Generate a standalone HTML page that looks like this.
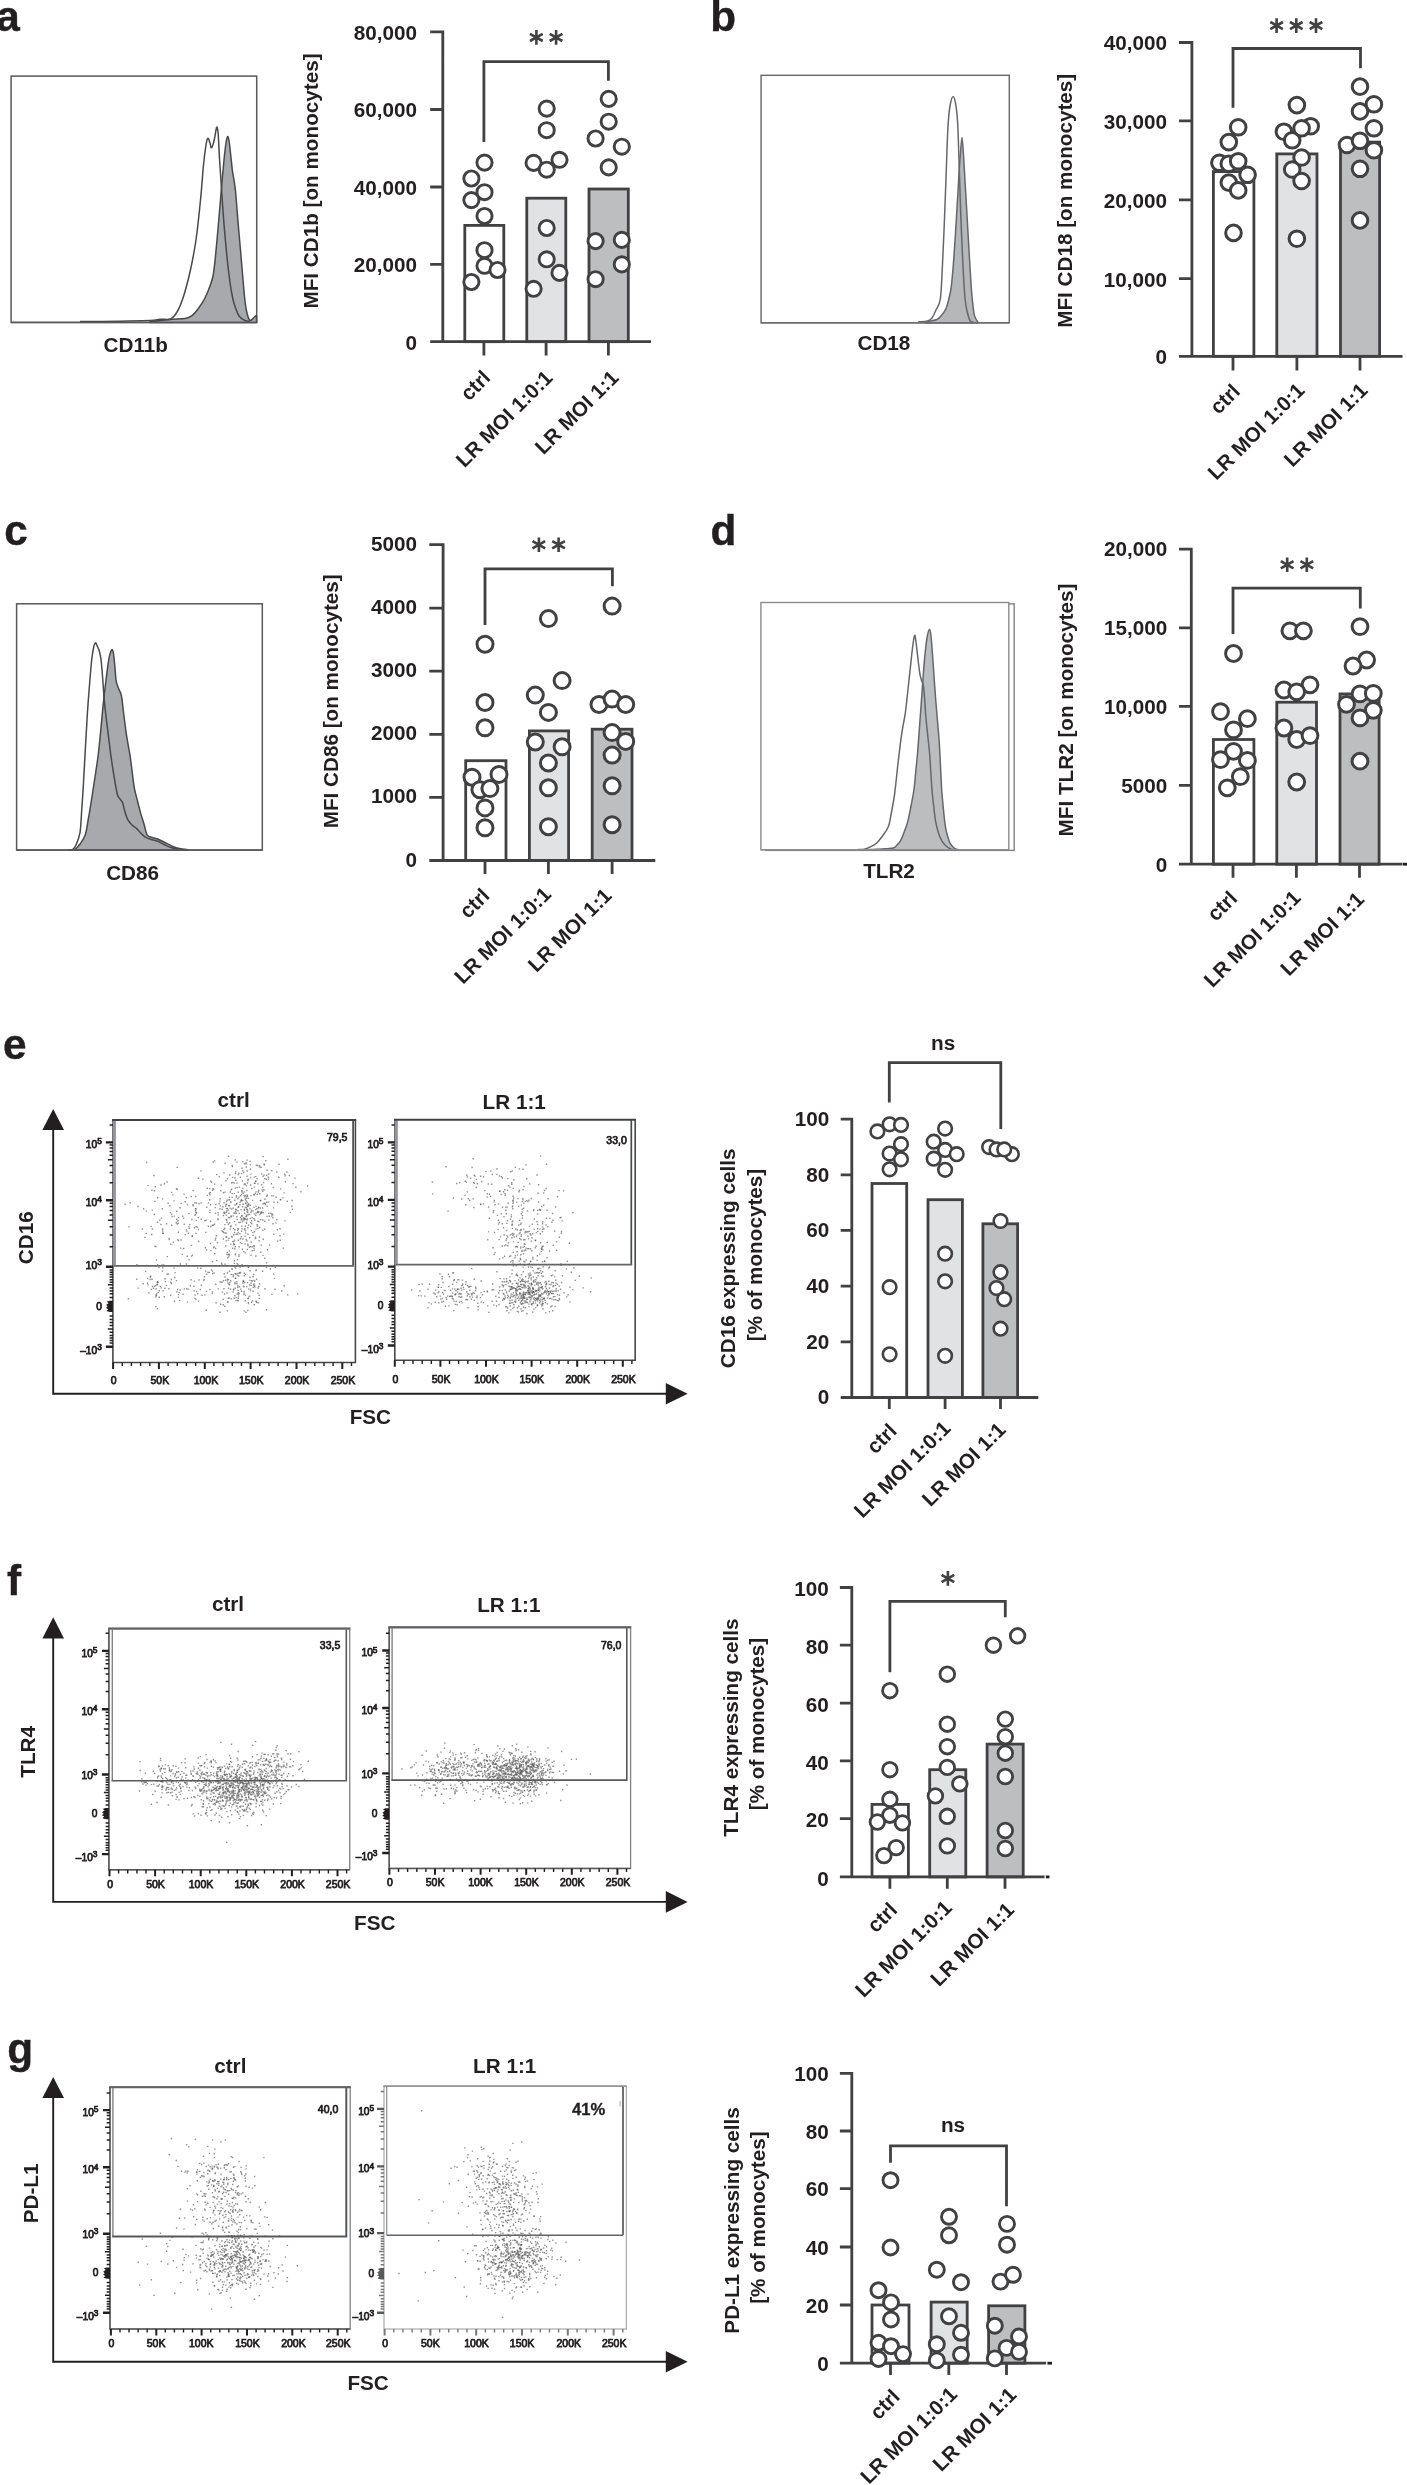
<!DOCTYPE html>
<html><head><meta charset="utf-8"><title>Figure</title>
<style>
html,body{margin:0;padding:0;background:#fff}
svg{display:block;font-family:"Liberation Sans",sans-serif;will-change:transform;-webkit-font-smoothing:antialiased}
</style></head><body>
<svg width="1407" height="2485" viewBox="0 0 1407 2485">
<rect width="1407" height="2485" fill="#fff"/>
<text x="-3.7" y="30.9" font-size="42.3" text-anchor="start" font-weight="bold" fill="#231f20" stroke="#231f20" stroke-width="0.4">a</text>
<text x="710.3" y="30.8" font-size="42.3" text-anchor="start" font-weight="bold" fill="#231f20" stroke="#231f20" stroke-width="0.4">b</text>
<text x="4.3" y="544.5" font-size="42.3" text-anchor="start" font-weight="bold" fill="#231f20" stroke="#231f20" stroke-width="0.4">c</text>
<text x="710.6" y="544.6" font-size="42.3" text-anchor="start" font-weight="bold" fill="#231f20" stroke="#231f20" stroke-width="0.4">d</text>
<text x="2.9" y="1059.2" font-size="42.3" text-anchor="start" font-weight="bold" fill="#231f20" stroke="#231f20" stroke-width="0.4">e</text>
<text x="7.1" y="1594.9" font-size="42.3" text-anchor="start" font-weight="bold" fill="#231f20" stroke="#231f20" stroke-width="0.4">f</text>
<text x="7.2" y="2063" font-size="42.3" text-anchor="start" font-weight="bold" fill="#231f20" stroke="#231f20" stroke-width="0.4">g</text>
<rect x="11.1" y="76.1" width="245.6" height="246.3" fill="#fff" stroke="#58595b" stroke-width="1.5"/>
<path d="M150 321.6C153.3 321.2 164.2 320 170 319.5C175.8 319 181.3 319.1 185 318.5C188.7 317.9 189.8 317.2 192 315.6C194.2 314 195.9 311.9 198 309C200.1 306.1 202.7 302.3 204.7 298.5C206.7 294.7 208.6 289.9 210 286C211.4 282.1 212.3 280 213.2 275C214.1 270 214.8 262.8 215.5 256C216.2 249.2 216.8 242.5 217.5 234.5C218.2 226.5 219.1 216.2 219.8 208C220.5 199.8 221 193.5 221.7 185.5C222.4 177.5 223.3 167.1 224 160C224.7 152.9 225.4 146.9 226 143C226.6 139.1 227.2 136.7 227.7 136.5C228.2 136.3 228.7 138.8 229.2 142C229.7 145.2 230.3 151.2 230.8 156C231.3 160.8 231.9 166.6 232.4 170.6C232.9 174.6 233.5 176.4 234 180C234.5 183.6 234.9 184.7 235.6 192C236.3 199.3 237.3 213.3 238.2 224C239.1 234.7 240.2 246.3 241 256C241.8 265.7 242.5 274.2 243.2 282C243.9 289.8 244.5 297.5 245.2 302.8C245.9 308.1 246.5 311.1 247.2 314C247.9 316.9 248.7 319.1 249.5 320C250.3 320.9 251.2 320 252 319.5C252.8 319 253.8 317.7 254.5 317C255.2 316.3 256.2 315.8 256.5 315.5L256.5 322.4L150 322.4Z" fill="#a7a9ac" stroke="#48494b" stroke-width="1.5" stroke-linejoin="round"/>
<path d="M80 321.6C86.7 321.5 108.3 321.4 120 321.2C131.7 321 143.3 320.9 150 320.6C156.7 320.3 156.6 319.5 160 319.2C163.4 318.9 167.8 320.2 170.6 319C173.4 317.8 174.9 315.5 177 312C179.1 308.5 180.8 304.7 183 298C185.2 291.3 187.8 281.7 190 272C192.2 262.3 194.2 252 196 240C197.8 228 199.2 212.5 200.5 200C201.8 187.5 202.6 174.2 203.5 165C204.4 155.8 205.3 149.5 206 145C206.7 140.5 207.2 138.5 207.9 138.2C208.6 137.9 209.4 141.4 210 143C210.6 144.6 210.8 148.1 211.5 147.8C212.2 147.5 213.2 144 214 141C214.8 138 215.5 132.3 216 130C216.5 127.7 216.6 126.6 217 127.3C217.4 128 217.8 128.6 218.2 134C218.6 139.4 219 150.3 219.6 160C220.2 169.7 220.9 180.2 221.7 191.9C222.5 203.6 223.4 217.6 224.5 230C225.6 242.4 226.8 256.2 228 266.5C229.2 276.8 230.4 285.6 231.5 292C232.6 298.4 233.2 301 234.5 305C235.8 309 237.2 313.4 239 316C240.8 318.6 243.2 319.6 245 320.5C246.8 321.4 249.2 321.3 250 321.5" fill="none" stroke="#48494b" stroke-width="1.5" stroke-linejoin="round"/>
<path d="M11.1 322.4H256.7" stroke="#58595b" stroke-width="1.5"/>
<text x="135.8" y="352.2" font-size="20.7" text-anchor="middle" font-weight="bold" fill="#231f20">CD11b</text>
<rect x="464.8" y="225.4" width="39" height="116.3" fill="#ffffff" stroke="#414042" stroke-width="2.8"/>
<rect x="526.8" y="198.2" width="39" height="143.5" fill="#e1e2e3" stroke="#414042" stroke-width="2.8"/>
<rect x="589" y="189" width="39.3" height="152.7" fill="#bdbec0" stroke="#414042" stroke-width="2.8"/>
<path d="M442.8 30.4V341.7M430.2 341.7H651M430.2 31.8H442.8M430.2 109.5H442.8M430.2 187H442.8M430.2 264.4H442.8M483.9 341.7V355.4M546.1 341.7V355.4M608.4 341.7V355.4M483.9 142V61.7H608.4V80.8" stroke="#414042" stroke-width="2.8" fill="none"/>
<g fill="#fff" stroke="#414042" stroke-width="2.9"><circle cx="484.5" cy="162.6" r="7.6"/><circle cx="471.4" cy="178.5" r="7.6"/><circle cx="484.5" cy="192.2" r="7.6"/><circle cx="471.4" cy="200.1" r="7.6"/><circle cx="484.5" cy="216" r="7.6"/><circle cx="484.5" cy="250.2" r="7.6"/><circle cx="484.5" cy="265.8" r="7.6"/><circle cx="497.5" cy="270" r="7.6"/><circle cx="471.4" cy="282" r="7.6"/><circle cx="546.7" cy="108.6" r="7.6"/><circle cx="546.7" cy="130.2" r="7.6"/><circle cx="533.6" cy="162.9" r="7.6"/><circle cx="559.5" cy="159.8" r="7.6"/><circle cx="546.7" cy="169.7" r="7.6"/><circle cx="546.7" cy="228" r="7.6"/><circle cx="546.7" cy="259.3" r="7.6"/><circle cx="559.5" cy="272.9" r="7.6"/><circle cx="533.6" cy="288.8" r="7.6"/><circle cx="608.7" cy="98.9" r="7.6"/><circle cx="608.7" cy="121.7" r="7.6"/><circle cx="595.6" cy="138.5" r="7.6"/><circle cx="621.8" cy="146.7" r="7.6"/><circle cx="608.7" cy="167.4" r="7.6"/><circle cx="595.6" cy="241.1" r="7.6"/><circle cx="621.8" cy="239.9" r="7.6"/><circle cx="621.8" cy="264.4" r="7.6"/><circle cx="595.6" cy="279.2" r="7.6"/></g>
<text x="417" y="39.7" font-size="20.7" text-anchor="end" font-weight="bold" fill="#231f20">80,000</text>
<text x="417" y="117.4" font-size="20.7" text-anchor="end" font-weight="bold" fill="#231f20">60,000</text>
<text x="417" y="194.9" font-size="20.7" text-anchor="end" font-weight="bold" fill="#231f20">40,000</text>
<text x="417" y="272.3" font-size="20.7" text-anchor="end" font-weight="bold" fill="#231f20">20,000</text>
<text x="417" y="349.6" font-size="20.7" text-anchor="end" font-weight="bold" fill="#231f20">0</text>
<path d="M536.4 30.1L536.4 44.7M530 33.8L542.7 41M542.7 33.8L530 41" stroke="#414042" stroke-width="2.6" fill="none"/>
<path d="M556.1 30.1L556.1 44.7M549.7 33.8L562.4 41M562.4 33.8L549.7 41" stroke="#414042" stroke-width="2.6" fill="none"/>
<text x="317.8" y="181" font-size="20.7" text-anchor="middle" font-weight="bold" fill="#231f20" transform="rotate(-90 317.8 181)">MFI CD1b [on monocytes]</text>
<text x="491.7" y="379" font-size="20.7" text-anchor="end" font-weight="bold" fill="#231f20" transform="rotate(-45 491.7 379)">ctrl</text>
<text x="553.9" y="379" font-size="20.7" text-anchor="end" font-weight="bold" fill="#231f20" transform="rotate(-45 553.9 379)">LR MOI 1:0:1</text>
<text x="619.8" y="379" font-size="20.7" text-anchor="end" font-weight="bold" fill="#231f20" transform="rotate(-45 619.8 379)">LR MOI 1:1</text>
<rect x="761.1" y="75.3" width="248.2" height="247.5" fill="#fff" stroke="#6d6e71" stroke-width="1.5"/>
<path d="M925 322C926.9 321.6 933.5 320.8 936.2 319.8C938.9 318.8 939.4 317.8 941 316C942.6 314.2 944.5 311.7 945.8 309C947.1 306.3 947.7 303.5 948.6 300C949.5 296.5 950.3 293.6 951.1 287.8C951.9 282 952.6 273.9 953.3 265C954 256.1 954.8 244 955.4 234.5C956 225 956.5 216.9 957 208C957.5 199.1 958.1 190 958.6 181.2C959.1 172.4 959.7 162.3 960.3 155C960.9 147.7 961.5 137.5 962 137.5C962.5 137.5 963 147.8 963.5 155C964 162.2 964.5 172.2 965 181C965.5 189.8 966.1 199.1 966.6 208C967.1 216.9 967.6 225.5 968.1 234.5C968.6 243.5 969.2 253.1 969.7 262C970.2 270.9 970.8 280.8 971.3 288C971.8 295.2 972.4 300.4 972.9 305C973.4 309.6 973.7 312.8 974.5 315.6C975.3 318.4 977.2 320.9 977.7 322L977.7 322.8L925 322.8Z" fill="#b5b7b9" stroke="#66676a" stroke-width="1.5" stroke-linejoin="round"/>
<path d="M918 322C919.6 321.8 925.3 321.7 927.6 321C929.9 320.3 930.6 319.8 932 318C933.4 316.2 934.6 313.2 936 310C937.4 306.8 939.3 306.5 940.4 298.5C941.5 290.5 941.9 276.2 942.6 262C943.3 247.8 944.1 228.5 944.7 213.2C945.3 197.9 945.8 184.2 946.3 170C946.8 155.8 947.3 138.7 947.9 128C948.5 117.3 949.1 111.3 950 106C950.9 100.7 952.2 96.4 953.2 96.4C954.2 96.4 955.2 100.7 956 106C956.8 111.3 957.4 117.3 957.9 128C958.4 138.7 958.8 155.8 959.3 170C959.8 184.2 960.1 197.7 960.7 213C961.3 228.3 962.1 247.8 962.8 262C963.5 276.2 964.2 290 965 298.5C965.8 307 966.6 309.2 967.5 313C968.4 316.8 969.2 319.4 970.3 321C971.4 322.6 973.4 322.1 974 322.3" fill="none" stroke="#66676a" stroke-width="1.5" stroke-linejoin="round"/>
<path d="M761.1 322.8H1009.3" stroke="#6d6e71" stroke-width="1.5"/>
<text x="883.9" y="349.7" font-size="20.7" text-anchor="middle" font-weight="bold" fill="#231f20">CD18</text>
<rect x="1213.4" y="171.6" width="40.5" height="184.7" fill="#ffffff" stroke="#414042" stroke-width="2.8"/>
<rect x="1276.8" y="153.9" width="40.2" height="202.4" fill="#e1e2e3" stroke="#414042" stroke-width="2.8"/>
<rect x="1340.5" y="142.1" width="39.1" height="214.2" fill="#bdbec0" stroke="#414042" stroke-width="2.8"/>
<path d="M1191.9 41.1V356.3M1179 356.3H1402.5M1179 42.5H1191.9M1179 120.8H1191.9M1179 199.8H1191.9M1179 278.6H1191.9M1233 356.3V370.4M1296.9 356.3V370.4M1360 356.3V370.4M1233 107.7V48.5H1360.5V68.3" stroke="#414042" stroke-width="2.8" fill="none"/>
<g fill="#fff" stroke="#414042" stroke-width="3"><circle cx="1238.2" cy="127.3" r="7.8"/><circle cx="1228.8" cy="142.1" r="7.8"/><circle cx="1219.4" cy="162.8" r="7.8"/><circle cx="1228.8" cy="163.8" r="7.8"/><circle cx="1238.2" cy="161.2" r="7.8"/><circle cx="1247.6" cy="174.8" r="7.8"/><circle cx="1228.8" cy="182.6" r="7.8"/><circle cx="1238.2" cy="190.4" r="7.8"/><circle cx="1233.5" cy="232.9" r="7.8"/><circle cx="1296.9" cy="105.1" r="7.8"/><circle cx="1310.7" cy="126.2" r="7.8"/><circle cx="1283.9" cy="131.7" r="7.8"/><circle cx="1292.2" cy="140.3" r="7.8"/><circle cx="1301.6" cy="128.3" r="7.8"/><circle cx="1301.6" cy="157.5" r="7.8"/><circle cx="1292.2" cy="169.5" r="7.8"/><circle cx="1301.6" cy="181" r="7.8"/><circle cx="1296.9" cy="238.7" r="7.8"/><circle cx="1360" cy="86.6" r="7.8"/><circle cx="1373.9" cy="104.3" r="7.8"/><circle cx="1360" cy="111.4" r="7.8"/><circle cx="1373.9" cy="128.3" r="7.8"/><circle cx="1347" cy="145" r="7.8"/><circle cx="1360" cy="140.8" r="7.8"/><circle cx="1373.9" cy="150.2" r="7.8"/><circle cx="1360" cy="168.8" r="7.8"/><circle cx="1360" cy="220.4" r="7.8"/></g>
<text x="1167.1" y="50.4" font-size="20.7" text-anchor="end" font-weight="bold" fill="#231f20">40,000</text>
<text x="1167.1" y="128.7" font-size="20.7" text-anchor="end" font-weight="bold" fill="#231f20">30,000</text>
<text x="1167.1" y="207.7" font-size="20.7" text-anchor="end" font-weight="bold" fill="#231f20">20,000</text>
<text x="1167.1" y="286.5" font-size="20.7" text-anchor="end" font-weight="bold" fill="#231f20">10,000</text>
<text x="1167.1" y="364.2" font-size="20.7" text-anchor="end" font-weight="bold" fill="#231f20">0</text>
<path d="M1276.6 18.3L1276.6 32.9M1270.3 22L1282.9 29.2M1282.9 22L1270.3 29.2" stroke="#414042" stroke-width="2.6" fill="none"/>
<path d="M1296.3 18.3L1296.3 32.9M1290 22L1302.6 29.2M1302.6 22L1290 29.2" stroke="#414042" stroke-width="2.6" fill="none"/>
<path d="M1316 18.3L1316 32.9M1309.7 22L1322.3 29.2M1322.3 22L1309.7 29.2" stroke="#414042" stroke-width="2.6" fill="none"/>
<text x="1072.5" y="200.8" font-size="20.7" text-anchor="middle" font-weight="bold" fill="#231f20" transform="rotate(-90 1072.5 200.8)">MFI CD18 [on monocytes]</text>
<text x="1241.3" y="392.6" font-size="20.7" text-anchor="end" font-weight="bold" fill="#231f20" transform="rotate(-45 1241.3 392.6)">ctrl</text>
<text x="1305.8" y="391.7" font-size="20.7" text-anchor="end" font-weight="bold" fill="#231f20" transform="rotate(-45 1305.8 391.7)">LR MOI 1:0:1</text>
<text x="1368.8" y="391.7" font-size="20.7" text-anchor="end" font-weight="bold" fill="#231f20" transform="rotate(-45 1368.8 391.7)">LR MOI 1:1</text>
<rect x="16.6" y="603.8" width="245.7" height="246.3" fill="#fff" stroke="#58595b" stroke-width="1.5"/>
<path d="M70 850C70.8 850 72.9 850.7 74.6 849.7C76.3 848.7 78.2 846.5 80 844C81.8 841.5 83.9 839.1 85.3 834.8C86.7 830.5 87.4 824 88.5 818C89.6 812 90.6 805.3 91.7 798.5C92.8 791.7 93.9 784.1 95 777C96.1 769.9 97.1 763.7 98.1 755.9C99.1 748.1 99.9 738.9 100.8 730C101.7 721.1 102.5 710.9 103.4 702.6C104.3 694.3 105.1 687.1 106 680C106.9 672.9 107.9 664.6 108.7 659.9C109.5 655.2 110 653.7 110.6 652C111.2 650.3 111.9 649.2 112.4 649.7C112.9 650.2 113.3 652 113.7 655C114.1 658 114.6 663.6 115 668C115.4 672.4 115.6 677.7 116.2 681.2C116.8 684.7 117.9 686.5 118.8 689C119.7 691.5 120.7 692.2 121.5 696.2C122.3 700.2 122.9 707.3 123.6 713C124.3 718.7 125.1 725.1 125.8 730.3C126.5 735.5 127.3 739.7 128 744C128.7 748.3 129.4 751.2 130.1 755.9C130.8 760.6 131.5 766.7 132.2 772C132.9 777.3 133.4 783 134.3 787.8C135.2 792.6 136.4 796.7 137.5 801C138.6 805.3 139.6 809.6 140.7 813.4C141.8 817.2 142.9 820.4 144 824C145.1 827.6 145.8 832.5 147.1 834.8C148.4 837 150.2 836.8 152 837.5C153.8 838.2 155.8 838.2 157.8 839C159.8 839.8 161.9 840.9 164 842C166.1 843.1 168.4 844.4 170.6 845.4C172.8 846.4 174.9 847.4 177 848C179.1 848.6 181.6 849 183.4 849.3C185.2 849.6 187.2 849.7 188 849.8L188 850.1L70 850.1Z" fill="#a7a9ac" stroke="#48494b" stroke-width="1.5" stroke-linejoin="round"/>
<path d="M68 850C68.8 850 71.2 850.5 72.5 849.7C73.8 848.9 74.8 847.9 76 845C77.2 842.1 79.1 838.1 80 832.6C80.9 827.1 81.1 819.5 81.6 812C82.1 804.5 82.6 798.1 83.2 787.8C83.8 777.5 84.6 762.4 85.3 750C86 737.6 86.7 724 87.4 713.2C88.1 702.4 88.8 693.9 89.5 685C90.2 676.1 91 666.2 91.7 660C92.4 653.8 92.9 650.9 93.5 648C94.1 645.1 94.9 643.2 95.5 642.9C96.1 642.6 96.6 644.8 97.2 646C97.8 647.2 98.6 648.8 99.1 650.3C99.6 651.8 99.8 653 100.2 655C100.6 657 100.9 657.8 101.3 662C101.7 666.2 102.3 673.2 102.8 680C103.3 686.8 103.7 694.3 104.5 702.6C105.3 710.9 106.6 721.1 107.7 730C108.8 738.9 109.9 748.2 110.9 755.9C112 763.6 112.9 769.6 114 776C115.1 782.4 116.3 790.4 117.3 794.2C118.3 798 119.1 797.6 120 799C120.9 800.4 121.8 800.6 122.6 802.8C123.4 805 124.1 809.2 125 812C125.9 814.8 126.7 817.6 127.9 819.8C129.1 822 130.6 823.6 132 825C133.4 826.4 135.1 827.1 136.5 828.4C137.9 829.7 139.3 831.6 140.7 833C142.1 834.4 143.3 835.8 145 836.9C146.7 838 148.9 838.8 151 839.5C153.1 840.2 155.6 840.4 157.8 841.2C160 842 161.9 843.5 164 844.5C166.1 845.5 168.3 846.8 170.6 847.5C172.9 848.2 175.2 848.6 178 849C180.8 849.4 186 849.6 187.6 849.7" fill="none" stroke="#48494b" stroke-width="1.5" stroke-linejoin="round"/>
<path d="M16.6 850.1H262.3" stroke="#58595b" stroke-width="1.5"/>
<text x="132.6" y="880" font-size="20.7" text-anchor="middle" font-weight="bold" fill="#231f20">CD86</text>
<rect x="465.7" y="760.7" width="40.3" height="99.8" fill="#ffffff" stroke="#414042" stroke-width="2.8"/>
<rect x="529.4" y="730.9" width="39.2" height="129.6" fill="#e1e2e3" stroke="#414042" stroke-width="2.8"/>
<rect x="592.2" y="729.2" width="39.8" height="131.3" fill="#bdbec0" stroke="#414042" stroke-width="2.8"/>
<path d="M443.1 543.3V860.5M429.3 860.5H655.3M429.3 544.7H443.1M429.3 608.1H443.1M429.3 671.2H443.1M429.3 734.3H443.1M429.3 797.4H443.1M485 860.5V873.9M548.4 860.5V873.9M612.1 860.5V873.9M485 625.1V568.8H612.4V586.2" stroke="#414042" stroke-width="2.8" fill="none"/>
<g fill="#fff" stroke="#414042" stroke-width="3"><circle cx="485" cy="644.2" r="8"/><circle cx="485" cy="702.5" r="8"/><circle cx="485" cy="727.8" r="8"/><circle cx="472" cy="777.2" r="8"/><circle cx="499" cy="774.4" r="8"/><circle cx="479.9" cy="789.7" r="8"/><circle cx="489.9" cy="788.6" r="8"/><circle cx="485" cy="807.9" r="8"/><circle cx="485" cy="827.8" r="8"/><circle cx="548.4" cy="618.6" r="8"/><circle cx="562.1" cy="680.6" r="8"/><circle cx="535.3" cy="695.1" r="8"/><circle cx="548.4" cy="712.4" r="8"/><circle cx="535.3" cy="742" r="8"/><circle cx="562.1" cy="746.8" r="8"/><circle cx="548.4" cy="763" r="8"/><circle cx="548.4" cy="787.8" r="8"/><circle cx="548.4" cy="826.7" r="8"/><circle cx="612.1" cy="606.1" r="8"/><circle cx="599" cy="704.5" r="8"/><circle cx="612.1" cy="699.1" r="8"/><circle cx="625.7" cy="704.5" r="8"/><circle cx="612.1" cy="732.6" r="8"/><circle cx="625.7" cy="741.4" r="8"/><circle cx="612.1" cy="755.1" r="8"/><circle cx="612.1" cy="785.8" r="8"/><circle cx="612.1" cy="824.7" r="8"/></g>
<text x="417.1" y="550.7" font-size="20.7" text-anchor="end" font-weight="bold" fill="#231f20">5000</text>
<text x="417.1" y="614.1" font-size="20.7" text-anchor="end" font-weight="bold" fill="#231f20">4000</text>
<text x="417.1" y="677.2" font-size="20.7" text-anchor="end" font-weight="bold" fill="#231f20">3000</text>
<text x="417.1" y="740.3" font-size="20.7" text-anchor="end" font-weight="bold" fill="#231f20">2000</text>
<text x="417.1" y="803.4" font-size="20.7" text-anchor="end" font-weight="bold" fill="#231f20">1000</text>
<text x="417.1" y="866.5" font-size="20.7" text-anchor="end" font-weight="bold" fill="#231f20">0</text>
<path d="M538.9 537.4L538.9 552M532.5 541.1L545.2 548.4M545.2 541.1L532.5 548.4" stroke="#414042" stroke-width="2.6" fill="none"/>
<path d="M558.6 537.4L558.6 552M552.2 541.1L564.9 548.4M564.9 541.1L552.2 548.4" stroke="#414042" stroke-width="2.6" fill="none"/>
<text x="337.7" y="701.3" font-size="20.7" text-anchor="middle" font-weight="bold" fill="#231f20" transform="rotate(-90 337.7 701.3)">MFI CD86 [on monocytes]</text>
<text x="490.9" y="896.8" font-size="20.7" text-anchor="end" font-weight="bold" fill="#231f20" transform="rotate(-45 490.9 896.8)">ctrl</text>
<text x="552.4" y="895.7" font-size="20.7" text-anchor="end" font-weight="bold" fill="#231f20" transform="rotate(-45 552.4 895.7)">LR MOI 1:0:1</text>
<text x="612.9" y="896.8" font-size="20.7" text-anchor="end" font-weight="bold" fill="#231f20" transform="rotate(-45 612.9 896.8)">LR MOI 1:1</text>
<rect x="766" y="603.9" width="248.2" height="246.5" fill="none" stroke="#808285" stroke-width="1.4"/>
<rect x="760.9" y="602.5" width="247.9" height="247.2" fill="#fff" stroke="#8a8c8e" stroke-width="1.4"/>
<path d="M870 849.6C871.1 849.5 873.9 849.3 876.4 849.2C878.9 849.1 882.2 849 885 848.8C887.8 848.6 891.3 848.6 893.3 848C895.3 847.4 895.8 846.2 897 845C898.2 843.8 899.4 842.9 900.6 840.7C901.8 838.5 903 835.2 904.2 832C905.4 828.8 906.7 825.7 907.8 821.4C908.9 817.1 910 811.2 911 806C912 800.8 913.1 795.7 913.9 790C914.7 784.3 915.1 778 915.7 772C916.3 766 916.9 760.7 917.5 753.7C918.1 746.7 918.7 738 919.3 730C919.9 722 920.5 713.7 921.1 705.4C921.7 697.1 922.3 688 922.9 680C923.5 672 924 664.1 924.7 657.1C925.4 650.1 926.2 642.6 927 638C927.8 633.4 928.9 629.3 929.6 629.3C930.3 629.3 930.7 633.8 931.2 638C931.7 642.2 932 648.4 932.5 654.7C933 661 933.5 668.8 934 676C934.5 683.2 935 690.9 935.6 698.2C936.2 705.5 936.8 712.8 937.4 720C938 727.2 938.7 734 939.2 741.7C939.7 749.4 940.1 758 940.5 766C940.9 774 941.2 782.7 941.7 790C942.2 797.3 942.9 804 943.5 810C944.1 816 944.6 821.9 945.3 826.2C946 830.5 946.7 833.2 947.5 836C948.3 838.8 949.2 841.4 950.1 843.2C951 845 952 846 953 847C954 848 955 848.8 956.2 849.2C957.4 849.7 959.4 849.6 960 849.7L960 849.7L870 849.7Z" fill="#bbbdbf" stroke="#66676a" stroke-width="1.5" stroke-linejoin="round"/>
<path d="M858 849.6C859 849.5 862.3 849.6 864.3 849.2C866.3 848.8 868 848 870 847C872 846 874.3 845 876.4 843.2C878.5 841.4 880.5 838.8 882.5 836C884.5 833.2 887 830.2 888.5 826.2C890 822.2 890.5 817.2 891.5 812C892.5 806.8 893.5 802.1 894.5 794.8C895.5 787.5 896.5 776.9 897.5 768C898.5 759.1 899.7 748.7 900.6 741.7C901.5 734.7 902.2 730.8 903 726C903.8 721.2 904.6 718.5 905.4 712.7C906.2 706.9 907 698.2 907.8 691C908.6 683.8 909.4 676.4 910.2 669.2C911 662 911.8 653.6 912.5 648C913.2 642.4 914 636.3 914.6 635.3C915.2 634.3 915.5 638.8 916 642C916.5 645.2 917 650.9 917.5 654.7C918 658.5 918.3 661.8 918.7 665C919.1 668.2 919.4 671.3 919.9 674C920.4 676.7 921.1 679 921.7 681C922.3 683 923 682.9 923.5 686.1C924 689.3 924.3 694.8 924.7 700C925.1 705.2 925.4 711.7 925.9 717.5C926.4 723.3 927.1 729 927.7 735C928.3 741 929.1 747.5 929.6 753.7C930.1 759.9 930.4 766 930.8 772C931.2 778 931.5 784.2 932 790C932.5 795.8 933.2 801.8 933.8 807C934.4 812.2 934.8 817.1 935.6 821.4C936.4 825.7 937.5 829.8 938.5 833C939.5 836.2 940.5 838.5 941.7 840.7C943 842.9 944.4 844.6 946 846C947.6 847.4 949.6 848.6 951.3 849.2C953 849.8 955.2 849.6 956 849.7" fill="none" stroke="#66676a" stroke-width="1.5" stroke-linejoin="round"/>
<path d="M760.9 849.7H1008.8" stroke="#8a8c8e" stroke-width="1.4"/>
<text x="889" y="877.7" font-size="20.7" text-anchor="middle" font-weight="bold" fill="#231f20">TLR2</text>
<rect x="1213.4" y="739.5" width="40.5" height="124.7" fill="#ffffff" stroke="#414042" stroke-width="2.8"/>
<rect x="1276.8" y="702.2" width="39.7" height="162" fill="#e1e2e3" stroke="#414042" stroke-width="2.8"/>
<rect x="1340" y="693.9" width="39.1" height="170.3" fill="#bdbec0" stroke="#414042" stroke-width="2.8"/>
<path d="M1191.3 547.7V864.2M1179 864.2H1402.5M1179 549.1H1191.3M1179 627.9H1191.3M1179 706.4H1191.3M1179 785.4H1191.3M1233 864.2V877.8M1296.4 864.2V877.8M1359.5 864.2V877.8M1233 633.9V588.2H1360.3V608.6" stroke="#414042" stroke-width="2.8" fill="none"/>
<path d="M1403 864.2H1407" stroke="#231f20" stroke-width="2.8"/>
<g fill="#fff" stroke="#414042" stroke-width="3"><circle cx="1233.5" cy="653.5" r="7.9"/><circle cx="1220.5" cy="711.6" r="7.9"/><circle cx="1247.4" cy="718.7" r="7.9"/><circle cx="1233.5" cy="729.9" r="7.9"/><circle cx="1233.5" cy="751.3" r="7.9"/><circle cx="1220.5" cy="759.6" r="7.9"/><circle cx="1247.4" cy="760.4" r="7.9"/><circle cx="1240.3" cy="776.6" r="7.9"/><circle cx="1227.3" cy="787.8" r="7.9"/><circle cx="1289.9" cy="630.8" r="7.9"/><circle cx="1303.4" cy="630.8" r="7.9"/><circle cx="1310" cy="684.8" r="7.9"/><circle cx="1283.9" cy="690" r="7.9"/><circle cx="1296.7" cy="691.8" r="7.9"/><circle cx="1283.9" cy="728" r="7.9"/><circle cx="1296.7" cy="739.5" r="7.9"/><circle cx="1310" cy="735.6" r="7.9"/><circle cx="1296.7" cy="782" r="7.9"/><circle cx="1360" cy="626.6" r="7.9"/><circle cx="1366.6" cy="660" r="7.9"/><circle cx="1353" cy="666" r="7.9"/><circle cx="1360" cy="693.9" r="7.9"/><circle cx="1373.3" cy="693.4" r="7.9"/><circle cx="1346.5" cy="704.3" r="7.9"/><circle cx="1373.3" cy="710.3" r="7.9"/><circle cx="1360" cy="717.9" r="7.9"/><circle cx="1360" cy="761.2" r="7.9"/></g>
<text x="1167.3" y="556.4" font-size="20.7" text-anchor="end" font-weight="bold" fill="#231f20">20,000</text>
<text x="1167.3" y="635.2" font-size="20.7" text-anchor="end" font-weight="bold" fill="#231f20">15,000</text>
<text x="1167.3" y="713.7" font-size="20.7" text-anchor="end" font-weight="bold" fill="#231f20">10,000</text>
<text x="1167.3" y="792.7" font-size="20.7" text-anchor="end" font-weight="bold" fill="#231f20">5000</text>
<text x="1167.3" y="871.5" font-size="20.7" text-anchor="end" font-weight="bold" fill="#231f20">0</text>
<path d="M1287.2 557.5L1287.2 572.1M1280.8 561.1L1293.5 568.4M1293.5 561.1L1280.8 568.4" stroke="#414042" stroke-width="2.6" fill="none"/>
<path d="M1306.8 557.5L1306.8 572.1M1300.5 561.1L1313.2 568.4M1313.2 561.1L1300.5 568.4" stroke="#414042" stroke-width="2.6" fill="none"/>
<text x="1072.5" y="710" font-size="20.7" text-anchor="middle" font-weight="bold" fill="#231f20" transform="rotate(-90 1072.5 710)">MFI TLR2 [on monocytes]</text>
<text x="1238.5" y="899.6" font-size="20.7" text-anchor="end" font-weight="bold" fill="#231f20" transform="rotate(-45 1238.5 899.6)">ctrl</text>
<text x="1301.9" y="899" font-size="20.7" text-anchor="end" font-weight="bold" fill="#231f20" transform="rotate(-45 1301.9 899)">LR MOI 1:0:1</text>
<text x="1365.4" y="900.5" font-size="20.7" text-anchor="end" font-weight="bold" fill="#231f20" transform="rotate(-45 1365.4 900.5)">LR MOI 1:1</text>
<path d="M53.2 1123.9V1393.8H672.6" stroke="#231f20" stroke-width="1.9" fill="none"/>
<path d="M53.2 1108.9L42.4 1130.1L64 1130.1Z" fill="#231f20"/>
<path d="M687.6 1393.8L665.8 1383L665.8 1404.6Z" fill="#231f20"/>
<text x="33.5" y="1237.7" font-size="20.7" text-anchor="middle" font-weight="bold" fill="#231f20" transform="rotate(-90 33.5 1237.7)">CD16</text>
<text x="349.7" y="1423.6" font-size="20.7" text-anchor="start" font-weight="bold" fill="#231f20">FSC</text>
<path d="M250.3 1212.6h1.4M268.6 1216.3h1.4M228.2 1213.2h1.4M227.9 1156.4h1.4M241.2 1216h1.4M233.6 1183.1h1.4M244.8 1195.5h1.4M213.4 1247h1.4M221.4 1231h1.4M257 1211.4h1.4M223.5 1213.3h1.4M234.9 1173.5h1.4M253.4 1248.4h1.4M240.9 1199.5h1.4M237.2 1210.8h1.4M264.7 1204.5h1.4M214 1160.9h1.4M236.4 1187.6h1.4M252.1 1232.6h1.4M229 1217.6h1.4M209.9 1204.8h1.4M261.4 1189.9h1.4M240.3 1209.6h1.4M231.1 1209h1.4M242.3 1239h1.4M240.8 1200.9h1.4M254.2 1183.2h1.4M263.4 1164.2h1.4M244.1 1196.7h1.4M243.5 1220.1h1.4M245.9 1207.8h1.4M266 1175.2h1.4M258.8 1237h1.4M259 1227.5h1.4M224.5 1232.9h1.4M245 1219.3h1.4M228.3 1205.5h1.4M236.3 1183.1h1.4M250 1222.6h1.4M219.3 1208.8h1.4M266.4 1206.1h1.4M241.8 1249.3h1.4M243.9 1213.2h1.4M257.2 1183.9h1.4M221.5 1209.2h1.4M197.5 1217.6h1.4M242.7 1204.1h1.4M239.8 1195.7h1.4M244.9 1230.9h1.4M250.3 1255.3h1.4M244.7 1226.3h1.4M242.2 1200.6h1.4M263.3 1189.8h1.4M250.2 1195.6h1.4M242.2 1204.4h1.4M225.1 1246h1.4M235.6 1266.2h1.4M225.4 1237h1.4M249.6 1218.6h1.4M276.7 1229.7h1.4M254.9 1237.2h1.4M283.1 1234.1h1.4M225.1 1204.8h1.4M233.3 1241.4h1.4M223.3 1172.9h1.4M236.3 1162.1h1.4M222.8 1215.5h1.4M251.5 1250.8h1.4M234.2 1282.5h1.4M263.6 1203.2h1.4M238.4 1197.1h1.4M225.2 1180.8h1.4M229.6 1192h1.4M239.8 1222.4h1.4M225.9 1208.6h1.4M214.6 1207.6h1.4M214.6 1240h1.4M234.6 1188.1h1.4M216.1 1174.6h1.4M245.4 1216.6h1.4M262.3 1176.2h1.4M190.8 1245.4h1.4M219.1 1201.1h1.4M214 1184.1h1.4M247.2 1180.5h1.4M246.2 1190.5h1.4M241.3 1228.7h1.4M236 1204.3h1.4M238.1 1173.3h1.4M237.9 1206.8h1.4M223.4 1212.2h1.4M213.8 1224.2h1.4M242.4 1193.2h1.4M264.1 1229.3h1.4M200.5 1203h1.4M234.6 1246.8h1.4M223.4 1202.8h1.4M228.3 1238.3h1.4M238.3 1222.5h1.4M250.6 1211.1h1.4M249 1237.8h1.4M255 1209.6h1.4M258.1 1221.9h1.4M244.6 1207.5h1.4M244.6 1184.6h1.4M253.7 1187.1h1.4M235.1 1224.9h1.4M251.2 1188.5h1.4M238.5 1213.4h1.4M273.7 1278.4h1.4M250 1185h1.4M229.5 1229.1h1.4M227.7 1224.2h1.4M241 1190.7h1.4M291.1 1206.3h1.4M239.2 1204.8h1.4M269.5 1269h1.4M253.3 1207.4h1.4M241.4 1190.7h1.4M239.4 1267.3h1.4M209.2 1210.4h1.4M244.7 1203.1h1.4M274.6 1267.4h1.4M243.9 1210.3h1.4M241.7 1181h1.4M223.1 1229.6h1.4M228.3 1254.1h1.4M237.6 1192.3h1.4M237.5 1232.4h1.4M219.5 1198.8h1.4M218.4 1203.5h1.4M211.9 1190.2h1.4M243.8 1229.7h1.4M246.5 1171h1.4M223.2 1212.6h1.4M233.3 1213.3h1.4M219.3 1281.9h1.4M245.9 1198.4h1.4M242 1170.8h1.4M252.4 1235.4h1.4M234.3 1177.8h1.4M231.5 1237.1h1.4M251 1210.3h1.4M246.9 1212.6h1.4M279.6 1240.3h1.4M245.8 1185.9h1.4M248 1204.5h1.4M243.6 1184.5h1.4M282.6 1248.1h1.4M272.2 1217.8h1.4M232.5 1215.9h1.4M208.7 1193.3h1.4M233.8 1240.1h1.4M230.1 1244.1h1.4M262.6 1203.8h1.4M253.2 1194.7h1.4M234.9 1211.7h1.4M251.8 1246.7h1.4M265.8 1309.8h1.4M249 1285h1.4M204.1 1294.9h1.4M243.6 1273.2h1.4M253.3 1284h1.4M253.9 1281.2h1.4M253.4 1280.4h1.4M243.6 1310.9h1.4M238.9 1286.7h1.4M243.6 1275.8h1.4M211.8 1271.1h1.4M247.8 1266.8h1.4M264.3 1288.7h1.4M250.5 1285.4h1.4M232.7 1274.9h1.4M224.9 1280.3h1.4M251 1280.8h1.4M249.2 1277.2h1.4M251 1302.2h1.4M260.1 1252.3h1.4M242.1 1283h1.4M240 1289.1h1.4M272.6 1265.5h1.4M234.8 1278.3h1.4M237.3 1273.5h1.4M243.3 1286.8h1.4M258.1 1286.5h1.4M227.2 1302h1.4M237.4 1300.8h1.4M242.8 1286.1h1.4M228.8 1271.2h1.4M273.1 1274.1h1.4M230.6 1274.5h1.4M222.8 1280.8h1.4M210.7 1269.9h1.4M232.4 1274.7h1.4M235.8 1274h1.4M230.6 1298.9h1.4M235.4 1297.6h1.4M211.9 1273.5h1.4M235.2 1274.4h1.4M237.5 1265h1.4M241.4 1264.7h1.4M232.9 1290h1.4M258.4 1295.3h1.4M251.7 1281h1.4M251.9 1300.9h1.4M223.2 1288.8h1.4M188.5 1228.4h1.4M195.4 1226.8h1.4M207.7 1202.9h1.4M186.6 1256.2h1.4M188.4 1259.7h1.4M151.2 1190.2h1.4M200.1 1268.3h1.4M179.3 1207.7h1.4M196.8 1227.1h1.4M192.4 1205.7h1.4M185.7 1264h1.4M175.6 1222.8h1.4M190.8 1256.1h1.4M197.7 1229.5h1.4M165.8 1223.7h1.4M147.3 1185.6h1.4M198.3 1203.7h1.4M153.7 1190.8h1.4M191.5 1236.4h1.4M188.3 1213.6h1.4M136.2 1264.7h1.4M183 1248.5h1.4M194.2 1298.4h1.4M179.6 1264h1.4M160.2 1224.5h1.4M204.2 1220.8h1.4M153.6 1214.5h1.4M157 1197.8h1.4M194.1 1202.7h1.4M168.4 1238.4h1.4M160.8 1218.1h1.4M194.9 1196.5h1.4M210 1181.1h1.4M183.4 1194.1h1.4M184.5 1234.6h1.4M141.7 1229h1.4M159.1 1220.3h1.4M168.5 1239.6h1.4M196.9 1293.7h1.4M172.1 1194.9h1.4M212.9 1189.1h1.4M194.3 1215.3h1.4M195.3 1233.4h1.4M167.4 1203.3h1.4M203.7 1276.7h1.4M145.6 1233.4h1.4M177.7 1232.2h1.4M171.4 1216.5h1.4M154.3 1246.2h1.4M157 1264.7h1.4M161.9 1231h1.4M177.7 1223.4h1.4M194.9 1208.8h1.4M153.2 1175.5h1.4M180.4 1240h1.4M162.4 1233.3h1.4M171 1214.1h1.4M148.2 1292.9h1.4M155.2 1296.9h1.4M136.1 1279.3h1.4M164.4 1278.8h1.4M179.5 1290h1.4M170.7 1279.5h1.4M149.5 1279.5h1.4M154.8 1285.5h1.4M176.9 1289.5h1.4M158.3 1267.6h1.4M158.5 1290.7h1.4M156.9 1281.8h1.4M177.8 1294.6h1.4M146.8 1283.3h1.4M166.4 1274.2h1.4M260.9 1184.8h1.4M262.1 1191.3h1.4M279.8 1199.5h1.4M292.4 1183.6h1.4M271 1195.9h1.4M244.1 1183.6h1.4M287.2 1159.2h1.4M266.3 1216.4h1.4M291.7 1209.2h1.4M286.5 1201.2h1.4M288.7 1175.6h1.4M300.2 1191.8h1.4M264.2 1199.2h1.4M226.3 1293h1.4M249.1 1296.1h1.4M174.5 1272.6h1.4M164.6 1281.6h1.4M170.1 1282.4h1.4M182.3 1294.2h1.4M186.8 1302.1h1.4M219.2 1312.2h1.4M257.9 1302.9h1.4M177.8 1297.1h1.4M226.7 1280.9h1.4M170 1295.2h1.4M274.3 1289.3h1.4M215.4 1302.8h1.4M223.9 1294h1.4M252.4 1291.2h1.4M187.9 1289.1h1.4M228.4 1298h1.4M176.2 1291.8h1.4M198.3 1280h1.4M195.2 1299.3h1.4M257.3 1293.1h1.4M195.9 1291.5h1.4" stroke="#4d4d4f" stroke-opacity="0.62" stroke-width="1.4" fill="none"/>
<path d="M230 1202.6h1.4M235.5 1197.1h1.4M257.4 1212.5h1.4M246.4 1160.1h1.4M247.2 1210.9h1.4M227.5 1240.1h1.4M245.8 1215.2h1.4M244.5 1236.2h1.4M255 1215.2h1.4M228.7 1250.9h1.4M243.3 1195.4h1.4M207.7 1226.2h1.4M239.4 1202.2h1.4M241.8 1221.6h1.4M253.1 1245.8h1.4M255.4 1213h1.4M230 1201.8h1.4M253.1 1218.7h1.4M246.7 1183h1.4M245.5 1239.5h1.4M254.9 1181.1h1.4M217.3 1212.7h1.4M228.2 1205.7h1.4M224.2 1192.1h1.4M241.3 1192h1.4M234.9 1171.9h1.4M214.9 1248.5h1.4M246.3 1211.5h1.4M226.8 1178.7h1.4M237.3 1198.7h1.4M253.5 1246.2h1.4M239.6 1238.7h1.4M273.3 1202.2h1.4M265.7 1267.3h1.4M259.9 1213.3h1.4M246.4 1205.2h1.4M258.9 1167.1h1.4M232.3 1182.4h1.4M214.2 1265.9h1.4M259.6 1200.6h1.4M206 1207.2h1.4M231.9 1177.4h1.4M259.2 1214.6h1.4M266.5 1195h1.4M265.7 1262.9h1.4M243.2 1218.9h1.4M247.3 1245.8h1.4M278.3 1164.3h1.4M239.9 1217.5h1.4M234.9 1209.3h1.4M226.4 1200.2h1.4M247.6 1206h1.4M257.6 1191.6h1.4M227.4 1210h1.4M253.8 1183.4h1.4M268.8 1245.1h1.4M222.8 1192.8h1.4M238.6 1187.1h1.4M245.2 1203.6h1.4M244.2 1228.6h1.4M215.1 1204.5h1.4M230.5 1216.6h1.4M224.2 1213h1.4M241.1 1226.1h1.4M239.2 1233.8h1.4M251.4 1217.7h1.4M262.1 1187.5h1.4M234.1 1248.8h1.4M228.7 1255.1h1.4M267.8 1179.1h1.4M235.6 1209.6h1.4M260.8 1212.4h1.4M233.2 1234.8h1.4M257.7 1192.1h1.4M246.2 1209.2h1.4M223.8 1228.1h1.4M235.1 1180.2h1.4M229.8 1226.8h1.4M233.7 1263.4h1.4M220.8 1263.3h1.4M225.5 1233.1h1.4M224.3 1224.6h1.4M272.5 1187.4h1.4M245.6 1200.9h1.4M268 1213.4h1.4M233.7 1193.6h1.4M241 1218.6h1.4M244.2 1218.5h1.4M209.1 1199.8h1.4M228.8 1199.7h1.4M246.8 1218.9h1.4M247.9 1225.3h1.4M250.7 1230.6h1.4M246.1 1240.7h1.4M217.4 1219.7h1.4M275.2 1222.9h1.4M254.6 1193.4h1.4M258.1 1211.8h1.4M226.1 1220.2h1.4M243.7 1163.9h1.4M246.6 1195.2h1.4M273.1 1234.3h1.4M245.9 1196.9h1.4M268.2 1220.1h1.4M259.6 1208h1.4M220 1190.7h1.4M237.6 1240.3h1.4M259.1 1193.7h1.4M231 1236.4h1.4M248.7 1214.2h1.4M228.9 1223h1.4M249.2 1208.5h1.4M227.9 1199.9h1.4M258.1 1207.2h1.4M240.1 1238.5h1.4M250.1 1246.8h1.4M255.4 1229.1h1.4M236.9 1230.4h1.4M240.8 1194.5h1.4M234.6 1159.9h1.4M217.2 1218.7h1.4M235.8 1195.7h1.4M253.5 1250.3h1.4M247.5 1204h1.4M236.9 1275.6h1.4M261.9 1208h1.4M235.5 1213.3h1.4M253.8 1231.7h1.4M256.6 1194.4h1.4M253.6 1194.6h1.4M231 1189.1h1.4M240.9 1231.3h1.4M248.8 1247.3h1.4M249.5 1205.2h1.4M245.2 1163.7h1.4M230.5 1226h1.4M231.5 1197.4h1.4M231 1182.8h1.4M241.3 1215.8h1.4M229.5 1208.1h1.4M244.5 1252.9h1.4M289.6 1212.4h1.4M232.7 1244.9h1.4M246.6 1249.4h1.4M247.2 1234.1h1.4M256.8 1226.3h1.4M225.1 1206.1h1.4M224 1228.5h1.4M235 1268.1h1.4M267.7 1177.2h1.4M257.2 1221.2h1.4M254.7 1238.5h1.4M243.8 1191.9h1.4M270.7 1183.7h1.4M233.8 1244.5h1.4M235.6 1210.1h1.4M266 1202.2h1.4M223.5 1273.8h1.4M208.7 1272.4h1.4M244.8 1295.1h1.4M222.5 1299.4h1.4M224.3 1264.1h1.4M253.7 1286.3h1.4M234.3 1283.7h1.4M244.9 1274.4h1.4M252.4 1276.7h1.4M233.7 1260.7h1.4M227.3 1282.9h1.4M207.4 1272.5h1.4M242.5 1281.5h1.4M239.9 1272.4h1.4M264.1 1258.2h1.4M234 1266.7h1.4M253.1 1274.5h1.4M221.2 1264.3h1.4M245.2 1312.2h1.4M226.8 1272.7h1.4M221.4 1282.2h1.4M255.1 1256h1.4M224.3 1277h1.4M249.8 1289.1h1.4M249.2 1280.4h1.4M235.3 1300.6h1.4M236.1 1281.7h1.4M226.8 1279.2h1.4M226.3 1254.2h1.4M247.7 1267.3h1.4M257.4 1288h1.4M238.8 1272.7h1.4M236.2 1283.7h1.4M213.4 1273h1.4M238.5 1293.1h1.4M262.3 1255.4h1.4M237.1 1285.9h1.4M229.8 1289.2h1.4M255.6 1301.9h1.4M217.5 1288.9h1.4M237.7 1298.4h1.4M244 1282.5h1.4M225.1 1265.6h1.4M247.8 1303.6h1.4M247.6 1302.6h1.4M215 1284.2h1.4M224.1 1306.2h1.4M243.1 1251.6h1.4M255.9 1279.2h1.4M195.8 1203h1.4M186.6 1204.9h1.4M177.5 1220.6h1.4M169.2 1205.8h1.4M210.3 1250.6h1.4M163.1 1265h1.4M176 1219.2h1.4M146 1265.5h1.4M195.5 1220.4h1.4M128.3 1226.9h1.4M151.7 1229h1.4M197.7 1178.3h1.4M206.7 1195.4h1.4M187.7 1233.2h1.4M154.7 1186.7h1.4M188.2 1226.9h1.4M173.5 1216.1h1.4M186.1 1231.1h1.4M192.4 1204.6h1.4M137.2 1206.5h1.4M157.5 1292.6h1.4M192.5 1190.6h1.4M161.8 1271.1h1.4M176.5 1189.5h1.4M177.8 1217.6h1.4M173.3 1200.9h1.4M212.7 1225.2h1.4M209.1 1188.6h1.4M196 1213h1.4M145.6 1211.1h1.4M189.1 1224.7h1.4M197 1268.1h1.4M124.4 1204.3h1.4M182 1216.2h1.4M181.6 1254.4h1.4M206.6 1188.2h1.4M169.7 1212.6h1.4M185.6 1197.5h1.4M176.6 1221.1h1.4M194.9 1210.5h1.4M215.8 1235.7h1.4M155.5 1295h1.4M166.6 1256.6h1.4M183 1218.1h1.4M172.7 1242.1h1.4M239.8 1242.5h1.4M155.7 1260h1.4M170.9 1225.2h1.4M177.8 1240.6h1.4M209.6 1192.6h1.4M205.3 1220.2h1.4M219.7 1205.9h1.4M177.2 1239.8h1.4M170.1 1244.2h1.4M193.7 1281.1h1.4M176.6 1224h1.4M142.4 1283.7h1.4M147.3 1284.9h1.4M156.7 1284.3h1.4M149.6 1277h1.4M162.4 1290.7h1.4M153.8 1286.4h1.4M158.6 1297.2h1.4M155.2 1306.6h1.4M168.2 1288.7h1.4M167.7 1274h1.4M170.7 1283.5h1.4M147 1278.6h1.4M151.8 1286.5h1.4M156 1294h1.4M157.4 1282.4h1.4M265.7 1179.2h1.4M283.3 1192.9h1.4M246.5 1202.3h1.4M279.8 1199.7h1.4M295.1 1187.3h1.4M256.6 1194.1h1.4M284.1 1174.3h1.4M284.7 1181.7h1.4M263.4 1175.1h1.4M265.1 1160.8h1.4M262.9 1182.6h1.4M306.9 1186h1.4M258 1190.2h1.4M220.3 1282.1h1.4M258.7 1298.4h1.4M254.1 1287.1h1.4M254 1285.5h1.4M201.3 1295.3h1.4M240.8 1291.3h1.4M222.6 1304.7h1.4M186 1288.7h1.4M228.7 1284.7h1.4M193.2 1286.3h1.4M137.4 1288.1h1.4M237.4 1290.4h1.4M178.4 1292.6h1.4M173.8 1301.2h1.4M247.2 1298.4h1.4M252.6 1287.4h1.4M205.6 1310.3h1.4M296.9 1293.9h1.4M283.5 1285.7h1.4M205 1271.1h1.4M271.2 1294.4h1.4M205.8 1291.4h1.4M209.2 1289.5h1.4M193.5 1290.9h1.4" stroke="#4d4d4f" stroke-opacity="0.62" stroke-width="1.4" fill="none"/>
<path d="M228.8 1197.4h1.4M249.9 1226.4h1.4M240.9 1173.6h1.4M253.6 1177.1h1.4M241.2 1168.3h1.4M260.8 1212.8h1.4M250.1 1177.9h1.4M282.4 1197.9h1.4M257.7 1208h1.4M236.2 1216.8h1.4M262.6 1239.3h1.4M244.7 1198.9h1.4M272.8 1207.9h1.4M225.8 1204.3h1.4M256.9 1212.6h1.4M255.1 1176.6h1.4M284.3 1220.9h1.4M241.9 1206.7h1.4M226.2 1211h1.4M234.2 1213.4h1.4M263.7 1164.7h1.4M266.8 1249.7h1.4M232 1241.6h1.4M238.5 1246.8h1.4M246.8 1196.4h1.4M228.1 1256.9h1.4M234.4 1205h1.4M255.3 1191.9h1.4M232 1248.3h1.4M237.7 1229h1.4M233.8 1221.6h1.4M257.2 1228.6h1.4M264.1 1178.8h1.4M218.5 1176.8h1.4M212.5 1162h1.4M220.7 1185.1h1.4M252.4 1211.1h1.4M230.5 1216h1.4M240.7 1236.6h1.4M246.7 1209.9h1.4M212.2 1188.9h1.4M244.4 1243.9h1.4M247.2 1227.8h1.4M246.4 1176.2h1.4M260.1 1200.5h1.4M225.6 1212.3h1.4M272.1 1214.8h1.4M258.4 1240.7h1.4M246.6 1206.4h1.4M275.4 1197.3h1.4M260.7 1211.8h1.4M245.6 1167h1.4M234.8 1254h1.4M279.4 1228.7h1.4M229.1 1175h1.4M254 1220.3h1.4M271.1 1216h1.4M240.5 1219.8h1.4M242.9 1217.6h1.4M257 1165.6h1.4M234.1 1200.3h1.4M247.5 1179.2h1.4M260.5 1245.1h1.4M240.2 1200.5h1.4M262.1 1220h1.4M264.4 1203.4h1.4M209.9 1221.3h1.4M225.9 1201.6h1.4M214.8 1213.4h1.4M225.5 1219.4h1.4M242.1 1188.3h1.4M249.7 1169.3h1.4M226.6 1252.4h1.4M256.2 1208.8h1.4M226 1237h1.4M249.4 1161.4h1.4M255.1 1181.2h1.4M226.5 1222.2h1.4M243.7 1218.8h1.4M231.8 1166.5h1.4M242.9 1172.5h1.4M222.7 1239h1.4M235.4 1234.2h1.4M243.6 1209.5h1.4M236.9 1263.9h1.4M226.7 1208.4h1.4M230.4 1189.9h1.4M250.3 1174.1h1.4M247.4 1214.8h1.4M236 1203.4h1.4M237.6 1207.2h1.4M250.9 1220.7h1.4M217.5 1214.9h1.4M266.4 1170.3h1.4M237.7 1174.6h1.4M238.3 1256.3h1.4M245.8 1223.3h1.4M262.2 1230.4h1.4M260.3 1167.3h1.4M231.5 1193.6h1.4M193.7 1227.8h1.4M247.1 1244.3h1.4M277 1241.1h1.4M271.2 1214h1.4M215.1 1238.3h1.4M250.6 1242h1.4M225.5 1240.9h1.4M227.8 1217.5h1.4M267.8 1202.1h1.4M238.2 1254.6h1.4M224.5 1163.3h1.4M237.2 1228.7h1.4M241.1 1243.6h1.4M231.4 1165.4h1.4M279.4 1235.8h1.4M234 1229.8h1.4M262.4 1156.6h1.4M256.6 1165.5h1.4M264 1221.2h1.4M239.7 1177.3h1.4M242.2 1220.1h1.4M249.6 1164.9h1.4M272.6 1195.9h1.4M244.8 1199.7h1.4M255.2 1206.4h1.4M246.3 1219.8h1.4M205.9 1249.9h1.4M212.9 1247.9h1.4M210.9 1182.3h1.4M272.2 1223.8h1.4M256.4 1178.8h1.4M245.8 1222.2h1.4M251.1 1223.7h1.4M278.1 1177.2h1.4M232.5 1208.1h1.4M262.5 1212.8h1.4M222.3 1231.7h1.4M209.2 1194.7h1.4M242.1 1161.6h1.4M232.8 1228.5h1.4M233 1243.5h1.4M233.8 1232.5h1.4M245.3 1162.8h1.4M223 1232.6h1.4M276.2 1219.7h1.4M251.8 1200.4h1.4M260.6 1213.1h1.4M225.6 1215.1h1.4M244.9 1232.9h1.4M270.1 1213.3h1.4M253.6 1213.9h1.4M245.8 1216.3h1.4M216.8 1242.6h1.4M222.2 1206.8h1.4M256.4 1224.7h1.4M247.7 1198.4h1.4M260.1 1219.7h1.4M236.9 1234h1.4M248 1297.1h1.4M236.8 1300.4h1.4M234.6 1273.6h1.4M237.6 1293h1.4M236.6 1294h1.4M239.2 1273.4h1.4M243.4 1291.5h1.4M232.3 1292.1h1.4M234.6 1254.9h1.4M242.1 1266h1.4M261.9 1271.2h1.4M237.1 1294h1.4M246.8 1282.6h1.4M233.6 1298.3h1.4M255.2 1270.5h1.4M227.6 1298.4h1.4M227.5 1254.8h1.4M255.6 1269.9h1.4M236.4 1263.6h1.4M234.6 1288.3h1.4M238 1276h1.4M249.9 1290.9h1.4M234.9 1278.4h1.4M231.4 1269.2h1.4M243.5 1293.1h1.4M249.4 1270.8h1.4M227.8 1288.2h1.4M227 1257.9h1.4M226.6 1310.9h1.4M243.3 1294.6h1.4M237.1 1287.3h1.4M244.6 1300.7h1.4M246 1286.6h1.4M229.1 1282.5h1.4M232.9 1289.1h1.4M236.8 1259.7h1.4M247.6 1298.6h1.4M258.8 1284h1.4M230 1280.8h1.4M252.9 1284.9h1.4M247.1 1310.5h1.4M220 1304.3h1.4M232.6 1276.5h1.4M256.2 1302.6h1.4M242.7 1280.6h1.4M248 1289.1h1.4M227.9 1279.6h1.4M231.2 1268.7h1.4M161.5 1208.8h1.4M236.5 1219.5h1.4M197.9 1241.5h1.4M191.6 1235.8h1.4M150.3 1226.4h1.4M191.7 1255.3h1.4M183.5 1224.3h1.4M161.9 1229h1.4M202.1 1179.1h1.4M184.4 1201.6h1.4M216.1 1260.6h1.4M194.3 1295h1.4M175.8 1188.7h1.4M154.2 1201.4h1.4M142.9 1208.8h1.4M150 1276.2h1.4M173.2 1268.1h1.4M160.3 1185h1.4M144.3 1237.4h1.4M195 1214.4h1.4M204.7 1247.8h1.4M129.5 1202.7h1.4M211.8 1261.6h1.4M146 1162.5h1.4M206 1274.1h1.4M155.2 1246.6h1.4M184.5 1201.7h1.4M189.7 1285.8h1.4M185.6 1229.9h1.4M151.6 1210.1h1.4M163.7 1183.7h1.4M209.3 1212.6h1.4M211.6 1293.6h1.4M166.4 1182h1.4M165.7 1285.4h1.4M190.6 1196.5h1.4M195.1 1208.8h1.4M200.6 1219.3h1.4M161.9 1198.9h1.4M176.1 1211.2h1.4M209.8 1243.5h1.4M214 1253.8h1.4M162.2 1233.3h1.4M151 1234.5h1.4M191.2 1219.5h1.4M200.4 1170.9h1.4M210 1226.5h1.4M161.4 1264.9h1.4M170.9 1192.4h1.4M211.7 1225.2h1.4M180 1248.1h1.4M156.7 1222.2h1.4M180.5 1203.4h1.4M205.1 1232.4h1.4M195.1 1212.2h1.4M176.5 1167.4h1.4M160.6 1287.9h1.4M175.8 1280.6h1.4M163.5 1296.7h1.4M151.3 1279.2h1.4M152.8 1288.2h1.4M150.7 1289.5h1.4M155.4 1288.7h1.4M156.5 1282.2h1.4M183.6 1288.9h1.4M159.6 1286.4h1.4M156.2 1284.7h1.4M164.2 1288.3h1.4M174 1277.5h1.4M144.9 1271.4h1.4M162.1 1267.8h1.4M258.8 1165.8h1.4M261.1 1173.9h1.4M268.2 1174h1.4M276.9 1202.2h1.4M276.2 1172.1h1.4M279.9 1188.9h1.4M284.4 1175.7h1.4M286.3 1172h1.4M271.1 1170.7h1.4M291.4 1200.5h1.4M255.6 1165.1h1.4M266 1196.2h1.4M294.3 1178.1h1.4M200.6 1285.2h1.4M155.6 1295.7h1.4M178.9 1300.4h1.4M203.4 1279.4h1.4M127.7 1298.8h1.4M156.6 1308.6h1.4M197.7 1301.1h1.4M287 1294.9h1.4M242.9 1281.4h1.4M221.7 1292.1h1.4M199.7 1289.5h1.4M190.3 1279.7h1.4M255.4 1301.3h1.4M226.8 1302.1h1.4M234.1 1295.6h1.4M281 1291h1.4M203.2 1280.5h1.4M250.5 1283h1.4M237.9 1294.7h1.4M237.7 1296.9h1.4M253.6 1304.7h1.4M211.7 1292h1.4M228 1283.9h1.4" stroke="#4d4d4f" stroke-opacity="0.62" stroke-width="1.4" fill="none"/>
<path d="M112.9 1119.5V1362.5H355.4V1119.5" fill="none" stroke="#48494b" stroke-width="1.6"/>
<path d="M114.2 1120.3V1265.9" stroke="#939598" stroke-width="3.4"/>
<path d="M353.1 1120.3V1265.9" stroke="#48494b" stroke-width="1.7"/>
<path d="M112.1 1120H356.2" stroke="#414042" stroke-width="2.1"/>
<path d="M113.7 1265.9H354" stroke="#636466" stroke-width="1.8"/>
<path d="M105.9 1142.4H112.9M105.9 1200.2H112.9M105.9 1266.7H112.9M105.9 1346.8H112.9" stroke="#231f20" stroke-width="2.4" fill="none"/>
<path d="M109.6 1182.8H112.9M109.6 1172.6H112.9M109.6 1165.4H112.9M107.9 1159.8H112.9M109.6 1155.2H112.9M109.6 1151.4H112.9M109.6 1148H112.9M109.6 1145H112.9M109.6 1246.7H112.9M109.6 1235H112.9M109.6 1226.7H112.9M107.9 1220.2H112.9M109.6 1215H112.9M109.6 1210.5H112.9M109.6 1206.6H112.9M109.6 1203.2H112.9M109.6 1125H112.9M109.6 1269.9H112.9M109.6 1272.2H112.9M109.6 1274.6H112.9M109.6 1277.1H112.9M109.6 1279.8H112.9M109.6 1282.3H112.9M107.9 1284.8H112.9M109.6 1288H112.9M109.6 1290.9H112.9M109.6 1293.7H112.9M109.6 1297.6H112.9M109.6 1315.9H112.9M109.6 1319.4H112.9M109.6 1322.6H112.9M109.6 1325.5H112.9M107.9 1329H112.9M109.6 1332.2H112.9M109.6 1335.4H112.9M109.6 1337.9H112.9M109.6 1340.4H112.9M109.6 1342.9H112.9" stroke="#231f20" stroke-width="1.5" fill="none"/>
<path d="M112.9 1300.7L109.4 1300.7L106.6 1301.7L108.7 1303.1L106.1 1305.1L107.7 1306.6L105.9 1308.1L108.3 1309.3L106.3 1311.1L109.9 1312.1L112.9 1312.1Z" fill="#231f20"/>
<path d="M113.1 1362.5V1368.9M158.9 1362.5V1368.9M204.8 1362.5V1368.9M250.6 1362.5V1368.9M296.5 1362.5V1368.9M342.3 1362.5V1368.9" stroke="#231f20" stroke-width="2" fill="none"/>
<path d="M122.3 1362.5V1366.1M131.4 1362.5V1366.1M140.6 1362.5V1366.1M149.8 1362.5V1366.1M168.1 1362.5V1366.1M177.3 1362.5V1366.1M186.4 1362.5V1366.1M195.6 1362.5V1366.1M213.9 1362.5V1366.1M223.1 1362.5V1366.1M232.3 1362.5V1366.1M241.5 1362.5V1366.1M259.8 1362.5V1366.1M269 1362.5V1366.1M278.1 1362.5V1366.1M287.3 1362.5V1366.1M305.6 1362.5V1366.1M314.8 1362.5V1366.1M324 1362.5V1366.1M333.1 1362.5V1366.1M351.5 1362.5V1366.1" stroke="#231f20" stroke-width="1.4" fill="none"/>
<text x="113.7" y="1383.8" font-size="10.5" text-anchor="middle" font-weight="normal" fill="#231f20" stroke="#231f20" stroke-width="0.75">0</text>
<text x="159.8" y="1383.8" font-size="10.5" text-anchor="middle" font-weight="normal" fill="#231f20" stroke="#231f20" stroke-width="0.75">50K</text>
<text x="205.9" y="1383.8" font-size="10.5" text-anchor="middle" font-weight="normal" fill="#231f20" stroke="#231f20" stroke-width="0.75">100K</text>
<text x="251.3" y="1383.8" font-size="10.5" text-anchor="middle" font-weight="normal" fill="#231f20" stroke="#231f20" stroke-width="0.75">150K</text>
<text x="297.1" y="1383.8" font-size="10.5" text-anchor="middle" font-weight="normal" fill="#231f20" stroke="#231f20" stroke-width="0.75">200K</text>
<text x="342.9" y="1383.8" font-size="10.5" text-anchor="middle" font-weight="normal" fill="#231f20" stroke="#231f20" stroke-width="0.75">250K</text>
<text x="101.8" y="1148.2" font-size="10.2" text-anchor="end" font-weight="normal" fill="#231f20" stroke="#231f20" stroke-width="0.75">10<tspan dy="-3.8" font-size="8.4">5</tspan></text>
<text x="101.8" y="1206.2" font-size="10.2" text-anchor="end" font-weight="normal" fill="#231f20" stroke="#231f20" stroke-width="0.75">10<tspan dy="-3.8" font-size="8.4">4</tspan></text>
<text x="101.8" y="1268.9" font-size="10.2" text-anchor="end" font-weight="normal" fill="#231f20" stroke="#231f20" stroke-width="0.75">10<tspan dy="-3.8" font-size="8.4">3</tspan></text>
<text x="101.8" y="1309.5" font-size="10.2" text-anchor="end" font-weight="normal" fill="#231f20" stroke="#231f20" stroke-width="0.75">0</text>
<text x="101.8" y="1353.8" font-size="10.2" text-anchor="end" font-weight="normal" fill="#231f20" stroke="#231f20" stroke-width="0.75">–10<tspan dy="-3.8" font-size="8.4">3</tspan></text>
<text x="347.4" y="1140.8" font-size="10.5" text-anchor="end" font-weight="normal" fill="#231f20" stroke="#231f20" stroke-width="0.75">79,5</text>
<text x="233.7" y="1106.7" font-size="20.7" text-anchor="middle" font-weight="bold" fill="#231f20">ctrl</text>
<path d="M517.8 1312h1.4M531.8 1293.2h1.4M558.5 1286.1h1.4M526.1 1302.3h1.4M529.1 1293.1h1.4M534.9 1307.6h1.4M512.7 1292.7h1.4M532.6 1291.8h1.4M541.8 1305h1.4M515.9 1283.4h1.4M507.8 1283.1h1.4M539.2 1291h1.4M510.5 1294h1.4M518.9 1293.2h1.4M516.9 1295h1.4M524.5 1286h1.4M515.2 1299.9h1.4M530.6 1283.9h1.4M511.3 1302.8h1.4M524.2 1294h1.4M509.8 1281.8h1.4M529.3 1289.7h1.4M511.4 1287.1h1.4M539.9 1301.2h1.4M554.8 1285.4h1.4M548.8 1288h1.4M527.9 1278.4h1.4M506.2 1310.8h1.4M509.6 1303.4h1.4M532 1312h1.4M516 1274.1h1.4M526.8 1299.3h1.4M522.6 1294.7h1.4M544.6 1302.6h1.4M538.1 1296.6h1.4M538.5 1295.4h1.4M527.6 1280.9h1.4M536.7 1305.6h1.4M544.4 1300.4h1.4M544.2 1282.4h1.4M549.8 1298.4h1.4M546.2 1291.7h1.4M516.7 1298.4h1.4M516.4 1286.9h1.4M505.8 1291.6h1.4M522.3 1279.4h1.4M527.9 1288.4h1.4M514.9 1301.9h1.4M512.1 1302.6h1.4M516.6 1311.4h1.4M529.2 1301.9h1.4M541.7 1303.1h1.4M541.5 1286.8h1.4M516.4 1287.5h1.4M545 1312.9h1.4M513.3 1307.1h1.4M550.3 1284.5h1.4M523.8 1285.1h1.4M536.8 1304.7h1.4M512.2 1294.9h1.4M542.3 1294h1.4M521 1300.7h1.4M520.8 1295.5h1.4M509.5 1306h1.4M543.9 1292h1.4M529.6 1294.3h1.4M530.7 1304.2h1.4M518.8 1288.7h1.4M523.2 1294.6h1.4M516.9 1287h1.4M543.3 1298.8h1.4M507 1297.7h1.4M522.1 1280.9h1.4M518.1 1286.2h1.4M536.2 1299.3h1.4M520.1 1281.5h1.4M529.6 1291.9h1.4M539.8 1296.2h1.4M522.9 1296.7h1.4M537.2 1297.8h1.4M509.3 1300.7h1.4M515.7 1293.8h1.4M529.5 1297.1h1.4M532.7 1270.9h1.4M515.3 1292h1.4M523.6 1301h1.4M542.3 1309h1.4M531.5 1295.8h1.4M528 1294h1.4M552 1310.8h1.4M541 1287.5h1.4M505.2 1284.6h1.4M515.2 1289h1.4M527.3 1294.1h1.4M529.3 1294.4h1.4M540.2 1295.1h1.4M528.6 1283.5h1.4M503.5 1298.9h1.4M528 1290.9h1.4M498.4 1304.5h1.4M518.1 1300.4h1.4M517.9 1297h1.4M528.1 1304.1h1.4M530.4 1285.5h1.4M528.7 1287.1h1.4M537.8 1288.7h1.4M515.7 1290h1.4M551.2 1293.6h1.4M546.6 1290.3h1.4M539 1302.8h1.4M521.7 1303.5h1.4M514.7 1297.9h1.4M504.3 1296h1.4M529.1 1301.2h1.4M532.6 1288.5h1.4M528.7 1292.6h1.4M532.9 1281.2h1.4M509 1280.4h1.4M513.9 1301.3h1.4M537.7 1299.1h1.4M506.1 1306.8h1.4M516.7 1307.8h1.4M534.6 1300.7h1.4M525.1 1302h1.4M509.2 1286.6h1.4M513.6 1288.2h1.4M523.9 1285h1.4M542.4 1303.4h1.4M509.6 1297.4h1.4M519.6 1302.6h1.4M534 1285.1h1.4M536.1 1283.2h1.4M544.8 1286.8h1.4M551.3 1299.1h1.4M535.2 1290.9h1.4M518.2 1306.2h1.4M509.4 1289.7h1.4M505.9 1238.6h1.4M501.6 1223.8h1.4M520 1246.9h1.4M548.8 1267h1.4M519.9 1224.4h1.4M505.2 1210.3h1.4M532.7 1264.4h1.4M511.1 1184.3h1.4M541.8 1261.7h1.4M538.9 1209.5h1.4M521.4 1250.5h1.4M572.2 1212.8h1.4M510.9 1182.7h1.4M502.8 1191.8h1.4M528.6 1263.8h1.4M527.7 1273.9h1.4M530.2 1261.2h1.4M554.9 1207h1.4M533.6 1229.4h1.4M536.3 1175h1.4M555.9 1250.4h1.4M515.7 1236.6h1.4M510.7 1216.7h1.4M494.3 1252.6h1.4M520 1259.5h1.4M541.9 1223.8h1.4M530.1 1266.9h1.4M511.2 1234.3h1.4M514.3 1257.7h1.4M547.2 1295.6h1.4M541 1275.9h1.4M545.4 1225h1.4M502.2 1257.9h1.4M493.8 1232.5h1.4M560.8 1231.5h1.4M543.8 1261h1.4M501.6 1246h1.4M517.5 1242.4h1.4M519.5 1230.6h1.4M501.8 1207.2h1.4M560.3 1217.5h1.4M503.8 1245.9h1.4M536.9 1228.7h1.4M498.7 1258.9h1.4M515.2 1229.1h1.4M524.4 1300.9h1.4M520.6 1234.6h1.4M511.9 1233.5h1.4M521.6 1279.1h1.4M528.5 1231.5h1.4M525.2 1164.9h1.4M561.4 1220.9h1.4M531.8 1267.4h1.4M512.6 1201.9h1.4M531.6 1224.2h1.4M515 1246.9h1.4M537 1224.5h1.4M536.5 1260.4h1.4M499.1 1191.3h1.4M524.4 1232.9h1.4M500.6 1213.8h1.4M518.5 1233.6h1.4M521.5 1209.3h1.4M530.2 1235h1.4M519.4 1232.8h1.4M498.6 1222.3h1.4M539.6 1233.7h1.4M506.3 1235.9h1.4M520.3 1223.3h1.4M534.9 1281.8h1.4M541.1 1206.5h1.4M527.8 1238.9h1.4M522.4 1310.6h1.4M529.4 1233.8h1.4M531.2 1250.7h1.4M546.5 1242.4h1.4M522.4 1247.4h1.4M487.1 1239.8h1.4M511.5 1270.1h1.4M527.8 1267h1.4M526 1178.8h1.4M512.6 1188.4h1.4M551.2 1222.3h1.4M497.9 1203.9h1.4M516.4 1275.1h1.4M513.2 1179.8h1.4M512.7 1252.4h1.4M504 1189.7h1.4M505.4 1240.2h1.4M516.8 1246.7h1.4M509.6 1234.9h1.4M511.4 1225.1h1.4M524.7 1231.5h1.4M521.7 1218h1.4M527.1 1231.7h1.4M511.2 1237.8h1.4M524.6 1282.7h1.4M504.7 1297.8h1.4M442 1292.6h1.4M461 1297h1.4M438.1 1291.8h1.4M488.2 1312.4h1.4M467.3 1293.7h1.4M445.4 1297.8h1.4M441.5 1298.5h1.4M420.6 1295.9h1.4M427.2 1307.8h1.4M452.6 1299h1.4M451.7 1296.1h1.4M444.6 1306.2h1.4M496.2 1271.7h1.4M467.2 1307.7h1.4M452.6 1273.1h1.4M451.9 1288.9h1.4M492.8 1289.7h1.4M449.9 1290.2h1.4M456.3 1304.8h1.4M479.7 1297.6h1.4M475.8 1297.6h1.4M473.6 1300.2h1.4M466.9 1285.8h1.4M467.3 1293.6h1.4M451.6 1298.5h1.4M453.2 1301.1h1.4M456.6 1289.1h1.4M451.9 1284.3h1.4M460 1297.2h1.4M439.6 1296.1h1.4M428.3 1302.6h1.4M460.5 1293.9h1.4M439.3 1274h1.4M445.9 1299.4h1.4M462.1 1284h1.4M486.7 1291.8h1.4M465.2 1299.6h1.4M471.8 1297.1h1.4M441.1 1302h1.4M437.4 1292.8h1.4M460.4 1288.2h1.4M461.7 1280.1h1.4M448.1 1286.5h1.4M437.7 1287.4h1.4M427.4 1289.1h1.4M495.9 1301.2h1.4M455.3 1290.7h1.4M468.1 1287h1.4M476.3 1297.6h1.4M460.8 1290.4h1.4M469.8 1178.3h1.4M465.1 1204.8h1.4M507.8 1185.7h1.4M512 1200.7h1.4M484.2 1190.6h1.4M458.9 1182.6h1.4M479.9 1204.3h1.4M482.7 1203.9h1.4M500.4 1194.4h1.4M464.5 1181.3h1.4M486.6 1193.8h1.4M498.8 1176h1.4M496.2 1168.7h1.4M472.4 1158.7h1.4M466.7 1177h1.4M494.3 1204.8h1.4M487.9 1207h1.4M464.3 1195.4h1.4M496.3 1174.4h1.4M488.8 1194.2h1.4M431.7 1182h1.4M469.1 1200.3h1.4M471.4 1167.5h1.4M572.1 1289.6h1.4M556.8 1294.5h1.4M550.7 1275.8h1.4M537.4 1268.5h1.4M551.2 1282.5h1.4M552.3 1286.5h1.4M537.8 1272.9h1.4M548.8 1251h1.4M561.7 1275.7h1.4M566.7 1261.2h1.4M570.6 1272.2h1.4M574.6 1280.4h1.4M545.8 1283.5h1.4M563.3 1292.8h1.4M537.9 1298.1h1.4M549.6 1292.2h1.4" stroke="#4d4d4f" stroke-opacity="0.62" stroke-width="1.4" fill="none"/>
<path d="M546.9 1298h1.4M531.5 1296.8h1.4M537.4 1285h1.4M545.8 1284h1.4M521.8 1287.8h1.4M498 1293h1.4M511.4 1300.3h1.4M503.7 1299.4h1.4M510.6 1287h1.4M517.4 1289.5h1.4M540.7 1287.9h1.4M527.7 1286.6h1.4M537.7 1298.3h1.4M507.8 1296.2h1.4M508.2 1286.2h1.4M538.8 1289.1h1.4M502.7 1293.4h1.4M546.7 1303.9h1.4M552.7 1296.7h1.4M533.3 1280.2h1.4M532.3 1288.1h1.4M558.7 1295.3h1.4M532.8 1289h1.4M534.9 1298.4h1.4M523.2 1281.6h1.4M527.1 1290.8h1.4M528.7 1294.2h1.4M506.9 1308h1.4M552.9 1285.6h1.4M518.4 1298.9h1.4M525.1 1292.7h1.4M550.8 1293.4h1.4M527.4 1285.8h1.4M525.6 1287.1h1.4M541.9 1289h1.4M520.8 1304.5h1.4M519.2 1294.7h1.4M512.2 1308.1h1.4M512.9 1287.7h1.4M534 1299.5h1.4M539.9 1299.1h1.4M522.8 1285.3h1.4M504.9 1306.9h1.4M510 1289.1h1.4M513.6 1295.4h1.4M505.8 1278.8h1.4M528.4 1306.6h1.4M511.6 1283.8h1.4M530.8 1284.1h1.4M498.4 1297.4h1.4M529.3 1297.8h1.4M505.9 1292.9h1.4M525 1276.8h1.4M555.3 1283.1h1.4M532 1287.5h1.4M548.2 1294.6h1.4M544.7 1290.6h1.4M503 1285.5h1.4M519.2 1293.3h1.4M522.2 1284.4h1.4M522.5 1295.1h1.4M536.7 1305.6h1.4M520.2 1289.4h1.4M542 1288.8h1.4M515 1290.6h1.4M518.7 1261.1h1.4M531.1 1290.5h1.4M513.1 1304.7h1.4M524.4 1298.2h1.4M551.9 1291.5h1.4M532.9 1298.9h1.4M532.9 1291.8h1.4M540.5 1304.4h1.4M475.2 1288.6h1.4M530.2 1299.9h1.4M551.3 1305.7h1.4M528.2 1292.3h1.4M522.6 1293h1.4M521.1 1280.6h1.4M502.2 1285.5h1.4M523.4 1297.5h1.4M535.7 1294.4h1.4M523.1 1287.1h1.4M528.9 1287.6h1.4M529.5 1289h1.4M556.5 1300.4h1.4M543.2 1292.9h1.4M515.3 1275.1h1.4M501.9 1300.2h1.4M508.9 1303.3h1.4M518.1 1286.6h1.4M535.7 1293.4h1.4M527.5 1288.7h1.4M537.6 1289.8h1.4M534.8 1303.1h1.4M545.8 1293.8h1.4M524 1286h1.4M521 1311.3h1.4M520.8 1274.7h1.4M533.5 1292.3h1.4M519.3 1277.9h1.4M503.6 1281.8h1.4M519.9 1298.4h1.4M543 1298.1h1.4M537.6 1292.9h1.4M544.4 1291.3h1.4M524.6 1307.8h1.4M532.7 1302h1.4M522.4 1267.1h1.4M552.4 1293.6h1.4M532.9 1282h1.4M520.9 1279.9h1.4M536.2 1299.8h1.4M517.3 1283.5h1.4M533.1 1295h1.4M510.4 1295.9h1.4M526.2 1297.9h1.4M530.6 1298.1h1.4M514.3 1280.6h1.4M554.2 1296.6h1.4M549.1 1298.6h1.4M536.9 1298.6h1.4M509.5 1298.6h1.4M541.4 1299.6h1.4M535.2 1291.3h1.4M511 1289.2h1.4M505.7 1281.7h1.4M521.9 1300h1.4M498.9 1287h1.4M511.4 1296.6h1.4M555.5 1288.7h1.4M506.9 1295.4h1.4M529 1297.4h1.4M520.6 1284.8h1.4M510 1289.3h1.4M533.9 1294.4h1.4M523.7 1297.2h1.4M514.6 1167.4h1.4M522.2 1198.7h1.4M524.7 1201.4h1.4M509.2 1276.9h1.4M524.9 1250h1.4M536.7 1255.8h1.4M501.5 1284.9h1.4M515.6 1265.8h1.4M523 1208.3h1.4M503.3 1278.9h1.4M526.8 1211h1.4M509 1256.5h1.4M539.9 1209.9h1.4M520.1 1230h1.4M487.9 1231.9h1.4M516.7 1254.9h1.4M518.1 1225h1.4M524.2 1239.7h1.4M512.5 1199.9h1.4M506.4 1207.1h1.4M539.9 1242.8h1.4M522.9 1229.1h1.4M493.5 1254.4h1.4M477.4 1309.9h1.4M507.8 1242.7h1.4M517.4 1198.6h1.4M523.2 1186.5h1.4M511.3 1260.9h1.4M503.3 1216.8h1.4M520.2 1239.5h1.4M511.6 1206.9h1.4M519 1220.4h1.4M510.6 1214.9h1.4M497.4 1229.4h1.4M534.7 1247.8h1.4M543 1193h1.4M556.8 1196.8h1.4M482.8 1176.7h1.4M534.8 1240.5h1.4M521.8 1215.6h1.4M493.6 1200.4h1.4M509.9 1261.9h1.4M523.6 1250.7h1.4M538 1184.8h1.4M549.1 1218.4h1.4M537.1 1231.4h1.4M526.9 1248.8h1.4M521.5 1212.1h1.4M543.8 1190.5h1.4M513.6 1237.1h1.4M505.1 1245h1.4M525.4 1248.1h1.4M527.2 1236.3h1.4M512.8 1241.9h1.4M524.2 1261.9h1.4M558.6 1237.3h1.4M536.3 1221.7h1.4M542.2 1249.9h1.4M536.8 1272.5h1.4M511.4 1221.9h1.4M537 1210.2h1.4M547.4 1198.8h1.4M519.6 1258.5h1.4M542.1 1229.2h1.4M540.6 1248.5h1.4M537.8 1202h1.4M541.9 1271.7h1.4M542.4 1246.2h1.4M511.3 1224.9h1.4M520 1248.1h1.4M554 1231.1h1.4M540.6 1251.6h1.4M511.5 1224.3h1.4M569.2 1287.3h1.4M523.6 1246.4h1.4M532.3 1259h1.4M517.9 1206.4h1.4M535.7 1232.6h1.4M504.6 1195.2h1.4M512.2 1196.3h1.4M521.3 1251.4h1.4M542.6 1266.7h1.4M515.9 1246.5h1.4M523 1239.8h1.4M546.4 1210.3h1.4M524.3 1250.4h1.4M522.6 1271.7h1.4M505.6 1213.8h1.4M511.7 1228.4h1.4M510.1 1171.7h1.4M552.2 1220.3h1.4M533.6 1219.1h1.4M520.6 1229.5h1.4M525.9 1232h1.4M505.9 1230.5h1.4M528.3 1200.2h1.4M543.2 1228.8h1.4M539.2 1229.1h1.4M471.5 1293.7h1.4M480.5 1302.1h1.4M463.2 1289.4h1.4M451.6 1296.6h1.4M454.8 1294.1h1.4M461.5 1302.9h1.4M454.7 1294.7h1.4M430.6 1303.9h1.4M434.5 1294h1.4M455.5 1301.5h1.4M495.1 1296.3h1.4M437.9 1284.8h1.4M465.9 1299.4h1.4M441.5 1278.8h1.4M486.6 1291.2h1.4M487 1305.9h1.4M433.2 1293h1.4M450.3 1296h1.4M466.1 1292h1.4M493.1 1305.1h1.4M457.2 1279.7h1.4M434.5 1302.3h1.4M447.8 1274.3h1.4M476.4 1296.2h1.4M465 1284.1h1.4M491.5 1289.7h1.4M417.9 1295.6h1.4M473.5 1279.3h1.4M456.2 1282.4h1.4M482.7 1302.6h1.4M470.6 1299.3h1.4M442.8 1294.3h1.4M454.1 1294.5h1.4M458 1294.1h1.4M435.1 1290h1.4M453.1 1280.5h1.4M472.4 1292.9h1.4M468.3 1294.4h1.4M419.1 1291h1.4M483.5 1291.6h1.4M449.7 1296.4h1.4M469.1 1290.2h1.4M458.3 1279.9h1.4M442.7 1301.2h1.4M475.1 1287.3h1.4M480.4 1281h1.4M465.3 1281.7h1.4M468.8 1286.7h1.4M471 1268.6h1.4M456 1183.5h1.4M507.1 1178.6h1.4M511.5 1170.9h1.4M452.6 1198h1.4M476.7 1183.7h1.4M527.2 1201.6h1.4M447.4 1211.1h1.4M489.9 1196.4h1.4M466.1 1175.3h1.4M496.9 1215.4h1.4M492.6 1212.5h1.4M499.1 1191.3h1.4M490.2 1171.1h1.4M473.1 1207.5h1.4M486.5 1197.1h1.4M481.1 1181.5h1.4M445.4 1166.7h1.4M474.3 1176.1h1.4M485.2 1171.6h1.4M473.7 1183.3h1.4M487.6 1183.9h1.4M480 1204.5h1.4M472.9 1182.6h1.4M560.5 1265.2h1.4M536.5 1272.7h1.4M541.6 1246.3h1.4M560.9 1282.5h1.4M582.5 1287.9h1.4M546.4 1257.6h1.4M568.5 1264.7h1.4M590.5 1277.9h1.4M547.5 1291.7h1.4M536 1272.8h1.4M512.4 1260.8h1.4M552.4 1291.2h1.4M548.1 1281.2h1.4M540.6 1273.2h1.4M539.9 1270.7h1.4M544 1261.5h1.4M539.2 1268.1h1.4" stroke="#4d4d4f" stroke-opacity="0.62" stroke-width="1.4" fill="none"/>
<path d="M526.2 1313.7h1.4M548.2 1293.8h1.4M554.3 1291h1.4M521.8 1281.4h1.4M521.2 1287.3h1.4M520.7 1298.4h1.4M528.5 1292.5h1.4M531.3 1292.6h1.4M550.2 1306.8h1.4M503.2 1294.3h1.4M525.9 1299.7h1.4M553.2 1299.8h1.4M554.4 1306.4h1.4M528.5 1275.2h1.4M521.5 1297.1h1.4M519.5 1281.6h1.4M537.8 1290.6h1.4M530.5 1278.2h1.4M545.7 1288.5h1.4M541.1 1305.9h1.4M491.4 1301.3h1.4M515.7 1294.9h1.4M520.2 1309h1.4M548.8 1293.8h1.4M521.8 1298.7h1.4M515.9 1283.3h1.4M517.1 1284.9h1.4M536 1290.7h1.4M522.5 1303.5h1.4M508.2 1312.9h1.4M555.7 1291h1.4M542.6 1298.7h1.4M545.2 1281.5h1.4M523.6 1298.3h1.4M530.5 1279.9h1.4M537.4 1268.7h1.4M523.2 1297.2h1.4M513 1296.5h1.4M520.1 1293.5h1.4M535.4 1298.2h1.4M553.9 1276.9h1.4M499 1290.6h1.4M531.1 1291.8h1.4M527.1 1292.4h1.4M555 1299.6h1.4M537.9 1287.1h1.4M516.7 1290.9h1.4M506.2 1281.3h1.4M522.8 1291.9h1.4M532 1288.8h1.4M537.4 1275.7h1.4M514.8 1288.7h1.4M524.6 1294.8h1.4M511.2 1286.7h1.4M520.6 1303.6h1.4M536.7 1300.7h1.4M515.5 1294.9h1.4M548.8 1311.7h1.4M531.2 1284.3h1.4M532.8 1291.6h1.4M524.4 1288h1.4M501.6 1290.5h1.4M538.7 1295.6h1.4M539.5 1287.4h1.4M515.5 1295.7h1.4M528.4 1276.9h1.4M524.3 1292.8h1.4M526.8 1302.6h1.4M539.4 1296.2h1.4M522.6 1307.2h1.4M524.4 1281.3h1.4M509.4 1281h1.4M569.4 1301.9h1.4M524.3 1302.7h1.4M548.7 1284.4h1.4M538.3 1283.2h1.4M534.8 1290.4h1.4M520.4 1301.3h1.4M540.6 1284.5h1.4M519.3 1286.6h1.4M520.5 1296.7h1.4M520.1 1284.2h1.4M522.5 1297h1.4M547.8 1291.7h1.4M526.2 1281.8h1.4M531.1 1304.7h1.4M530.9 1295.6h1.4M516.9 1275.8h1.4M540 1294.9h1.4M533.6 1297.8h1.4M515.7 1293.1h1.4M532.7 1277h1.4M541 1293.5h1.4M543.8 1298.1h1.4M541.2 1297.4h1.4M495.9 1306h1.4M558.5 1298.5h1.4M511.2 1273.8h1.4M533.4 1309.1h1.4M543.6 1298.7h1.4M557.5 1290.9h1.4M519.5 1289.3h1.4M536 1284.2h1.4M527.2 1281.9h1.4M514.8 1302.3h1.4M522.4 1295.1h1.4M549.5 1291.7h1.4M530.7 1283.2h1.4M542 1301.4h1.4M541.1 1287.3h1.4M532.4 1292.4h1.4M510.3 1309.9h1.4M508.6 1291.1h1.4M542 1303.9h1.4M539.6 1282.8h1.4M527.5 1290.3h1.4M531.3 1303.7h1.4M558.8 1299.5h1.4M566.1 1296.9h1.4M545.3 1284.8h1.4M530.4 1295.5h1.4M532.6 1303.4h1.4M559.8 1289.3h1.4M502.7 1298.5h1.4M538.7 1300.5h1.4M510.6 1288.1h1.4M533.8 1294.5h1.4M544.9 1292.1h1.4M538.2 1294.7h1.4M519.5 1286.4h1.4M556.8 1284.2h1.4M537.2 1282.5h1.4M535.9 1277.8h1.4M501.6 1281.7h1.4M550.5 1291h1.4M517.9 1280h1.4M528 1248.6h1.4M512.3 1203.4h1.4M512.2 1235.5h1.4M511.9 1288.5h1.4M526.1 1292.5h1.4M547.1 1226.7h1.4M504.7 1264.8h1.4M519 1238.5h1.4M539.6 1210.3h1.4M512.2 1262.9h1.4M521.5 1201.6h1.4M523.2 1203.1h1.4M516.1 1202.1h1.4M509.8 1219.2h1.4M512.7 1266h1.4M537.3 1193.3h1.4M512.1 1220.9h1.4M529.8 1248.7h1.4M542.4 1276.3h1.4M546 1164.2h1.4M528.8 1226.1h1.4M536.8 1214h1.4M531.2 1237.7h1.4M551.9 1213.5h1.4M552 1275.1h1.4M503.8 1256.3h1.4M499.8 1236.9h1.4M512.2 1208.7h1.4M523.2 1261.5h1.4M540.9 1249.3h1.4M523.5 1243.7h1.4M529.5 1273h1.4M488.7 1218.2h1.4M522.8 1253.8h1.4M530.6 1241.2h1.4M520.5 1236.3h1.4M541.3 1247.4h1.4M498.5 1239.6h1.4M528.9 1183.9h1.4M518.6 1168.9h1.4M497.8 1224h1.4M534.7 1240.3h1.4M513 1198h1.4M525.5 1260h1.4M518.6 1190.3h1.4M539.9 1156.1h1.4M502.6 1286.9h1.4M516.4 1251.8h1.4M502.9 1227.7h1.4M533.1 1209.6h1.4M560.6 1233.2h1.4M562.9 1190.9h1.4M535.4 1246.3h1.4M538.7 1272.6h1.4M506.8 1220.7h1.4M522.6 1294.2h1.4M558.3 1190.6h1.4M503.4 1234.7h1.4M523.6 1265h1.4M516.2 1235.1h1.4M528.1 1296.9h1.4M520.1 1254.8h1.4M568.6 1243.2h1.4M506.9 1190.4h1.4M529.8 1261.8h1.4M532.1 1233.8h1.4M552.6 1245.4h1.4M520.7 1213.7h1.4M559.5 1217.6h1.4M524.4 1244.5h1.4M522.4 1189.6h1.4M539 1254.1h1.4M532.9 1210.7h1.4M545.4 1188.5h1.4M543 1205.3h1.4M535.1 1279.7h1.4M555.7 1241.9h1.4M526 1200.6h1.4M506.9 1237.1h1.4M541.7 1231.6h1.4M520.8 1205.1h1.4M507.1 1245.8h1.4M545.7 1218.3h1.4M510.1 1255.9h1.4M516.6 1229.7h1.4M530.1 1274.6h1.4M499.4 1278.6h1.4M512.3 1262.9h1.4M548.1 1268h1.4M529.7 1275.6h1.4M530.7 1198.5h1.4M507.5 1203.2h1.4M492 1284h1.4M542.1 1221.8h1.4M542 1226.9h1.4M505.1 1207.1h1.4M492.3 1247.8h1.4M513.1 1234.1h1.4M522.2 1199.9h1.4M436.1 1296.7h1.4M466.7 1295.8h1.4M460.9 1285.6h1.4M454.6 1304.4h1.4M440 1299.1h1.4M458.7 1302.2h1.4M460.4 1301.4h1.4M421.5 1284h1.4M448.8 1276.8h1.4M452.1 1293.1h1.4M462.7 1287.4h1.4M457.1 1289.2h1.4M437.7 1287.2h1.4M477.5 1306.7h1.4M480.4 1292.6h1.4M418.4 1284.6h1.4M456.9 1292.1h1.4M443.6 1290.4h1.4M469.2 1296.7h1.4M458.2 1289.3h1.4M424.2 1296.1h1.4M448.9 1296.5h1.4M441.6 1276.8h1.4M446.9 1296.1h1.4M459 1293.5h1.4M452.3 1272.8h1.4M470.2 1286.4h1.4M453 1310.6h1.4M458.4 1296.7h1.4M428.9 1284.2h1.4M442.3 1282.5h1.4M471.2 1295.1h1.4M454.1 1289.1h1.4M440.5 1287.4h1.4M481.8 1294.7h1.4M448.1 1305.9h1.4M455.1 1294.1h1.4M444.4 1290.6h1.4M504.4 1289.9h1.4M470.7 1293.9h1.4M466.8 1299.9h1.4M453.6 1279.7h1.4M460 1294.1h1.4M411 1289.9h1.4M461.6 1285.4h1.4M438.1 1302.7h1.4M473.7 1293.2h1.4M477.1 1303.2h1.4M474.9 1290.5h1.4M492.9 1210.8h1.4M518.3 1191.7h1.4M509.1 1187.1h1.4M497.7 1220.3h1.4M475.7 1179.4h1.4M472.4 1198.9h1.4M491.7 1174.5h1.4M465.6 1182.1h1.4M501.6 1178h1.4M493.4 1201.9h1.4M506.1 1223.4h1.4M479.9 1176.3h1.4M500.7 1176.6h1.4M466.5 1191.9h1.4M461.1 1199h1.4M522.3 1169.2h1.4M491.1 1184.3h1.4M431.9 1193.9h1.4M512 1206.2h1.4M473.5 1175.3h1.4M504.2 1193.6h1.4M475.6 1187.5h1.4M467.6 1198.8h1.4M555.1 1280.2h1.4M522.2 1298.5h1.4M578.6 1276.3h1.4M516.2 1290.2h1.4M541.2 1249h1.4M532.2 1257.4h1.4M552.7 1282.8h1.4M565.7 1268.9h1.4M590 1291.8h1.4M560.3 1264h1.4M514.7 1255.8h1.4M573.2 1267.9h1.4M519.5 1264h1.4M567.4 1294.8h1.4M554.4 1270.8h1.4M557.7 1300.7h1.4M534.2 1273h1.4" stroke="#4d4d4f" stroke-opacity="0.62" stroke-width="1.4" fill="none"/>
<path d="M394.8 1118.9V1360.3H635.2V1118.9" fill="none" stroke="#48494b" stroke-width="1.6"/>
<path d="M396.1 1120V1264.7" stroke="#939598" stroke-width="3.4"/>
<path d="M631.3 1120V1264.7" stroke="#48494b" stroke-width="1.7"/>
<path d="M394 1119.7H636" stroke="#414042" stroke-width="2.1"/>
<path d="M395.6 1264.7H632.2" stroke="#636466" stroke-width="1.8"/>
<path d="M387.8 1142.4H394.8M387.8 1199.9H394.8M387.8 1266.6H394.8M387.8 1345.5H394.8" stroke="#231f20" stroke-width="2.4" fill="none"/>
<path d="M391.5 1182.6H394.8M391.5 1172.5H394.8M391.5 1165.3H394.8M389.8 1159.7H394.8M391.5 1155.2H394.8M391.5 1151.3H394.8M391.5 1148H394.8M391.5 1145H394.8M391.5 1246.5H394.8M391.5 1234.8H394.8M391.5 1226.4H394.8M389.8 1220H394.8M391.5 1214.7H394.8M391.5 1210.2H394.8M391.5 1206.4H394.8M391.5 1203H394.8M391.5 1125.1H394.8M391.5 1269.8H394.8M391.5 1272.1H394.8M391.5 1274.4H394.8M391.5 1276.9H394.8M391.5 1279.5H394.8M391.5 1282H394.8M389.8 1284.6H394.8M391.5 1287.7H394.8M391.5 1290.5H394.8M391.5 1293.3H394.8M391.5 1297.2H394.8M391.5 1315.2H394.8M391.5 1318.6H394.8M391.5 1321.8H394.8M391.5 1324.6H394.8M389.8 1328H394.8M391.5 1331.2H394.8M391.5 1334.3H394.8M391.5 1336.8H394.8M391.5 1339.2H394.8M391.5 1341.7H394.8" stroke="#231f20" stroke-width="1.5" fill="none"/>
<path d="M394.8 1300.2L391.3 1300.2L388.5 1301.2L390.6 1302.6L388 1304.6L389.6 1306.1L387.8 1307.6L390.2 1308.8L388.2 1310.6L391.8 1311.6L394.8 1311.6Z" fill="#231f20"/>
<path d="M394.8 1360.3V1366.7M440.4 1360.3V1366.7M486 1360.3V1366.7M531.6 1360.3V1366.7M577.2 1360.3V1366.7M622.8 1360.3V1366.7" stroke="#231f20" stroke-width="2" fill="none"/>
<path d="M403.9 1360.3V1363.9M413 1360.3V1363.9M422.2 1360.3V1363.9M431.3 1360.3V1363.9M449.5 1360.3V1363.9M458.6 1360.3V1363.9M467.8 1360.3V1363.9M476.9 1360.3V1363.9M495.1 1360.3V1363.9M504.2 1360.3V1363.9M513.4 1360.3V1363.9M522.5 1360.3V1363.9M540.7 1360.3V1363.9M549.8 1360.3V1363.9M559 1360.3V1363.9M568.1 1360.3V1363.9M586.3 1360.3V1363.9M595.4 1360.3V1363.9M604.6 1360.3V1363.9M613.7 1360.3V1363.9M631.9 1360.3V1363.9" stroke="#231f20" stroke-width="1.4" fill="none"/>
<text x="395.4" y="1382.7" font-size="10.5" text-anchor="middle" font-weight="normal" fill="#231f20" stroke="#231f20" stroke-width="0.75">0</text>
<text x="441.1" y="1382.7" font-size="10.5" text-anchor="middle" font-weight="normal" fill="#231f20" stroke="#231f20" stroke-width="0.75">50K</text>
<text x="486.4" y="1382.7" font-size="10.5" text-anchor="middle" font-weight="normal" fill="#231f20" stroke="#231f20" stroke-width="0.75">100K</text>
<text x="531.8" y="1382.7" font-size="10.5" text-anchor="middle" font-weight="normal" fill="#231f20" stroke="#231f20" stroke-width="0.75">150K</text>
<text x="577.7" y="1382.7" font-size="10.5" text-anchor="middle" font-weight="normal" fill="#231f20" stroke="#231f20" stroke-width="0.75">200K</text>
<text x="623.4" y="1382.7" font-size="10.5" text-anchor="middle" font-weight="normal" fill="#231f20" stroke="#231f20" stroke-width="0.75">250K</text>
<text x="383.5" y="1148.2" font-size="10.2" text-anchor="end" font-weight="normal" fill="#231f20" stroke="#231f20" stroke-width="0.75">10<tspan dy="-3.8" font-size="8.4">5</tspan></text>
<text x="383.5" y="1205.9" font-size="10.2" text-anchor="end" font-weight="normal" fill="#231f20" stroke="#231f20" stroke-width="0.75">10<tspan dy="-3.8" font-size="8.4">4</tspan></text>
<text x="383.5" y="1268.8" font-size="10.2" text-anchor="end" font-weight="normal" fill="#231f20" stroke="#231f20" stroke-width="0.75">10<tspan dy="-3.8" font-size="8.4">3</tspan></text>
<text x="383.5" y="1309" font-size="10.2" text-anchor="end" font-weight="normal" fill="#231f20" stroke="#231f20" stroke-width="0.75">0</text>
<text x="383.5" y="1352.5" font-size="10.2" text-anchor="end" font-weight="normal" fill="#231f20" stroke="#231f20" stroke-width="0.75">–10<tspan dy="-3.8" font-size="8.4">3</tspan></text>
<text x="626.8" y="1144.3" font-size="10.5" text-anchor="end" font-weight="normal" fill="#231f20" stroke="#231f20" stroke-width="0.75">33,0</text>
<text x="514.2" y="1108.6" font-size="20.7" text-anchor="middle" font-weight="bold" fill="#231f20">LR 1:1</text>
<rect x="872" y="1183.5" width="34.7" height="214" fill="#ffffff" stroke="#414042" stroke-width="2.8"/>
<rect x="928" y="1199.7" width="34.4" height="197.8" fill="#e1e2e3" stroke="#414042" stroke-width="2.8"/>
<rect x="982.9" y="1223.8" width="34.7" height="173.7" fill="#bdbec0" stroke="#414042" stroke-width="2.8"/>
<path d="M851.8 1117.8V1397.5M840.7 1397.5H1038.3M840.7 1119.2H851.8M840.7 1174.9H851.8M840.7 1230.4H851.8M840.7 1286.1H851.8M840.7 1341.8H851.8M889.3 1397.5V1408.9M945.1 1397.5V1408.9M1000.5 1397.5V1408.9M889.3 1102.4V1062.6H1000.8V1128.9" stroke="#414042" stroke-width="2.8" fill="none"/>
<g fill="#fff" stroke="#414042" stroke-width="2.6"><circle cx="877.4" cy="1131.4" r="6.8"/><circle cx="889.6" cy="1124.3" r="6.8"/><circle cx="901" cy="1124.9" r="6.8"/><circle cx="901" cy="1144.2" r="6.8"/><circle cx="889.6" cy="1153.6" r="6.8"/><circle cx="901" cy="1159.3" r="6.8"/><circle cx="889.6" cy="1169.3" r="6.8"/><circle cx="889.6" cy="1287.2" r="6.8"/><circle cx="889.6" cy="1354.3" r="6.8"/><circle cx="945.1" cy="1128.6" r="6.8"/><circle cx="933.7" cy="1141.7" r="6.8"/><circle cx="945.1" cy="1149.9" r="6.8"/><circle cx="956.7" cy="1154.2" r="6.8"/><circle cx="933.7" cy="1158.7" r="6.8"/><circle cx="945.1" cy="1169.8" r="6.8"/><circle cx="945.1" cy="1253.7" r="6.8"/><circle cx="945.1" cy="1281.3" r="6.8"/><circle cx="945.1" cy="1355.8" r="6.8"/><circle cx="989.1" cy="1147.1" r="6.8"/><circle cx="996.5" cy="1149.4" r="6.8"/><circle cx="1011.9" cy="1154.2" r="6.8"/><circle cx="1004.2" cy="1149.4" r="6.8"/><circle cx="1000.5" cy="1221" r="6.8"/><circle cx="1000.5" cy="1272.2" r="6.8"/><circle cx="996.5" cy="1288.1" r="6.8"/><circle cx="1004.2" cy="1299.2" r="6.8"/><circle cx="1000.5" cy="1328.7" r="6.8"/></g>
<text x="829.3" y="1126" font-size="20.7" text-anchor="end" font-weight="bold" fill="#231f20">100</text>
<text x="829.3" y="1181.7" font-size="20.7" text-anchor="end" font-weight="bold" fill="#231f20">80</text>
<text x="829.3" y="1237.2" font-size="20.7" text-anchor="end" font-weight="bold" fill="#231f20">60</text>
<text x="829.3" y="1292.9" font-size="20.7" text-anchor="end" font-weight="bold" fill="#231f20">40</text>
<text x="829.3" y="1348.6" font-size="20.7" text-anchor="end" font-weight="bold" fill="#231f20">20</text>
<text x="829.3" y="1404.3" font-size="20.7" text-anchor="end" font-weight="bold" fill="#231f20">0</text>
<text x="943.1" y="1050.4" font-size="20.7" text-anchor="middle" font-weight="bold" fill="#231f20">ns</text>
<text x="735" y="1258.4" font-size="20.7" text-anchor="middle" font-weight="bold" fill="#231f20" transform="rotate(-90 735 1258.4)">CD16 expressing cells</text>
<text x="762" y="1255" font-size="20.7" text-anchor="middle" font-weight="bold" fill="#231f20" transform="rotate(-90 762 1255)">[% of monocytes]</text>
<text x="898" y="1432.2" font-size="20.7" text-anchor="end" font-weight="bold" fill="#231f20" transform="rotate(-45 898 1432.2)">ctrl</text>
<text x="952" y="1429.7" font-size="20.7" text-anchor="end" font-weight="bold" fill="#231f20" transform="rotate(-45 952 1429.7)">LR MOI 1:0:1</text>
<text x="1006.9" y="1431" font-size="20.7" text-anchor="end" font-weight="bold" fill="#231f20" transform="rotate(-45 1006.9 1431)">LR MOI 1:1</text>
<path d="M53.2 1632.3V1901.9H672.6" stroke="#231f20" stroke-width="1.9" fill="none"/>
<path d="M53.2 1617.3L42.4 1638.5L64 1638.5Z" fill="#231f20"/>
<path d="M687.6 1901.9L665.8 1891.1L665.8 1912.7Z" fill="#231f20"/>
<text x="35" y="1751.8" font-size="20.7" text-anchor="middle" font-weight="bold" fill="#231f20" transform="rotate(-90 35 1751.8)">TLR4</text>
<text x="354" y="1930" font-size="20.7" text-anchor="start" font-weight="bold" fill="#231f20">FSC</text>
<path d="M196.9 1781.1h1.4M225.5 1794h1.4M242.9 1789.5h1.4M244.8 1793.9h1.4M276.6 1785.8h1.4M218 1783.1h1.4M255.8 1787.1h1.4M251.7 1762.4h1.4M210.7 1766.3h1.4M222 1780.7h1.4M246 1790.5h1.4M290.8 1787h1.4M216.1 1778.6h1.4M238.8 1780.8h1.4M255.9 1792h1.4M225.6 1796.8h1.4M250.4 1799.3h1.4M220.1 1809.4h1.4M252.5 1787.4h1.4M245.4 1773.4h1.4M243.5 1793.8h1.4M254.7 1779h1.4M245.4 1792.6h1.4M236 1775.2h1.4M237.5 1786.1h1.4M246.9 1773.1h1.4M188.7 1787.8h1.4M202.7 1806.8h1.4M240.2 1782.1h1.4M283.1 1794.6h1.4M229.9 1776.9h1.4M281.1 1783.4h1.4M212.8 1773.4h1.4M235.5 1773.4h1.4M223.8 1796.2h1.4M253.3 1793.9h1.4M247.5 1794.1h1.4M237.2 1808.3h1.4M223.8 1779.6h1.4M272.6 1804h1.4M200.6 1799.6h1.4M240.8 1787.6h1.4M255.7 1799.5h1.4M215.9 1787.2h1.4M252.3 1799.6h1.4M237.4 1787.1h1.4M269 1809.1h1.4M255.3 1784.7h1.4M235.4 1802.7h1.4M202.6 1803.6h1.4M250 1786.3h1.4M272.4 1787.6h1.4M215.9 1790h1.4M217.8 1794.1h1.4M258.8 1797.3h1.4M245.2 1791.7h1.4M245.9 1784.6h1.4M251.9 1745.4h1.4M218.6 1767.2h1.4M269.1 1766.6h1.4M259.7 1771.6h1.4M263.7 1776.6h1.4M250.4 1786.1h1.4M231.2 1795.7h1.4M267.6 1781.9h1.4M243.8 1763.8h1.4M245.3 1773.6h1.4M262.2 1784.1h1.4M234.6 1785.9h1.4M239.5 1783.4h1.4M220.1 1786h1.4M246.3 1783.1h1.4M209.3 1801h1.4M233 1781.7h1.4M227.4 1768.2h1.4M229.1 1781.4h1.4M260.2 1801.3h1.4M238.5 1779.4h1.4M215 1796.2h1.4M231 1791.3h1.4M228.5 1764.4h1.4M235 1802h1.4M214.6 1785.6h1.4M225.4 1801h1.4M256.2 1801.2h1.4M239.5 1794h1.4M235.4 1802.6h1.4M232.2 1797.2h1.4M227.3 1788.6h1.4M219.2 1801.1h1.4M229.8 1785.8h1.4M194.9 1788.5h1.4M247.6 1792h1.4M214.9 1788.2h1.4M235.6 1774.2h1.4M244.5 1773.4h1.4M219.9 1771.4h1.4M238.1 1786.1h1.4M263 1778.6h1.4M235 1788.1h1.4M264.8 1782.1h1.4M245.3 1810.9h1.4M264.3 1791.3h1.4M274.8 1775.7h1.4M248.1 1774.9h1.4M232.6 1790.7h1.4M287.3 1789.6h1.4M219.2 1792.2h1.4M290.1 1766.9h1.4M280.5 1775.4h1.4M199 1789.4h1.4M238.6 1789.8h1.4M239.5 1765.9h1.4M190.7 1797.5h1.4M240.4 1791.3h1.4M231 1772.7h1.4M237.9 1791h1.4M250.3 1794.8h1.4M249.5 1778.5h1.4M284.2 1793.4h1.4M244.1 1795.4h1.4M226.2 1801.6h1.4M202.1 1788.9h1.4M220.2 1777.7h1.4M244.1 1773.3h1.4M263.6 1765.5h1.4M216.4 1776.7h1.4M245.5 1790.2h1.4M224.4 1791.2h1.4M228.5 1773.7h1.4M263.1 1764.5h1.4M251.4 1789.4h1.4M247.7 1781.2h1.4M236.9 1803.3h1.4M229.5 1787.3h1.4M231.1 1771.5h1.4M260.6 1789.8h1.4M276.6 1755.1h1.4M264 1775.8h1.4M265.2 1793h1.4M224.5 1775h1.4M217.2 1776.6h1.4M228.4 1791.8h1.4M236.8 1770.2h1.4M232.5 1786.7h1.4M243 1783.3h1.4M253.6 1784.6h1.4M227.9 1780.4h1.4M273.7 1797.5h1.4M229.5 1803.1h1.4M190 1771.1h1.4M197.7 1813.6h1.4M231.2 1792h1.4M199.1 1790.8h1.4M235.2 1777.6h1.4M266.9 1800.2h1.4M222.6 1789.4h1.4M259.3 1774h1.4M220 1769.4h1.4M250.4 1775.1h1.4M220 1801.3h1.4M230.9 1744.2h1.4M217.5 1808.3h1.4M262.1 1802.1h1.4M217.5 1801.9h1.4M218.8 1786.5h1.4M222.3 1790.7h1.4M245.3 1792.1h1.4M253.6 1782h1.4M241.7 1809.8h1.4M281.5 1784.4h1.4M245.6 1798h1.4M244 1781h1.4M242.9 1786.7h1.4M257 1796.3h1.4M216.9 1790.2h1.4M283.1 1773.5h1.4M203 1787.2h1.4M249.7 1776.1h1.4M236.5 1758.2h1.4M246.3 1801.3h1.4M214.7 1804.8h1.4M218.8 1788.8h1.4M253.5 1779.7h1.4M207 1798.6h1.4M216.2 1800.2h1.4M237.8 1794.9h1.4M269.9 1772.1h1.4M257.6 1793h1.4M201.1 1789.5h1.4M206 1797.3h1.4M225.6 1802.9h1.4M191.4 1804.5h1.4M228.4 1805.7h1.4M239.1 1806.5h1.4M248.5 1785h1.4M223.4 1778.5h1.4M239.2 1811h1.4M247.5 1804.1h1.4M253.3 1772.8h1.4M244.1 1769.6h1.4M268.2 1790.2h1.4M227.3 1791.5h1.4M221.5 1776h1.4M237.1 1793.1h1.4M230.9 1762.4h1.4M256.4 1791.7h1.4M231 1814.7h1.4M219.7 1771.3h1.4M254.3 1766.5h1.4M237 1785.4h1.4M246.9 1811.9h1.4M255.4 1789.9h1.4M244.4 1761.3h1.4M220 1807.9h1.4M246.2 1771.4h1.4M205 1813.3h1.4M243.3 1772.8h1.4M233.5 1798.9h1.4M242.5 1786.2h1.4M252.8 1782.7h1.4M220.3 1795.1h1.4M205.7 1810.2h1.4M241.4 1775.7h1.4M303.8 1779.3h1.4M205.4 1772.4h1.4M236.1 1781.9h1.4M256.5 1779.7h1.4M244.8 1769.2h1.4M245.1 1786.9h1.4M220.6 1779.1h1.4M219.2 1806.1h1.4M235.5 1799.9h1.4M210.7 1790.4h1.4M263.4 1792.6h1.4M204.6 1785.3h1.4M231.8 1787.3h1.4M209.2 1775.9h1.4M235.7 1785.8h1.4M261.1 1803.9h1.4M262.3 1780.1h1.4M266 1795.6h1.4M242.3 1782.9h1.4M238.1 1783.1h1.4M219.8 1797.8h1.4M252.8 1774.2h1.4M236.6 1782.4h1.4M238.1 1789.7h1.4M275.3 1783.9h1.4M207.2 1798.2h1.4M234.5 1799.8h1.4M218.3 1796.8h1.4M222.8 1792.7h1.4M197.2 1781.2h1.4M280.1 1803.6h1.4M247.8 1794h1.4M210.6 1791.5h1.4M268.7 1795.9h1.4M232.9 1773.4h1.4M247.9 1797h1.4M261.4 1778.6h1.4M222.1 1788.9h1.4M241.5 1796.7h1.4M224.2 1771.3h1.4M247.6 1788.4h1.4M260.5 1795.6h1.4M218.6 1806.4h1.4M196.4 1773.1h1.4M274.9 1781.4h1.4M211.8 1800h1.4M246.7 1825.8h1.4M244.3 1785.7h1.4M227 1784.1h1.4M200.3 1815.3h1.4M172.7 1783.5h1.4M171.7 1789.3h1.4M183.3 1798.6h1.4M175.3 1766.2h1.4M172.5 1766h1.4M179.8 1774.5h1.4M138.8 1791h1.4M152.7 1771.3h1.4M156.9 1777.8h1.4M161.4 1781.4h1.4M191.7 1790.5h1.4M162 1778.8h1.4M160.1 1781.2h1.4M145.2 1785.1h1.4M161.9 1765.9h1.4M161.3 1789.6h1.4M175.2 1789.8h1.4M166.2 1778.6h1.4M142.2 1784h1.4M186 1784.7h1.4M141.2 1781.8h1.4M157.2 1776.4h1.4M170.4 1771.2h1.4M154.5 1791.3h1.4M161.5 1785.7h1.4M157.9 1776h1.4M139.5 1770.5h1.4M166.9 1779.9h1.4M186.1 1787.1h1.4M168.8 1770.7h1.4M177.5 1777.3h1.4M173.6 1790.4h1.4M185.1 1778.1h1.4M176.2 1772.2h1.4M182.3 1786.5h1.4M160.8 1777.2h1.4M180.3 1791.2h1.4M169.9 1779.7h1.4M172.3 1780.8h1.4M164.7 1764.9h1.4M171.7 1795.8h1.4M194.5 1787.2h1.4M150.7 1804.2h1.4M200.4 1773.6h1.4M246.8 1789.7h1.4M205.4 1754.6h1.4M197.7 1763.1h1.4M190.6 1774.3h1.4M212.7 1782.5h1.4M185.1 1775.3h1.4M240.2 1781.1h1.4M206 1791.4h1.4M228.9 1755.5h1.4M220.3 1769.1h1.4M168.8 1768h1.4M248.4 1783.2h1.4M193.6 1769h1.4M201.3 1793.7h1.4M226.9 1800.1h1.4M169.9 1771.6h1.4M256.1 1765.5h1.4M223.5 1779.4h1.4M224 1774.1h1.4M206.7 1772.9h1.4M207.4 1786.7h1.4M205.3 1783.7h1.4M206.2 1790.7h1.4M208.4 1779.4h1.4M197.9 1779.7h1.4M203.8 1778.3h1.4M200.4 1766h1.4M214.5 1761h1.4M195.1 1782.3h1.4M225.3 1788.6h1.4M210.3 1760.9h1.4M199.3 1770.3h1.4M203.9 1766.8h1.4M187.4 1780.1h1.4M246.1 1762.3h1.4M199.9 1790.1h1.4M219.6 1780.8h1.4M225.9 1782.6h1.4M210 1772.6h1.4M175.4 1794.6h1.4M200.9 1774.8h1.4M213.8 1776.6h1.4M222.7 1793h1.4M197.1 1774.3h1.4M205.8 1779.6h1.4M208.7 1780.1h1.4M229.1 1766.8h1.4M199.3 1765.6h1.4M190.4 1773.3h1.4M225 1768.5h1.4M230 1758.2h1.4M203.2 1786.6h1.4M262.9 1787.5h1.4M247.2 1773h1.4M277.6 1766.9h1.4M261.2 1772h1.4M277.1 1769.4h1.4M249.9 1762.6h1.4M265.5 1759.4h1.4M289.7 1759.3h1.4M273.8 1757.4h1.4M292.8 1761.6h1.4M274.3 1770h1.4M257.5 1763.4h1.4M264.1 1770.6h1.4M260.2 1758.3h1.4M256.4 1754.6h1.4M275.9 1773.1h1.4M298.2 1751.6h1.4M269.7 1765.5h1.4M281 1759.5h1.4M275.2 1760.2h1.4M286 1765h1.4M263.3 1754.4h1.4M302 1771.6h1.4M251.8 1756.8h1.4M262.2 1772.1h1.4M265.5 1771.5h1.4M263.2 1758.4h1.4M298.2 1786.5h1.4M273.8 1775.1h1.4M249 1763h1.4M270.4 1781.9h1.4M254.5 1778.2h1.4M277.5 1760.8h1.4M279.7 1770.1h1.4M263.1 1785.1h1.4M278.3 1780h1.4M259.2 1759.9h1.4M287.3 1754h1.4M268.8 1783.8h1.4M264.5 1760.8h1.4" stroke="#4d4d4f" stroke-opacity="0.62" stroke-width="1.4" fill="none"/>
<path d="M201.4 1782.1h1.4M273.3 1785.8h1.4M260.8 1777.5h1.4M251.1 1779h1.4M260.8 1778h1.4M210.1 1810.4h1.4M210.6 1774.8h1.4M194.2 1797.2h1.4M242.7 1815.4h1.4M239.8 1800h1.4M240.3 1806.2h1.4M220.1 1779.7h1.4M248.1 1788.9h1.4M206.5 1807.7h1.4M255.2 1796.1h1.4M255.1 1780.5h1.4M239.4 1777.3h1.4M239.4 1801.1h1.4M224.9 1804.2h1.4M238.1 1769.2h1.4M244.6 1786.8h1.4M240.4 1790h1.4M232.6 1800.5h1.4M256.6 1778.4h1.4M225.3 1793.1h1.4M228.7 1795.1h1.4M243.2 1790.4h1.4M226.2 1797.9h1.4M238 1799.6h1.4M192.4 1813.9h1.4M221.6 1784.4h1.4M249.2 1767.8h1.4M220.9 1817.2h1.4M227.8 1794.9h1.4M202.2 1777.7h1.4M248.8 1808.2h1.4M218.5 1778.1h1.4M210.7 1782.7h1.4M219.7 1796.5h1.4M244.9 1804.3h1.4M205.2 1775.3h1.4M234.7 1809.9h1.4M247.9 1791.9h1.4M233.6 1770.6h1.4M276.8 1756.8h1.4M241.1 1796.7h1.4M286.7 1776.3h1.4M222.9 1806.4h1.4M208.2 1789.4h1.4M238.9 1818.6h1.4M239.7 1807.1h1.4M248.6 1791.4h1.4M226.2 1797.1h1.4M212.7 1767.1h1.4M226.1 1789.9h1.4M229.9 1761.5h1.4M249.5 1779.6h1.4M245.3 1761.4h1.4M221.3 1797.1h1.4M265.4 1768.5h1.4M233.1 1784.6h1.4M235 1776.6h1.4M208.4 1785.3h1.4M241.5 1787.7h1.4M237.9 1797h1.4M237.6 1780.1h1.4M262.5 1791.8h1.4M272.8 1774.7h1.4M221.7 1793.1h1.4M231 1783.5h1.4M265.5 1781.4h1.4M222.4 1784.3h1.4M231 1776.4h1.4M238.7 1784.9h1.4M255.3 1763.8h1.4M231.5 1779h1.4M269.8 1797.1h1.4M241 1795.2h1.4M232 1787.7h1.4M262 1810.2h1.4M251.8 1765.2h1.4M225 1805h1.4M255.4 1803.5h1.4M267.2 1780.5h1.4M226.3 1779.2h1.4M228.9 1764.3h1.4M267.1 1788.4h1.4M251.5 1787h1.4M270.8 1770h1.4M276.1 1778.7h1.4M205.9 1812.4h1.4M218.7 1815.5h1.4M237 1812.4h1.4M252 1813.2h1.4M285.6 1791.6h1.4M261.9 1784.7h1.4M236.8 1772.3h1.4M247.6 1765.9h1.4M254.4 1787.4h1.4M216.8 1767.7h1.4M248.6 1792.7h1.4M224.4 1808.4h1.4M217.3 1781.9h1.4M210.5 1820.6h1.4M288.1 1789.8h1.4M280.3 1798.3h1.4M217 1783.6h1.4M202.5 1791h1.4M218.7 1794.4h1.4M229.7 1797.8h1.4M219.8 1770.8h1.4M250.4 1781.1h1.4M213.8 1799.7h1.4M223.8 1766.3h1.4M258.7 1805.5h1.4M228.5 1797.3h1.4M255 1762.6h1.4M286.1 1763.5h1.4M264.1 1793.8h1.4M232 1795.6h1.4M229.4 1785.9h1.4M243.3 1810.5h1.4M275.7 1798h1.4M266.5 1779.9h1.4M237.6 1787.2h1.4M247.7 1805.3h1.4M216.8 1786.6h1.4M261 1782h1.4M262.6 1796.3h1.4M209.2 1807h1.4M231.1 1796.8h1.4M269.7 1781.4h1.4M214.3 1815h1.4M257.9 1791.8h1.4M248.4 1799h1.4M251.6 1768.1h1.4M221.6 1787.5h1.4M225.2 1798.4h1.4M225.1 1780h1.4M226.5 1774.7h1.4M237.2 1760h1.4M256.9 1794h1.4M217.4 1801.6h1.4M261.5 1795.4h1.4M228.7 1795.4h1.4M201.6 1806.7h1.4M239.8 1816.6h1.4M240.7 1780.6h1.4M250.1 1804.5h1.4M235.5 1777.3h1.4M245.3 1799.8h1.4M260.4 1801.6h1.4M255.5 1777.6h1.4M287.9 1773.7h1.4M205.7 1785.3h1.4M288.9 1766.9h1.4M253.1 1812.5h1.4M226.2 1797.2h1.4M244.9 1783.2h1.4M202.5 1804.2h1.4M218.6 1822h1.4M267.4 1782.4h1.4M250.2 1803.8h1.4M240.6 1782.6h1.4M214 1800.1h1.4M176.5 1796.8h1.4M243.8 1792.3h1.4M222.2 1800.9h1.4M236.5 1800.1h1.4M251.5 1789.3h1.4M245.8 1785h1.4M229.2 1791.1h1.4M235.2 1776.3h1.4M240.9 1787.7h1.4M254.9 1798h1.4M252.9 1789.9h1.4M252.8 1792h1.4M275.2 1750.3h1.4M264 1800.3h1.4M219.5 1786.9h1.4M236.3 1778.7h1.4M238.1 1795.8h1.4M222.9 1778.7h1.4M250.8 1794.9h1.4M271.8 1783.1h1.4M228.5 1786.6h1.4M228.3 1786.1h1.4M254 1782.5h1.4M228 1769h1.4M246.1 1787.7h1.4M223 1805.6h1.4M257.6 1794.9h1.4M243.1 1789.7h1.4M204 1779h1.4M221.5 1778h1.4M226.9 1767h1.4M252.2 1777.9h1.4M208.7 1784.7h1.4M203 1788.1h1.4M248 1797.2h1.4M201.1 1765.4h1.4M209.4 1782.8h1.4M236.4 1806.1h1.4M233.4 1795.4h1.4M256.5 1785.6h1.4M206.6 1780h1.4M257.4 1788.1h1.4M260.4 1792.4h1.4M258.6 1769.3h1.4M237 1795.4h1.4M254.3 1795.4h1.4M200.5 1790.2h1.4M235.2 1779.7h1.4M193.8 1816h1.4M218.8 1803.6h1.4M262.7 1788.8h1.4M244.7 1780.8h1.4M225.8 1763.9h1.4M229.4 1799h1.4M215.6 1813.2h1.4M209.8 1797.7h1.4M239.3 1789.1h1.4M239 1799.1h1.4M227.4 1790.2h1.4M276 1782.8h1.4M233.8 1787.8h1.4M260.7 1824.8h1.4M245.8 1785.5h1.4M254.1 1780h1.4M238.4 1814.1h1.4M234.4 1790.8h1.4M242.5 1789.6h1.4M236.4 1796.7h1.4M233.7 1788.1h1.4M206.6 1815.9h1.4M243.5 1810.6h1.4M257.3 1789.7h1.4M247.8 1782h1.4M271.2 1774.7h1.4M206.6 1773.3h1.4M248.8 1793.1h1.4M237.1 1766.3h1.4M231.8 1804.7h1.4M257.7 1787.5h1.4M216.1 1772h1.4M214.7 1803.1h1.4M199.9 1776.6h1.4M227.2 1816.7h1.4M219.6 1788.2h1.4M258.5 1775.9h1.4M197.1 1795.2h1.4M252.1 1794.1h1.4M245.2 1781.3h1.4M253.8 1796.6h1.4M216.9 1798h1.4M255.8 1800.3h1.4M225.4 1785.1h1.4M265.9 1758.7h1.4M216 1773.5h1.4M252.6 1792.4h1.4M251.1 1789.4h1.4M266.9 1782.5h1.4M250.5 1804.1h1.4M219.7 1775.9h1.4M239.3 1782.9h1.4M223.8 1806.4h1.4M238.6 1791h1.4M249.9 1789.4h1.4M216.9 1775.2h1.4M292.2 1775.8h1.4M240.2 1775.2h1.4M222.4 1794.1h1.4M215.9 1802.2h1.4M165.3 1790h1.4M172.2 1780.8h1.4M165.3 1789.1h1.4M169 1780h1.4M172.7 1785.9h1.4M183.9 1782.4h1.4M192.4 1771h1.4M165.2 1780.8h1.4M160.6 1768.7h1.4M166 1788.9h1.4M175.9 1788h1.4M169.2 1784.4h1.4M158.5 1766.4h1.4M141.2 1778.9h1.4M156.3 1785.9h1.4M165 1777.7h1.4M180 1788.6h1.4M170.8 1781.6h1.4M161.6 1780.7h1.4M146.7 1783.6h1.4M159.4 1769.3h1.4M165.9 1787.4h1.4M144.7 1782.2h1.4M183.2 1773.3h1.4M166.2 1782.8h1.4M161.1 1781.7h1.4M166.2 1792.8h1.4M159.9 1758.5h1.4M156.4 1802.5h1.4M161.5 1792.9h1.4M177.7 1782.6h1.4M166.6 1787.5h1.4M176.4 1797.2h1.4M186.8 1798.3h1.4M179.6 1784.3h1.4M157.7 1785.9h1.4M158.7 1784.5h1.4M179.7 1794.4h1.4M160.5 1775.9h1.4M167.3 1784.4h1.4M139.4 1761.6h1.4M160.5 1797.3h1.4M157.3 1786.2h1.4M159.6 1780.8h1.4M181 1762.6h1.4M241.7 1783.5h1.4M199.3 1796.1h1.4M195.8 1773.9h1.4M202.5 1774.4h1.4M181.4 1777h1.4M196.6 1771.9h1.4M210.9 1801.4h1.4M215.6 1781.8h1.4M203.1 1773.8h1.4M201.1 1772.8h1.4M199.4 1778.3h1.4M181.2 1771.6h1.4M238.6 1778.8h1.4M215.2 1790.7h1.4M206.3 1759.5h1.4M226.8 1791.6h1.4M204.2 1762.5h1.4M204.4 1780.3h1.4M205.5 1781.7h1.4M175.8 1771.9h1.4M214.6 1781.5h1.4M171.4 1792.3h1.4M206.7 1768.1h1.4M226 1787.5h1.4M241.9 1782.8h1.4M209.2 1762.1h1.4M210.4 1794h1.4M161.7 1773.7h1.4M201.7 1772h1.4M220.1 1742.4h1.4M234.6 1782h1.4M216.3 1773.7h1.4M231.4 1766.7h1.4M229.9 1776.6h1.4M217.4 1778.8h1.4M218.3 1767.8h1.4M230.3 1782.7h1.4M249.4 1771.1h1.4M215.4 1762.6h1.4M201 1781.6h1.4M204 1790.4h1.4M172.9 1785.9h1.4M208.4 1790.5h1.4M217.1 1769.3h1.4M226 1787.6h1.4M237.5 1751.5h1.4M213.5 1788.3h1.4M219.6 1769.5h1.4M184.7 1783.1h1.4M212.7 1804.2h1.4M177.9 1768.1h1.4M208.9 1781.3h1.4M268.6 1762.8h1.4M255.4 1762.5h1.4M298.1 1769.8h1.4M272.9 1780.4h1.4M276.7 1778.5h1.4M276.5 1745.8h1.4M295.6 1784.5h1.4M307.6 1761.2h1.4M272.7 1781.4h1.4M285.3 1767.5h1.4M262.5 1764.8h1.4M263.6 1769.9h1.4M254.8 1741.6h1.4M280.7 1758.3h1.4M278.4 1774.2h1.4M270.7 1771.3h1.4M275.5 1774.6h1.4M258.2 1769.6h1.4M277.8 1763.9h1.4M261.9 1761.4h1.4M273 1753.8h1.4M248.8 1775.2h1.4M267.7 1776.6h1.4M270 1762.2h1.4M279 1779.7h1.4M282.7 1766.5h1.4M264.4 1754.2h1.4M285.8 1767.5h1.4M262.1 1780.2h1.4M277.9 1765h1.4M240.1 1775.2h1.4M257.5 1763.1h1.4M275.2 1780.3h1.4M259.6 1783.3h1.4M270.7 1756.2h1.4M259.7 1774.4h1.4M281 1777.4h1.4M273.3 1761.4h1.4M300.7 1767.6h1.4M292.1 1765.8h1.4" stroke="#4d4d4f" stroke-opacity="0.62" stroke-width="1.4" fill="none"/>
<path d="M244.9 1797.4h1.4M265.5 1815.6h1.4M267.3 1794.9h1.4M208.8 1781.2h1.4M217 1781.6h1.4M247.3 1783.5h1.4M215.7 1775.3h1.4M231.3 1780.6h1.4M246 1786.7h1.4M234.8 1793.4h1.4M222.3 1787.9h1.4M277 1765.8h1.4M212.4 1792.7h1.4M236.6 1770.4h1.4M231.2 1793.1h1.4M186.3 1782.5h1.4M266.9 1789.3h1.4M260 1785.9h1.4M261.7 1799.7h1.4M238.6 1791.6h1.4M268.2 1782.7h1.4M268.6 1762h1.4M212 1799.4h1.4M232.9 1791.8h1.4M232.5 1793h1.4M241.6 1782h1.4M262.4 1784.8h1.4M238 1800.3h1.4M232.7 1797.7h1.4M242.6 1776.2h1.4M221.2 1808.7h1.4M250.4 1782.8h1.4M226.8 1797.2h1.4M228.9 1822.7h1.4M260.9 1778.8h1.4M208.1 1803.6h1.4M232.4 1798.1h1.4M233.4 1778.2h1.4M217.4 1790.1h1.4M230.6 1798.1h1.4M219.2 1788.5h1.4M276.8 1781.1h1.4M247.9 1794.7h1.4M233.7 1799.8h1.4M265.8 1776.4h1.4M244.8 1770.5h1.4M208.7 1799.9h1.4M258.6 1793.8h1.4M269.2 1787h1.4M261.9 1795h1.4M256.3 1777.6h1.4M259.5 1779.2h1.4M241.6 1767.3h1.4M267.4 1754.8h1.4M237.1 1797.9h1.4M249.3 1803.2h1.4M213.9 1789.2h1.4M277.9 1790.5h1.4M256.1 1793.9h1.4M216.5 1775.1h1.4M218.3 1782.7h1.4M236.6 1811.5h1.4M253.3 1770.9h1.4M213.8 1803.6h1.4M241.5 1778.7h1.4M226.3 1776.7h1.4M249.4 1791.1h1.4M250.6 1792.5h1.4M229.4 1798.9h1.4M233.4 1802.5h1.4M244.1 1800.4h1.4M246.3 1807.7h1.4M227.4 1790.2h1.4M235.7 1806.1h1.4M256.7 1790.9h1.4M265.1 1764.2h1.4M210.8 1790.3h1.4M241.1 1799.5h1.4M229.1 1774.8h1.4M257.1 1772.5h1.4M258.8 1781.6h1.4M225.6 1783.7h1.4M223.1 1793h1.4M263.9 1783.9h1.4M236.5 1772.1h1.4M247.2 1792h1.4M253.1 1786.9h1.4M260 1764.9h1.4M242.4 1806.3h1.4M230.1 1793.8h1.4M238.7 1774.6h1.4M259.4 1786.8h1.4M226.7 1789.3h1.4M255 1777.7h1.4M254.2 1777.2h1.4M190.8 1805.8h1.4M222.4 1787.3h1.4M223.7 1772.3h1.4M218.6 1794.2h1.4M229.2 1777h1.4M210.6 1762.7h1.4M233.5 1769.7h1.4M245.3 1789.2h1.4M245.7 1809.2h1.4M252.5 1814.4h1.4M246.3 1783.6h1.4M238.1 1792.3h1.4M250.6 1778.9h1.4M256.9 1788.1h1.4M257.4 1795.3h1.4M281.4 1786.8h1.4M226.2 1811.6h1.4M225.2 1792.2h1.4M249.4 1776.3h1.4M260.1 1777.3h1.4M249.6 1809.6h1.4M251.4 1780.6h1.4M280.3 1796.4h1.4M248.1 1788.2h1.4M212.7 1789.8h1.4M236.8 1781.1h1.4M270.5 1778.1h1.4M224.6 1774.6h1.4M246.3 1771.7h1.4M222.2 1784.6h1.4M219.6 1782.7h1.4M224.3 1798h1.4M226 1842.4h1.4M271.6 1770.6h1.4M249.4 1778.1h1.4M232.1 1792h1.4M211.2 1809.6h1.4M269.2 1775.9h1.4M250.8 1815.5h1.4M222 1776.6h1.4M265 1773.4h1.4M264.2 1792.7h1.4M217.9 1788.5h1.4M250.2 1767.1h1.4M260.1 1775.9h1.4M266.2 1787.4h1.4M245.7 1779h1.4M250.6 1783.5h1.4M274.4 1793.2h1.4M212.5 1787.2h1.4M257.3 1779.4h1.4M279.4 1792.7h1.4M240.1 1800h1.4M233 1804.3h1.4M226.3 1798.9h1.4M264.3 1779.5h1.4M215.7 1801.9h1.4M223.6 1792.2h1.4M233.7 1793.4h1.4M223 1786.9h1.4M228.6 1784.9h1.4M242.7 1784.8h1.4M236.7 1779h1.4M256.4 1786.2h1.4M213.4 1793.2h1.4M243.6 1790.1h1.4M223.6 1783.3h1.4M202.7 1800.7h1.4M234.3 1781.8h1.4M254.2 1782.8h1.4M253 1799.8h1.4M222.4 1800.8h1.4M300.3 1764.6h1.4M224.8 1788.9h1.4M206.2 1798.6h1.4M217.2 1798h1.4M232.3 1792.3h1.4M267.4 1799h1.4M237.7 1788.9h1.4M275.5 1767.1h1.4M260 1784.7h1.4M217.7 1781h1.4M205.7 1793.1h1.4M244 1809.8h1.4M246.7 1806.4h1.4M226 1782.6h1.4M225.6 1786.9h1.4M236.9 1793.6h1.4M254 1790.6h1.4M215.5 1788.8h1.4M247.9 1782.9h1.4M237.4 1793.2h1.4M242.9 1783.9h1.4M234.8 1774.4h1.4M241.7 1786.7h1.4M262.1 1805.2h1.4M227.8 1783.3h1.4M221.4 1805.9h1.4M245.5 1774.7h1.4M246.2 1799.9h1.4M222.2 1795.7h1.4M232.6 1790.2h1.4M255.4 1806.9h1.4M243.5 1788.3h1.4M246.5 1784h1.4M252.6 1792.6h1.4M230.6 1775.4h1.4M231 1806.9h1.4M271 1799h1.4M230.6 1785.5h1.4M280.9 1767.6h1.4M262.9 1811.7h1.4M259 1791.6h1.4M267.3 1773.2h1.4M263.8 1776.1h1.4M221.7 1800h1.4M243.1 1802.4h1.4M238.9 1767.8h1.4M212.9 1796.8h1.4M257.9 1789.7h1.4M212.7 1775.4h1.4M241.8 1799.9h1.4M237.8 1802.9h1.4M233 1778.3h1.4M227.4 1780.4h1.4M237.3 1778.3h1.4M202.4 1792.8h1.4M238.6 1777.3h1.4M228.1 1800.5h1.4M256.6 1785.8h1.4M279 1788.4h1.4M241.9 1764.2h1.4M261.1 1790.5h1.4M221.5 1797.4h1.4M252 1791.3h1.4M249.2 1793.1h1.4M186.3 1783.8h1.4M236.2 1798h1.4M246.4 1786.1h1.4M209.1 1781.2h1.4M262.4 1794.1h1.4M250.2 1799h1.4M260 1769.4h1.4M224.3 1775.2h1.4M267.1 1787.2h1.4M285.5 1750.6h1.4M229.4 1798.7h1.4M236.1 1795.2h1.4M243.7 1783.8h1.4M224.9 1783h1.4M250.2 1771.1h1.4M275.6 1777.5h1.4M243.8 1779.9h1.4M213.4 1793.1h1.4M265.9 1760.3h1.4M240.3 1773.3h1.4M221.8 1767.2h1.4M205.2 1814h1.4M261.5 1774.2h1.4M232.4 1783.7h1.4M246.2 1775.2h1.4M286.3 1785.7h1.4M232.6 1794.5h1.4M245.8 1776.4h1.4M219.4 1769.7h1.4M280 1789.1h1.4M250.6 1792.8h1.4M283.7 1766.1h1.4M233.9 1777.1h1.4M193.1 1796.8h1.4M198.5 1783.6h1.4M299.3 1768.8h1.4M229.9 1810.5h1.4M243.3 1811.1h1.4M229.2 1785.7h1.4M232.2 1785.1h1.4M262.7 1781.5h1.4M259.4 1788h1.4M157.9 1766.5h1.4M169.9 1775.9h1.4M144.7 1773.1h1.4M150.8 1784.6h1.4M171.3 1769.7h1.4M152 1794.5h1.4M169.8 1792.8h1.4M153.1 1784.3h1.4M184.9 1767.7h1.4M175.8 1778h1.4M159.8 1760.4h1.4M159.7 1771h1.4M162.2 1786.8h1.4M164.5 1768.7h1.4M161 1787.2h1.4M173.9 1776.5h1.4M178.5 1785.5h1.4M167.7 1805h1.4M168.9 1769.7h1.4M167.7 1792.5h1.4M156.5 1781.4h1.4M162 1782h1.4M184.6 1782.6h1.4M175.6 1782.1h1.4M171.4 1780.8h1.4M158 1766.1h1.4M145.7 1782.3h1.4M143.7 1782.5h1.4M164.1 1772.4h1.4M167.9 1787.4h1.4M153.9 1773.4h1.4M167.5 1765.7h1.4M170.4 1788.8h1.4M175.4 1799.4h1.4M171 1782.5h1.4M174.8 1773.7h1.4M178.2 1799.9h1.4M161.5 1787.9h1.4M162.8 1768.7h1.4M174.7 1775.1h1.4M184.4 1762.7h1.4M188.2 1790.5h1.4M160.7 1768h1.4M191.9 1779.6h1.4M190.3 1781.3h1.4M203.6 1763.6h1.4M211.9 1790.6h1.4M229.5 1800h1.4M180.6 1779.3h1.4M170.7 1788.3h1.4M184.4 1758.9h1.4M203.6 1784.4h1.4M200.5 1781.4h1.4M199.6 1756.6h1.4M172.3 1773.5h1.4M206.8 1776.8h1.4M192.5 1776.4h1.4M198.9 1775.6h1.4M143.3 1782h1.4M217.5 1771.8h1.4M220.1 1766.9h1.4M232.1 1783.3h1.4M168 1789.4h1.4M237.2 1783.2h1.4M207.3 1775.7h1.4M219 1780.5h1.4M180.1 1787.7h1.4M227.4 1780.6h1.4M210.6 1761.5h1.4M204.2 1791.7h1.4M225.2 1783.3h1.4M193.3 1766.9h1.4M192.3 1775.6h1.4M197 1785.6h1.4M186.1 1775.2h1.4M193.8 1780.5h1.4M178 1771.7h1.4M241.4 1788.5h1.4M182.4 1779.9h1.4M203.9 1774.4h1.4M237.5 1764.5h1.4M227.5 1778.5h1.4M230.3 1783.9h1.4M179.1 1786.6h1.4M208 1783.4h1.4M229.2 1792.8h1.4M223.3 1774.4h1.4M212.7 1759.8h1.4M197.8 1768.3h1.4M209.8 1781.5h1.4M203 1782.3h1.4M197.6 1757.9h1.4M242.2 1780.4h1.4M236.4 1776.5h1.4M178.4 1792.4h1.4M225.9 1774.1h1.4M200.1 1791.2h1.4M281.4 1775.3h1.4M283.2 1762.1h1.4M257.7 1759.7h1.4M275.1 1772h1.4M283.1 1765.2h1.4M266.7 1775.1h1.4M269.4 1783.8h1.4M269.3 1759.6h1.4M275.5 1767.9h1.4M275.5 1770.8h1.4M278.4 1769.4h1.4M274.9 1771.4h1.4M271.8 1753.9h1.4M276 1765.5h1.4M282.4 1788.6h1.4M267.7 1761.3h1.4M274.2 1760.5h1.4M266.8 1764.6h1.4M277.6 1770.7h1.4M274.2 1777.4h1.4M243.1 1761.3h1.4M261.4 1753.1h1.4M261.9 1785.7h1.4M290 1753.8h1.4M276.1 1791.7h1.4M267.8 1765h1.4M276.4 1753.8h1.4M263.9 1781.8h1.4M261.1 1770.6h1.4M265.6 1777.4h1.4M277.9 1754.1h1.4M279.1 1766.2h1.4M275.5 1747.6h1.4M248.7 1788.1h1.4M272.5 1772.8h1.4M280.8 1766.8h1.4M260.6 1756.1h1.4M248.6 1770.7h1.4M284.5 1779.8h1.4M270.9 1766.5h1.4" stroke="#4d4d4f" stroke-opacity="0.62" stroke-width="1.4" fill="none"/>
<rect x="108.9" y="1628.1" width="240.8" height="241.7" fill="none" stroke="#808285" stroke-width="1.3"/>
<path d="M108.9 1628.1V1869.8H349.7" fill="none" stroke="#58595b" stroke-width="1.5"/>
<path d="M112.3 1629.6V1780.8" stroke="#808285" stroke-width="1.4"/>
<path d="M111.6 1780.8H346.3V1629.6" fill="none" stroke="#58595b" stroke-width="1.6"/>
<path d="M108.2 1628.8H350.3" stroke="#636466" stroke-width="2"/>
<path d="M101.9 1650.9H108.9M101.9 1709.2H108.9M101.9 1774.5H108.9M101.9 1854.1H108.9" stroke="#231f20" stroke-width="2.4" fill="none"/>
<path d="M105.6 1691.6H108.9M105.6 1681.4H108.9M105.6 1674.1H108.9M103.9 1668.5H108.9M105.6 1663.8H108.9M105.6 1659.9H108.9M105.6 1656.5H108.9M105.6 1653.6H108.9M105.6 1754.8H108.9M105.6 1743.3H108.9M105.6 1735.2H108.9M103.9 1728.9H108.9M105.6 1723.7H108.9M105.6 1719.3H108.9M105.6 1715.5H108.9M105.6 1712.2H108.9M105.6 1633.3H108.9M105.6 1777.7H108.9M105.6 1780H108.9M105.6 1782.3H108.9M105.6 1784.7H108.9M105.6 1787.4H108.9M105.6 1789.9H108.9M103.9 1792.4H108.9M105.6 1795.4H108.9M105.6 1798.3H108.9M105.6 1801.1H108.9M105.6 1804.9H108.9M105.6 1823.1H108.9M105.6 1826.6H108.9M105.6 1829.8H108.9M105.6 1832.7H108.9M103.9 1836.2H108.9M105.6 1839.5H108.9M105.6 1842.7H108.9M105.6 1845.2H108.9M105.6 1847.7H108.9M105.6 1850.2H108.9" stroke="#231f20" stroke-width="1.5" fill="none"/>
<path d="M108.9 1807.9L105.4 1807.9L102.6 1808.9L104.7 1810.3L102.1 1812.3L103.7 1813.8L101.9 1815.3L104.3 1816.5L102.3 1818.3L105.9 1819.3L108.9 1819.3Z" fill="#231f20"/>
<path d="M109.5 1869.8V1876.2M155.1 1869.8V1876.2M200.7 1869.8V1876.2M246.3 1869.8V1876.2M291.9 1869.8V1876.2M337.5 1869.8V1876.2" stroke="#231f20" stroke-width="2" fill="none"/>
<path d="M118.6 1869.8V1873.4M127.7 1869.8V1873.4M136.9 1869.8V1873.4M146 1869.8V1873.4M164.2 1869.8V1873.4M173.3 1869.8V1873.4M182.5 1869.8V1873.4M191.6 1869.8V1873.4M209.8 1869.8V1873.4M218.9 1869.8V1873.4M228.1 1869.8V1873.4M237.2 1869.8V1873.4M255.4 1869.8V1873.4M264.5 1869.8V1873.4M273.7 1869.8V1873.4M282.8 1869.8V1873.4M301 1869.8V1873.4M310.1 1869.8V1873.4M319.3 1869.8V1873.4M328.4 1869.8V1873.4M346.6 1869.8V1873.4" stroke="#231f20" stroke-width="1.4" fill="none"/>
<text x="110.1" y="1888.3" font-size="10.5" text-anchor="middle" font-weight="normal" fill="#231f20" stroke="#231f20" stroke-width="0.75">0</text>
<text x="155.5" y="1888.3" font-size="10.5" text-anchor="middle" font-weight="normal" fill="#231f20" stroke="#231f20" stroke-width="0.75">50K</text>
<text x="201" y="1888.3" font-size="10.5" text-anchor="middle" font-weight="normal" fill="#231f20" stroke="#231f20" stroke-width="0.75">100K</text>
<text x="246.8" y="1888.3" font-size="10.5" text-anchor="middle" font-weight="normal" fill="#231f20" stroke="#231f20" stroke-width="0.75">150K</text>
<text x="292.6" y="1888.3" font-size="10.5" text-anchor="middle" font-weight="normal" fill="#231f20" stroke="#231f20" stroke-width="0.75">200K</text>
<text x="338.1" y="1888.3" font-size="10.5" text-anchor="middle" font-weight="normal" fill="#231f20" stroke="#231f20" stroke-width="0.75">250K</text>
<text x="97.5" y="1656.7" font-size="10.2" text-anchor="end" font-weight="normal" fill="#231f20" stroke="#231f20" stroke-width="0.75">10<tspan dy="-3.8" font-size="8.4">5</tspan></text>
<text x="97.5" y="1715.2" font-size="10.2" text-anchor="end" font-weight="normal" fill="#231f20" stroke="#231f20" stroke-width="0.75">10<tspan dy="-3.8" font-size="8.4">4</tspan></text>
<text x="97.5" y="1778.7" font-size="10.2" text-anchor="end" font-weight="normal" fill="#231f20" stroke="#231f20" stroke-width="0.75">10<tspan dy="-3.8" font-size="8.4">3</tspan></text>
<text x="97.5" y="1816.7" font-size="10.2" text-anchor="end" font-weight="normal" fill="#231f20" stroke="#231f20" stroke-width="0.75">0</text>
<text x="97.5" y="1861.1" font-size="10.2" text-anchor="end" font-weight="normal" fill="#231f20" stroke="#231f20" stroke-width="0.75">–10<tspan dy="-3.8" font-size="8.4">3</tspan></text>
<text x="340.3" y="1648.9" font-size="10.5" text-anchor="end" font-weight="normal" fill="#231f20" stroke="#231f20" stroke-width="0.75">33,5</text>
<text x="228" y="1610.5" font-size="20.7" text-anchor="middle" font-weight="bold" fill="#231f20">ctrl</text>
<path d="M518.6 1765.1h1.4M521.9 1757.2h1.4M501.9 1777.5h1.4M496.3 1755.6h1.4M510.7 1753.3h1.4M525.5 1763.3h1.4M509.3 1752.9h1.4M502.4 1773.5h1.4M515.7 1778.6h1.4M540.8 1774.9h1.4M497.1 1775.1h1.4M513.2 1761.3h1.4M499.1 1770.1h1.4M535.7 1771.1h1.4M541.8 1777.5h1.4M533.3 1770.5h1.4M516 1774.7h1.4M542.3 1773h1.4M516 1766.8h1.4M507.3 1763.2h1.4M525.3 1762.4h1.4M506.2 1780.4h1.4M553.3 1761.3h1.4M536 1761.6h1.4M520.1 1772.2h1.4M552.4 1766.2h1.4M529.8 1772.2h1.4M523.7 1785.3h1.4M499.5 1777.6h1.4M514.6 1756h1.4M527.8 1766.1h1.4M508.9 1774.5h1.4M489.8 1766.2h1.4M488.3 1774.6h1.4M511 1773.9h1.4M506.7 1774.4h1.4M494 1764.3h1.4M530.6 1773.1h1.4M521.2 1752.2h1.4M551.5 1778h1.4M505.6 1765.6h1.4M570.7 1759.4h1.4M520.5 1779.4h1.4M524 1776h1.4M552.8 1772.5h1.4M517.9 1776.3h1.4M486.6 1761h1.4M530.1 1753.9h1.4M480.9 1771.1h1.4M533.2 1766.2h1.4M510.6 1779.1h1.4M511.9 1771.7h1.4M523.7 1781.2h1.4M520.1 1759h1.4M496.3 1774.7h1.4M519 1766.9h1.4M523.3 1770.6h1.4M516.2 1768.9h1.4M513.9 1775.2h1.4M495 1763.7h1.4M519.6 1769.5h1.4M503 1773.8h1.4M533.3 1764.8h1.4M483.9 1770.7h1.4M545.3 1761.1h1.4M536.9 1778.3h1.4M524.3 1776.3h1.4M507.3 1786.2h1.4M482.5 1789.1h1.4M530.5 1759.7h1.4M516.2 1790.1h1.4M539.4 1776.3h1.4M525.4 1773.1h1.4M497.7 1770.3h1.4M536.7 1788h1.4M520.5 1765.4h1.4M509.4 1767h1.4M514.5 1764h1.4M542.7 1773.5h1.4M512.5 1760.8h1.4M533.9 1763h1.4M498.2 1758.7h1.4M548.7 1759.9h1.4M496.7 1774.3h1.4M504.2 1776.5h1.4M541 1773.9h1.4M549.9 1771.9h1.4M526.3 1768.3h1.4M517.9 1761.7h1.4M515 1774.3h1.4M540.8 1778.9h1.4M500.6 1770.2h1.4M531.7 1764.2h1.4M512.7 1772.4h1.4M511.1 1772h1.4M566.3 1785h1.4M525.1 1771.8h1.4M484.2 1771.5h1.4M536.1 1760.9h1.4M499.2 1774.8h1.4M515.9 1774.1h1.4M519.1 1778.1h1.4M538.2 1794.7h1.4M509.5 1766.6h1.4M533.1 1770h1.4M521.1 1771.3h1.4M541.8 1766.4h1.4M518.3 1768.1h1.4M498 1773.2h1.4M528.8 1767.3h1.4M494.2 1756.1h1.4M533.2 1786.9h1.4M547.4 1747.9h1.4M540 1781.4h1.4M520.9 1774.3h1.4M562 1789.8h1.4M531.1 1762h1.4M515.2 1778.9h1.4M525.3 1765.1h1.4M500.8 1781.1h1.4M521 1764.4h1.4M488.3 1773.5h1.4M537.5 1766.4h1.4M527.7 1765.8h1.4M493.7 1776.7h1.4M519.5 1777.7h1.4M537.7 1783.2h1.4M551.4 1762.4h1.4M542.5 1779h1.4M496.3 1768.6h1.4M513.6 1770.8h1.4M491.2 1781.4h1.4M548 1765.8h1.4M518.4 1768.5h1.4M529.4 1787.5h1.4M525.4 1764.5h1.4M532.6 1759.2h1.4M506.6 1782.4h1.4M547 1760.2h1.4M541.4 1770.7h1.4M523.7 1781.7h1.4M488.9 1766.7h1.4M491.7 1762.4h1.4M515.6 1768.2h1.4M524.6 1769.5h1.4M505.1 1777.2h1.4M545.3 1775.4h1.4M501.1 1770.7h1.4M522.5 1761.4h1.4M484.4 1772.5h1.4M495.7 1771.4h1.4M520.2 1770.7h1.4M531.2 1782.7h1.4M531.7 1781.4h1.4M541.5 1775.6h1.4M527.2 1747.1h1.4M491.6 1783.8h1.4M545.2 1772h1.4M512.8 1775.5h1.4M531.9 1768.1h1.4M510.4 1764.6h1.4M518.4 1780h1.4M499 1780.7h1.4M549.5 1767.1h1.4M504.1 1773.1h1.4M504.6 1760.4h1.4M552.8 1766.3h1.4M492 1780.1h1.4M519.1 1782h1.4M527.5 1760.6h1.4M506 1769.6h1.4M519.2 1782.3h1.4M496.9 1777.2h1.4M519.8 1772.5h1.4M530.1 1767.2h1.4M532.8 1776h1.4M506.9 1771.5h1.4M520.4 1764.5h1.4M539.5 1784.4h1.4M511.8 1763.7h1.4M545.7 1780.7h1.4M529.4 1769.9h1.4M518.1 1773.6h1.4M528.8 1776.4h1.4M507.9 1782.7h1.4M514.5 1778.4h1.4M504.6 1777.1h1.4M449.7 1779.6h1.4M445.6 1763.7h1.4M450.7 1788.3h1.4M417.3 1775.9h1.4M457.4 1762.4h1.4M439.8 1779.8h1.4M462 1784.9h1.4M458 1760.6h1.4M454.3 1758h1.4M440.4 1767h1.4M461.2 1757.5h1.4M458 1766.5h1.4M445.8 1765.3h1.4M434.9 1781.4h1.4M445 1766.2h1.4M452.9 1766.7h1.4M452.4 1773.3h1.4M447 1771.6h1.4M435 1779.1h1.4M453.3 1764.6h1.4M471.7 1775h1.4M451.8 1766.5h1.4M411.4 1767h1.4M421.1 1795.3h1.4M454.9 1773.2h1.4M447.8 1761.5h1.4M470.1 1774.9h1.4M449.1 1752.4h1.4M434.3 1773.5h1.4M458.9 1771.9h1.4M436.4 1788.3h1.4M429.8 1788.5h1.4M455.4 1774.9h1.4M444 1768.4h1.4M466.8 1766.6h1.4M457.8 1772.9h1.4M445.3 1765.1h1.4M467.3 1781.1h1.4M437.9 1769.7h1.4M455.1 1754.6h1.4M440.3 1752.1h1.4M455.1 1790h1.4M449.2 1798.6h1.4M423.9 1781.5h1.4M473.4 1767.9h1.4M429.7 1771.3h1.4M427.9 1761.9h1.4M455 1764.4h1.4M450.4 1772.7h1.4M432.6 1785h1.4M433.9 1769.3h1.4M452.8 1789h1.4M431.5 1774.1h1.4M444.2 1743h1.4M432.2 1772.4h1.4M435.1 1788.3h1.4M418.9 1787.5h1.4M464.7 1757.3h1.4M482.4 1791.3h1.4M425.5 1751h1.4M468.8 1765.8h1.4M460.2 1765.1h1.4M428.4 1783.3h1.4M460.2 1778.9h1.4M454.4 1770.1h1.4M450.8 1768h1.4M430.3 1778.4h1.4M465.2 1790.2h1.4M467.1 1764.9h1.4M440 1774.2h1.4M401.3 1769h1.4M476 1771.8h1.4M456.2 1787.6h1.4M454.3 1785.1h1.4M437.2 1777.7h1.4M449 1770.8h1.4M443.3 1763.1h1.4M511.3 1777.9h1.4M498.4 1774h1.4M468.5 1775.2h1.4M501.5 1774.9h1.4M496.5 1752.5h1.4M492.5 1772.6h1.4M485.5 1777.1h1.4M501.2 1768.5h1.4M484.2 1774.1h1.4M477.8 1748.7h1.4M485.4 1760.1h1.4M472.8 1779.3h1.4M511.7 1745.7h1.4M452.1 1752.9h1.4M470.4 1767.6h1.4M516.7 1760.6h1.4M475.6 1749.4h1.4M477.3 1764.7h1.4M514.9 1763.1h1.4M515.5 1763.1h1.4M510.1 1766.5h1.4M449 1771.3h1.4M491.5 1762.6h1.4M481.9 1773.5h1.4M479.2 1766h1.4M492.1 1764.4h1.4M487.3 1764.3h1.4M500.3 1769.5h1.4M501.7 1762.5h1.4M505 1772.5h1.4M526.4 1769.2h1.4M473.3 1766.5h1.4M480.9 1765.1h1.4M467 1771.3h1.4M472.6 1759.5h1.4M491.9 1776.5h1.4M481 1767.8h1.4M495.8 1767.9h1.4M462.8 1762.4h1.4M496.2 1766.5h1.4M480.4 1771.4h1.4M475.5 1772.6h1.4M484.6 1765.4h1.4M495.2 1775.8h1.4M475.5 1776.3h1.4M480.1 1763.2h1.4M496.9 1761h1.4M500.3 1767h1.4M519 1773.2h1.4M486.5 1776.6h1.4M483.8 1759.6h1.4M474.4 1768.7h1.4M457.5 1773.1h1.4M475.5 1769.6h1.4M503.2 1761.4h1.4M504.9 1773.8h1.4M508.3 1788.2h1.4M470.2 1769.9h1.4M495.1 1775.2h1.4M478.7 1775.8h1.4M529.8 1796.1h1.4M498.2 1786.9h1.4M510.3 1784.7h1.4M497.8 1791.7h1.4M498.5 1784.8h1.4M505.6 1791.2h1.4M506.7 1787.6h1.4M528.1 1791.6h1.4M515.8 1788.4h1.4M514.7 1793.3h1.4M517.6 1790.2h1.4M503.1 1791.4h1.4M516 1788.2h1.4M508.7 1795.5h1.4M533.1 1786.8h1.4M535.2 1790.3h1.4M501.8 1789.9h1.4M502.9 1798.5h1.4M516.4 1777.8h1.4M519.8 1797.9h1.4M490.3 1796.8h1.4M530.1 1782.6h1.4M537.3 1777.3h1.4M545.9 1793.1h1.4M513.1 1779.8h1.4M510.6 1787.2h1.4M526.9 1795.4h1.4M519.3 1780.1h1.4M529.6 1790.2h1.4M493.8 1789.6h1.4M493.3 1789.9h1.4M533.4 1790.2h1.4M508.5 1783.6h1.4M514.4 1788.9h1.4M522.7 1786.7h1.4M475.4 1790.2h1.4" stroke="#4d4d4f" stroke-opacity="0.62" stroke-width="1.4" fill="none"/>
<path d="M534.4 1781.7h1.4M509.5 1781.5h1.4M480.8 1764.3h1.4M536.3 1770.1h1.4M535.5 1764.7h1.4M532.2 1768.1h1.4M501.3 1776.9h1.4M529.5 1764.4h1.4M550.3 1769h1.4M507.6 1773.7h1.4M527.6 1779.2h1.4M504.1 1765.5h1.4M510.5 1783.9h1.4M512.6 1784.3h1.4M523.5 1760.9h1.4M508.8 1761.6h1.4M546 1763.1h1.4M513 1755.8h1.4M532.7 1759.6h1.4M525.7 1769.8h1.4M509.4 1774.7h1.4M534.9 1770.4h1.4M532.1 1769.4h1.4M516.3 1772.7h1.4M527.4 1786.8h1.4M512.1 1758.4h1.4M519 1763.7h1.4M507.9 1766.4h1.4M547.1 1769.5h1.4M524.6 1770.8h1.4M512.4 1757.7h1.4M511.8 1777.9h1.4M542.9 1768.6h1.4M527.2 1765.6h1.4M517.9 1749.8h1.4M512.9 1775.6h1.4M537.8 1768.5h1.4M533.1 1763.5h1.4M517.4 1758.9h1.4M513 1779.4h1.4M529.9 1786.6h1.4M521.2 1762.4h1.4M538.4 1773.2h1.4M521.8 1775.3h1.4M496.6 1782.9h1.4M528.6 1781.9h1.4M525 1776.9h1.4M487.1 1768.8h1.4M498.1 1776.7h1.4M536.5 1782h1.4M526.6 1762.1h1.4M540.7 1768.1h1.4M536.2 1775.1h1.4M499.8 1779.3h1.4M500.9 1772.5h1.4M530.9 1784.3h1.4M560.9 1751.5h1.4M589.7 1774h1.4M551.6 1772.4h1.4M527.8 1775.8h1.4M534.1 1771.8h1.4M493.3 1773.3h1.4M506.4 1764.8h1.4M517.4 1779.3h1.4M520.6 1758.6h1.4M510.9 1775.3h1.4M510.6 1769.6h1.4M513.3 1777.5h1.4M517.7 1759.7h1.4M513.2 1782.7h1.4M516.2 1782.5h1.4M490.5 1776.4h1.4M512.8 1765.5h1.4M494.7 1771.4h1.4M545.1 1758.5h1.4M521.3 1783.1h1.4M531.9 1787.4h1.4M528.5 1775.6h1.4M530.7 1766.2h1.4M521.4 1778.8h1.4M521.5 1770.3h1.4M539.7 1771.7h1.4M540.8 1763.4h1.4M516.4 1768.1h1.4M536.4 1765.6h1.4M503.1 1765.5h1.4M528.4 1761.5h1.4M516.3 1773.5h1.4M521.2 1783.7h1.4M525.9 1763.5h1.4M536.7 1767.7h1.4M488.5 1767.3h1.4M514.9 1768.4h1.4M498.3 1766.5h1.4M549 1769.5h1.4M531.3 1776.9h1.4M506.3 1763.8h1.4M543.9 1765h1.4M499.3 1767.9h1.4M525.5 1785.4h1.4M527.8 1780.3h1.4M529.9 1767h1.4M518.3 1785.1h1.4M506 1765.9h1.4M521.4 1783.7h1.4M531.6 1763.7h1.4M493.4 1766.9h1.4M548.3 1764.8h1.4M511.6 1762.4h1.4M526.3 1761.4h1.4M529.2 1772h1.4M505.8 1776.2h1.4M547 1770.6h1.4M542.6 1770.5h1.4M513 1771.2h1.4M501.2 1765.7h1.4M503 1768.4h1.4M529.8 1774.8h1.4M539.6 1777.9h1.4M525.1 1763h1.4M531.4 1758.3h1.4M499.1 1748.6h1.4M547.6 1783.5h1.4M533 1779.3h1.4M527.7 1759.2h1.4M534.8 1757.6h1.4M487.4 1770.1h1.4M514.8 1761.4h1.4M530.1 1751.4h1.4M519.6 1778.6h1.4M519.1 1777.2h1.4M518.4 1780.8h1.4M522.9 1769.2h1.4M507.4 1769h1.4M505.9 1760.3h1.4M515.5 1773h1.4M538.8 1758.8h1.4M511.5 1765h1.4M499.4 1775.8h1.4M512.8 1764.3h1.4M538.4 1765.6h1.4M515.4 1760.7h1.4M509.6 1771.3h1.4M514.6 1764.5h1.4M538.6 1764.1h1.4M494.3 1776.2h1.4M510.1 1770.1h1.4M530.2 1754.7h1.4M538.9 1759.5h1.4M526 1772.2h1.4M529.9 1764.3h1.4M518.5 1770.8h1.4M495.3 1764.3h1.4M519.3 1773.8h1.4M537.5 1766.7h1.4M502.4 1776.6h1.4M530.7 1769.9h1.4M494.3 1767.9h1.4M522.3 1775.5h1.4M526.4 1787.3h1.4M518.9 1757.3h1.4M522.4 1771.4h1.4M503.1 1771.9h1.4M531 1770.6h1.4M492.7 1762.7h1.4M522.8 1766.9h1.4M485.8 1771.1h1.4M519.7 1769.7h1.4M512.9 1759.3h1.4M518 1768.1h1.4M510.1 1771.5h1.4M525.5 1775.4h1.4M538.7 1775.1h1.4M520.5 1773h1.4M478.2 1771.2h1.4M508.7 1760.3h1.4M532.2 1775.3h1.4M528.1 1784.4h1.4M521.2 1772.5h1.4M520.5 1764.9h1.4M499.2 1779.6h1.4M532.1 1765.5h1.4M503.5 1775.1h1.4M511.1 1796.4h1.4M512.8 1778.9h1.4M515.9 1763.1h1.4M489 1777h1.4M437.9 1770.4h1.4M432.9 1765.7h1.4M442.1 1768.2h1.4M452.8 1773.3h1.4M453.6 1768.4h1.4M469.7 1784.4h1.4M444 1767.4h1.4M433.8 1773h1.4M459.9 1766.5h1.4M422.8 1765h1.4M458.2 1775.4h1.4M443 1774.8h1.4M435.1 1776.4h1.4M449.3 1779.6h1.4M434.7 1795.5h1.4M463.1 1773.9h1.4M443.9 1771.4h1.4M440.2 1781.2h1.4M440.4 1773.5h1.4M443.4 1771.7h1.4M440.3 1767.4h1.4M450.8 1775.9h1.4M461.7 1775.4h1.4M449.7 1759.5h1.4M430.5 1780.5h1.4M421.6 1791.1h1.4M443.9 1772h1.4M476.3 1782.9h1.4M452.5 1775.7h1.4M478.5 1764h1.4M448.7 1763h1.4M456.6 1769.9h1.4M472.9 1789.8h1.4M426 1783.1h1.4M446.2 1776.1h1.4M465.7 1764.5h1.4M466.2 1781.4h1.4M437.3 1756.7h1.4M423.7 1789.8h1.4M460 1783.6h1.4M466.6 1773.6h1.4M429 1766.5h1.4M445.3 1768.1h1.4M450.5 1767.3h1.4M454.5 1792.8h1.4M445.8 1768.2h1.4M456.1 1767.2h1.4M438.1 1780.5h1.4M462.9 1763.1h1.4M460 1757.9h1.4M458 1779.7h1.4M487.4 1775.2h1.4M448.4 1758.9h1.4M461 1773.4h1.4M462 1785.5h1.4M454.6 1768.1h1.4M449.7 1764.3h1.4M445.1 1758.6h1.4M447.6 1768.6h1.4M474.7 1776.3h1.4M454.3 1791.3h1.4M425.9 1779.2h1.4M457.1 1767.5h1.4M421.3 1755.3h1.4M452.9 1766.5h1.4M461.2 1781.6h1.4M463.2 1788.3h1.4M413.7 1764.9h1.4M465.4 1779.7h1.4M461.9 1770.8h1.4M453.9 1768.7h1.4M436.1 1762.9h1.4M463.2 1761.9h1.4M438.6 1772.1h1.4M430.6 1771.5h1.4M443.7 1748.2h1.4M501 1757h1.4M494.9 1754h1.4M486.3 1760.9h1.4M489 1774.9h1.4M463.2 1774.3h1.4M499.5 1783h1.4M463.8 1772.2h1.4M489.7 1773h1.4M493.7 1761h1.4M492.2 1755.4h1.4M488.7 1760h1.4M489.5 1760.8h1.4M467.2 1765.6h1.4M508.4 1752.5h1.4M506.2 1768.1h1.4M509 1762.6h1.4M490.3 1760.8h1.4M454.4 1759.2h1.4M495.9 1773.6h1.4M477.9 1750.4h1.4M498.3 1775.5h1.4M483.9 1763.3h1.4M486.5 1757h1.4M512.3 1758.6h1.4M494.6 1759.2h1.4M474.3 1759.2h1.4M471.1 1760.4h1.4M472 1780.3h1.4M481.5 1767.1h1.4M494.8 1788.2h1.4M509.9 1768.5h1.4M487.2 1779.8h1.4M479.4 1771.5h1.4M477.5 1775.4h1.4M465.7 1768.1h1.4M517.2 1763.7h1.4M466.5 1755.8h1.4M500.7 1754.8h1.4M477.2 1757.9h1.4M511.1 1762.2h1.4M477.6 1779.3h1.4M468.3 1773.8h1.4M459.7 1762.2h1.4M476 1762h1.4M503.7 1749h1.4M496.9 1765.2h1.4M499.3 1770.8h1.4M471 1766.2h1.4M482 1776.7h1.4M499.8 1771h1.4M460.7 1763.7h1.4M492.2 1774.5h1.4M494.1 1779.8h1.4M492.2 1771h1.4M503.8 1765.2h1.4M474.1 1762h1.4M507.2 1780.5h1.4M463.8 1752.7h1.4M473.4 1744.6h1.4M488.2 1764h1.4M527 1802.9h1.4M497.4 1778.4h1.4M503.8 1781.2h1.4M474 1800.8h1.4M491.8 1789.7h1.4M512.4 1803.1h1.4M526.8 1790h1.4M489.3 1786.7h1.4M523.8 1796.4h1.4M494.9 1792.7h1.4M531.1 1801.2h1.4M519.8 1785.7h1.4M506.8 1787.4h1.4M523.6 1790.4h1.4M545.7 1784.9h1.4M498.2 1797.8h1.4M560.1 1800.5h1.4M516.8 1793.9h1.4M534.8 1787.9h1.4M530.5 1784.6h1.4M479.7 1799.2h1.4M520.2 1793h1.4M530.6 1777.8h1.4M497.5 1793.4h1.4M527.2 1776.8h1.4M500.9 1783.3h1.4M520.7 1784.3h1.4M521.9 1792.2h1.4M498.9 1793.8h1.4M491.8 1784.2h1.4M513.2 1775.9h1.4M527.6 1787h1.4M513.2 1792.4h1.4M509.8 1785.1h1.4M518.6 1799.5h1.4M514.2 1787.3h1.4M535.1 1782.8h1.4" stroke="#4d4d4f" stroke-opacity="0.62" stroke-width="1.4" fill="none"/>
<path d="M514.3 1758.1h1.4M562.6 1773.9h1.4M548.3 1777.2h1.4M510.4 1774.2h1.4M503 1758.6h1.4M540.3 1767h1.4M575.7 1759.3h1.4M522.4 1756.1h1.4M516.4 1774.6h1.4M538.3 1764.1h1.4M522.6 1764.7h1.4M512.4 1780.5h1.4M525.8 1767.2h1.4M533.8 1786h1.4M533.8 1771.2h1.4M533.7 1782.2h1.4M515.1 1760.6h1.4M518 1779.5h1.4M522.2 1776h1.4M517.1 1772.5h1.4M541.4 1782.8h1.4M530.1 1778.1h1.4M517.7 1780.9h1.4M496.2 1778.4h1.4M522.1 1767.5h1.4M540.7 1773.1h1.4M507.6 1774.6h1.4M503.3 1783h1.4M534.4 1751.8h1.4M507.8 1779.2h1.4M518.2 1789.6h1.4M529.4 1768.7h1.4M532.7 1766.5h1.4M515 1773.4h1.4M519 1765.5h1.4M541 1772.1h1.4M507.2 1770h1.4M516.7 1768.6h1.4M546.4 1784.7h1.4M518.1 1776.3h1.4M521.2 1790.9h1.4M519.2 1766.1h1.4M521.8 1771.9h1.4M498.4 1777.9h1.4M515.9 1744.3h1.4M532.8 1772h1.4M503.5 1765.4h1.4M526.3 1766.6h1.4M520 1773.2h1.4M528.8 1782.7h1.4M520.4 1766.2h1.4M524 1757.8h1.4M512.4 1762.2h1.4M505.4 1786.9h1.4M503.3 1771.3h1.4M511.3 1778.8h1.4M509.7 1754.8h1.4M553.8 1782.5h1.4M525.5 1775.4h1.4M505.4 1768h1.4M524.7 1758.3h1.4M510 1763.6h1.4M522.7 1795.4h1.4M515.1 1748.8h1.4M502.1 1766.4h1.4M514.9 1771.8h1.4M525.4 1771.6h1.4M525.2 1781.7h1.4M523.8 1790.9h1.4M496.4 1769.1h1.4M509.3 1763.5h1.4M532.9 1765.2h1.4M509.4 1768.3h1.4M519.9 1761.5h1.4M544.2 1772.7h1.4M531.1 1767h1.4M502.5 1770.7h1.4M496.1 1761.4h1.4M514.6 1774.8h1.4M503 1780.1h1.4M532.7 1776.6h1.4M528.8 1773.7h1.4M534.4 1782.6h1.4M522.1 1761.3h1.4M495.5 1791.3h1.4M525.7 1762.2h1.4M505.3 1763.7h1.4M525.4 1783.9h1.4M511.6 1771.1h1.4M517.3 1779h1.4M515 1778.9h1.4M508.9 1760h1.4M508.4 1783.3h1.4M515.7 1768h1.4M519 1767.3h1.4M508.9 1769.4h1.4M530.5 1773.5h1.4M525.7 1757.9h1.4M563.3 1765.3h1.4M499.1 1756.7h1.4M495.1 1763.4h1.4M503.4 1778.5h1.4M500.1 1765.9h1.4M520.5 1766.8h1.4M527 1772.1h1.4M541.7 1784.6h1.4M524.2 1778h1.4M540.3 1778.7h1.4M488.8 1756.9h1.4M515.8 1768.3h1.4M505 1769.8h1.4M558.8 1771.3h1.4M488.4 1777.6h1.4M508.3 1766.7h1.4M536.9 1773.6h1.4M498.4 1760.5h1.4M535.6 1767.6h1.4M538.2 1761.8h1.4M503 1782.6h1.4M501.7 1768h1.4M521.3 1770.7h1.4M510.6 1768.7h1.4M540.8 1782.5h1.4M525.7 1768.6h1.4M523.2 1777.1h1.4M516.1 1775h1.4M534.2 1781.6h1.4M536 1759h1.4M509.4 1777.4h1.4M526.5 1773.2h1.4M518.3 1779.9h1.4M522.9 1778.3h1.4M525.1 1756.3h1.4M494 1783.1h1.4M526.4 1755.9h1.4M522.2 1787.3h1.4M522.9 1759.6h1.4M511.4 1767.9h1.4M493 1767.4h1.4M505 1765.4h1.4M508.2 1776.8h1.4M503.5 1773.7h1.4M496.7 1780.2h1.4M503.5 1780.7h1.4M532.1 1770.6h1.4M505.1 1774h1.4M514.2 1760h1.4M519.4 1774.8h1.4M532 1784.4h1.4M506.9 1767.5h1.4M504 1766h1.4M497.2 1746h1.4M525.6 1778.6h1.4M527.5 1766.3h1.4M538.4 1760.8h1.4M512.3 1771.6h1.4M527.5 1773h1.4M542.8 1775.1h1.4M492.3 1762.2h1.4M514.7 1772.2h1.4M483.2 1782.1h1.4M532 1776.4h1.4M565.2 1770.8h1.4M527.6 1762.6h1.4M531.5 1764.7h1.4M522.9 1768.5h1.4M520.3 1771.5h1.4M492.4 1774.3h1.4M522.5 1762.1h1.4M519.6 1765.6h1.4M515.5 1750.5h1.4M528.2 1766h1.4M527.6 1773.6h1.4M503.8 1764.6h1.4M480.5 1786.7h1.4M516.6 1770.3h1.4M502.3 1751.4h1.4M548.7 1772.7h1.4M535.1 1769.9h1.4M534.2 1767.4h1.4M513.6 1782.1h1.4M526.2 1773.6h1.4M499.9 1775.7h1.4M516.9 1771.7h1.4M504.7 1773.1h1.4M528.7 1760.3h1.4M440.5 1761.9h1.4M457.6 1781h1.4M456 1779h1.4M440.9 1794.2h1.4M479.6 1785.9h1.4M447.2 1774.9h1.4M449.7 1750.9h1.4M456 1763.6h1.4M426.2 1772.8h1.4M454.6 1775.3h1.4M436 1791.4h1.4M441.5 1778.1h1.4M433.1 1775h1.4M459.2 1776.7h1.4M463.3 1762.8h1.4M460.1 1753.1h1.4M444.5 1774.6h1.4M454.1 1760.3h1.4M428.9 1768.9h1.4M452.4 1755.1h1.4M458.3 1781.3h1.4M456.2 1791h1.4M447.5 1764.7h1.4M416.1 1773.1h1.4M458.2 1764.2h1.4M428.2 1788h1.4M467.3 1758.9h1.4M443.2 1789h1.4M431.7 1769h1.4M438.6 1764h1.4M458 1773.5h1.4M442.5 1784.4h1.4M466 1792.6h1.4M434 1770.7h1.4M448.2 1774.1h1.4M440.9 1771.8h1.4M449.8 1756.9h1.4M454.2 1793.8h1.4M446.6 1769h1.4M430.9 1765.4h1.4M442.6 1760.8h1.4M436.6 1762.7h1.4M422.1 1780.7h1.4M436.9 1782.7h1.4M434.2 1785h1.4M438.2 1770.1h1.4M436.5 1755h1.4M434.9 1780.5h1.4M452.2 1763.5h1.4M459.6 1777.9h1.4M475.3 1759.9h1.4M445.6 1788.7h1.4M410.1 1767.8h1.4M430.4 1770h1.4M446.9 1776.4h1.4M453.7 1769.8h1.4M415.5 1762.9h1.4M443 1803.3h1.4M421.8 1775h1.4M450 1785.2h1.4M470.6 1775.8h1.4M462.1 1767.6h1.4M467.7 1783.1h1.4M410.1 1785.1h1.4M462 1782.5h1.4M442.3 1762.7h1.4M434.9 1794.9h1.4M414 1785h1.4M445.5 1767.7h1.4M425.2 1761.1h1.4M460.6 1754.1h1.4M431.9 1778.1h1.4M476.5 1772.5h1.4M461.3 1783.1h1.4M439.1 1782.1h1.4M441.6 1771.6h1.4M463.6 1765.5h1.4M493.1 1777.8h1.4M505.7 1777.9h1.4M502.3 1778.8h1.4M489.5 1777.2h1.4M486 1754.9h1.4M477.2 1775.3h1.4M487.4 1773.5h1.4M507.1 1768h1.4M497.7 1778.4h1.4M491.1 1779.3h1.4M515.5 1765.9h1.4M471.3 1765.7h1.4M474.7 1752.8h1.4M487 1788.6h1.4M477 1766h1.4M487.7 1778.2h1.4M475.5 1762.4h1.4M487.6 1778.3h1.4M483.8 1765.8h1.4M492.4 1763.8h1.4M511.4 1753.5h1.4M479.4 1763h1.4M484.6 1788.8h1.4M483.2 1760.9h1.4M483.5 1767.2h1.4M486.2 1756.3h1.4M478.1 1764.8h1.4M499.6 1767.4h1.4M526.9 1776h1.4M492.1 1776.7h1.4M493.2 1760.2h1.4M477.9 1766.2h1.4M483.5 1760.5h1.4M495.9 1767.7h1.4M486.2 1760.6h1.4M482.2 1775.5h1.4M536.9 1765.9h1.4M489.8 1766h1.4M447.8 1775.7h1.4M494.9 1764.2h1.4M481.3 1753.4h1.4M497.2 1786.7h1.4M487 1770.2h1.4M490.1 1771.6h1.4M477.4 1764.7h1.4M487.3 1778.4h1.4M507.2 1769.8h1.4M444.7 1770.2h1.4M484.8 1775.7h1.4M489.3 1768.9h1.4M495.5 1758.2h1.4M507.7 1771.1h1.4M452.6 1769.8h1.4M499 1769.9h1.4M485.9 1754.7h1.4M472.3 1763.9h1.4M471.7 1770.9h1.4M492.6 1763.1h1.4M485 1767.4h1.4M475.2 1750.5h1.4M513.9 1777.2h1.4M518.8 1793.9h1.4M495 1790.1h1.4M501 1788.2h1.4M513.2 1795.2h1.4M492.3 1791h1.4M520.5 1791h1.4M503.7 1787.4h1.4M477.5 1791.9h1.4M534.8 1795.9h1.4M536 1790h1.4M528.6 1784.4h1.4M482.4 1794.3h1.4M504.7 1802.4h1.4M517.6 1783.6h1.4M530.9 1783.1h1.4M507 1787.2h1.4M517.4 1779.2h1.4M513.8 1787.9h1.4M518.4 1772.1h1.4M523.7 1784.1h1.4M511.6 1783.7h1.4M501 1779.3h1.4M519.7 1803.7h1.4M501.7 1786.8h1.4M533.3 1791.8h1.4M511.7 1777.5h1.4M521.9 1802.7h1.4M533.3 1794.2h1.4M486.5 1786.4h1.4M527.9 1794.1h1.4M529.9 1790.2h1.4M528.7 1790.6h1.4M519.2 1790.1h1.4M535.5 1785h1.4M505.5 1779.7h1.4M524 1786.3h1.4" stroke="#4d4d4f" stroke-opacity="0.62" stroke-width="1.4" fill="none"/>
<rect x="389.2" y="1626.7" width="241.4" height="241.7" fill="none" stroke="#808285" stroke-width="1.3"/>
<path d="M389.2 1626.7V1868.4H630.6" fill="none" stroke="#58595b" stroke-width="1.5"/>
<path d="M392.1 1628.1V1780.1" stroke="#808285" stroke-width="1.4"/>
<path d="M391.4 1780.1H626.8V1628.1" fill="none" stroke="#58595b" stroke-width="1.6"/>
<path d="M388.6 1627.4H631.2" stroke="#636466" stroke-width="2"/>
<path d="M382.2 1650.5H389.2M382.2 1708H389.2M382.2 1773.4H389.2M382.2 1853H389.2" stroke="#231f20" stroke-width="2.4" fill="none"/>
<path d="M385.9 1690.7H389.2M385.9 1680.6H389.2M385.9 1673.4H389.2M384.2 1667.8H389.2M385.9 1663.3H389.2M385.9 1659.4H389.2M385.9 1656.1H389.2M385.9 1653.1H389.2M385.9 1753.7H389.2M385.9 1742.2H389.2M385.9 1734H389.2M384.2 1727.7H389.2M385.9 1722.5H389.2M385.9 1718.1H389.2M385.9 1714.3H389.2M385.9 1711H389.2M385.9 1633.2H389.2M385.9 1776.7H389.2M385.9 1779.1H389.2M385.9 1781.5H389.2M385.9 1784H389.2M385.9 1786.8H389.2M385.9 1789.4H389.2M384.2 1791.9H389.2M385.9 1795.1H389.2M385.9 1798.1H389.2M385.9 1801H389.2M385.9 1805H389.2M385.9 1823.2H389.2M385.9 1826.5H389.2M385.9 1829.6H389.2M385.9 1832.4H389.2M384.2 1835.8H389.2M385.9 1838.9H389.2M385.9 1842H389.2M385.9 1844.4H389.2M385.9 1846.8H389.2M385.9 1849.2H389.2" stroke="#231f20" stroke-width="1.5" fill="none"/>
<path d="M389.2 1808.3L385.7 1808.3L382.9 1809.3L385 1810.7L382.4 1812.7L384 1814.2L382.2 1815.7L384.6 1816.9L382.6 1818.7L386.2 1819.7L389.2 1819.7Z" fill="#231f20"/>
<path d="M389.4 1868.4V1874.8M435 1868.4V1874.8M480.6 1868.4V1874.8M526.2 1868.4V1874.8M571.8 1868.4V1874.8M617.4 1868.4V1874.8" stroke="#231f20" stroke-width="2" fill="none"/>
<path d="M398.5 1868.4V1872M407.6 1868.4V1872M416.8 1868.4V1872M425.9 1868.4V1872M444.1 1868.4V1872M453.2 1868.4V1872M462.4 1868.4V1872M471.5 1868.4V1872M489.7 1868.4V1872M498.8 1868.4V1872M508 1868.4V1872M517.1 1868.4V1872M535.3 1868.4V1872M544.4 1868.4V1872M553.6 1868.4V1872M562.7 1868.4V1872M580.9 1868.4V1872M590 1868.4V1872M599.2 1868.4V1872M608.3 1868.4V1872M626.5 1868.4V1872" stroke="#231f20" stroke-width="1.4" fill="none"/>
<text x="390" y="1886" font-size="10.5" text-anchor="middle" font-weight="normal" fill="#231f20" stroke="#231f20" stroke-width="0.75">0</text>
<text x="435.1" y="1886" font-size="10.5" text-anchor="middle" font-weight="normal" fill="#231f20" stroke="#231f20" stroke-width="0.75">50K</text>
<text x="480.5" y="1886" font-size="10.5" text-anchor="middle" font-weight="normal" fill="#231f20" stroke="#231f20" stroke-width="0.75">100K</text>
<text x="526.4" y="1886" font-size="10.5" text-anchor="middle" font-weight="normal" fill="#231f20" stroke="#231f20" stroke-width="0.75">150K</text>
<text x="572.3" y="1886" font-size="10.5" text-anchor="middle" font-weight="normal" fill="#231f20" stroke="#231f20" stroke-width="0.75">200K</text>
<text x="618" y="1886" font-size="10.5" text-anchor="middle" font-weight="normal" fill="#231f20" stroke="#231f20" stroke-width="0.75">250K</text>
<text x="377.5" y="1656.3" font-size="10.2" text-anchor="end" font-weight="normal" fill="#231f20" stroke="#231f20" stroke-width="0.75">10<tspan dy="-3.8" font-size="8.4">5</tspan></text>
<text x="377.5" y="1714" font-size="10.2" text-anchor="end" font-weight="normal" fill="#231f20" stroke="#231f20" stroke-width="0.75">10<tspan dy="-3.8" font-size="8.4">4</tspan></text>
<text x="377.5" y="1777.6" font-size="10.2" text-anchor="end" font-weight="normal" fill="#231f20" stroke="#231f20" stroke-width="0.75">10<tspan dy="-3.8" font-size="8.4">3</tspan></text>
<text x="377.5" y="1817.1" font-size="10.2" text-anchor="end" font-weight="normal" fill="#231f20" stroke="#231f20" stroke-width="0.75">0</text>
<text x="377.5" y="1860" font-size="10.2" text-anchor="end" font-weight="normal" fill="#231f20" stroke="#231f20" stroke-width="0.75">–10<tspan dy="-3.8" font-size="8.4">3</tspan></text>
<text x="621.4" y="1648.6" font-size="10.5" text-anchor="end" font-weight="normal" fill="#231f20" stroke="#231f20" stroke-width="0.75">76,0</text>
<text x="508.8" y="1611.9" font-size="20.7" text-anchor="middle" font-weight="bold" fill="#231f20">LR 1:1</text>
<rect x="872" y="1804.4" width="36.4" height="72.5" fill="#ffffff" stroke="#414042" stroke-width="2.8"/>
<rect x="929.7" y="1769.7" width="36.1" height="107.2" fill="#e1e2e3" stroke="#414042" stroke-width="2.8"/>
<rect x="987.1" y="1744.1" width="36.1" height="132.8" fill="#bdbec0" stroke="#414042" stroke-width="2.8"/>
<path d="M851.8 1586.1V1876.9M839.9 1876.9H1044.5M839.9 1587.5H851.8M839.9 1645.2H851.8M839.9 1703.2H851.8M839.9 1760.9H851.8M839.9 1818.6H851.8M889.9 1876.9V1888.8M947.3 1876.9V1888.8M1005 1876.9V1888.8M889.9 1672.2V1601.4H1005.3V1617.3" stroke="#414042" stroke-width="2.8" fill="none"/>
<path d="M1045.8 1876.9H1049.5" stroke="#231f20" stroke-width="2.8"/>
<g fill="#fff" stroke="#414042" stroke-width="2.8"><circle cx="889.9" cy="1690.7" r="7.3"/><circle cx="889.9" cy="1769.7" r="7.3"/><circle cx="889.9" cy="1799.3" r="7.3"/><circle cx="889.9" cy="1815.2" r="7.3"/><circle cx="877.4" cy="1822" r="7.3"/><circle cx="902.4" cy="1822.9" r="7.3"/><circle cx="896.2" cy="1847.6" r="7.3"/><circle cx="883.9" cy="1855.6" r="7.3"/><circle cx="947.3" cy="1674.2" r="7.3"/><circle cx="947.3" cy="1724.2" r="7.3"/><circle cx="947.3" cy="1746.7" r="7.3"/><circle cx="947.3" cy="1767.4" r="7.3"/><circle cx="959.8" cy="1783.9" r="7.3"/><circle cx="935.4" cy="1795.9" r="7.3"/><circle cx="947.3" cy="1816.3" r="7.3"/><circle cx="947.3" cy="1845.9" r="7.3"/><circle cx="993.4" cy="1645.2" r="7.3"/><circle cx="1017.6" cy="1635.8" r="7.3"/><circle cx="1005.3" cy="1719.1" r="7.3"/><circle cx="1005.3" cy="1736.7" r="7.3"/><circle cx="1005.3" cy="1753.2" r="7.3"/><circle cx="1005.3" cy="1776.5" r="7.3"/><circle cx="1005.3" cy="1830.5" r="7.3"/><circle cx="1005.3" cy="1848.5" r="7.3"/></g>
<text x="828.7" y="1596.3" font-size="20.7" text-anchor="end" font-weight="bold" fill="#231f20">100</text>
<text x="828.7" y="1654" font-size="20.7" text-anchor="end" font-weight="bold" fill="#231f20">80</text>
<text x="828.7" y="1712" font-size="20.7" text-anchor="end" font-weight="bold" fill="#231f20">60</text>
<text x="828.7" y="1769.7" font-size="20.7" text-anchor="end" font-weight="bold" fill="#231f20">40</text>
<text x="828.7" y="1827.4" font-size="20.7" text-anchor="end" font-weight="bold" fill="#231f20">20</text>
<text x="828.7" y="1885.7" font-size="20.7" text-anchor="end" font-weight="bold" fill="#231f20">0</text>
<path d="M947.9 1571.1L947.9 1585.7M941.6 1574.8L954.2 1582.1M954.2 1574.8L941.6 1582.1" stroke="#414042" stroke-width="2.6" fill="none"/>
<text x="738.3" y="1727.6" font-size="20.7" text-anchor="middle" font-weight="bold" fill="#231f20" transform="rotate(-90 738.3 1727.6)">TLR4 expressing cells</text>
<text x="764.3" y="1724" font-size="20.7" text-anchor="middle" font-weight="bold" fill="#231f20" transform="rotate(-90 764.3 1724)">[% of monocytes]</text>
<text x="898.6" y="1911.1" font-size="20.7" text-anchor="end" font-weight="bold" fill="#231f20" transform="rotate(-45 898.6 1911.1)">ctrl</text>
<text x="953.1" y="1909.1" font-size="20.7" text-anchor="end" font-weight="bold" fill="#231f20" transform="rotate(-45 953.1 1909.1)">LR MOI 1:0:1</text>
<text x="1015.4" y="1911.1" font-size="20.7" text-anchor="end" font-weight="bold" fill="#231f20" transform="rotate(-45 1015.4 1911.1)">LR MOI 1:1</text>
<path d="M53.2 2091.9V2361.8H672.6" stroke="#231f20" stroke-width="1.9" fill="none"/>
<path d="M53.2 2076.9L42.4 2098.1L64 2098.1Z" fill="#231f20"/>
<path d="M687.6 2361.8L665.8 2351L665.8 2372.6Z" fill="#231f20"/>
<text x="38" y="2193.4" font-size="20.7" text-anchor="middle" font-weight="bold" fill="#231f20" transform="rotate(-90 38 2193.4)">PD-L1</text>
<text x="347.4" y="2389.7" font-size="20.7" text-anchor="start" font-weight="bold" fill="#231f20">FSC</text>
<path d="M238.6 2249.1h1.4M231.3 2224.8h1.4M226.4 2245.1h1.4M225.1 2254.7h1.4M267.2 2276h1.4M243.1 2255.7h1.4M224.9 2268.9h1.4M250.3 2267.4h1.4M231 2284.6h1.4M191.4 2236.8h1.4M253.6 2270.8h1.4M273.3 2272.7h1.4M226.8 2259.3h1.4M221.9 2259.2h1.4M212.5 2254.8h1.4M226.1 2256.1h1.4M182 2264.5h1.4M269.1 2254.1h1.4M257 2258.5h1.4M216.4 2237.8h1.4M235.9 2268.2h1.4M253.7 2299.3h1.4M236 2279h1.4M212.7 2264.9h1.4M225.5 2269.5h1.4M240 2269.7h1.4M247.3 2247.8h1.4M239.1 2261h1.4M217.8 2268.1h1.4M222.7 2284.8h1.4M239.7 2229.6h1.4M250.9 2275.1h1.4M227.9 2274.9h1.4M243.5 2234.8h1.4M227.8 2275.9h1.4M237.7 2269.8h1.4M242.1 2270.8h1.4M230.4 2273.1h1.4M252.2 2222.8h1.4M217 2253.6h1.4M220 2271.1h1.4M220.5 2264.5h1.4M278.8 2235.8h1.4M213 2257h1.4M252 2252.1h1.4M232.2 2275.6h1.4M226.1 2255.3h1.4M234.1 2239.2h1.4M232.1 2210.8h1.4M225.5 2250.4h1.4M231.1 2263.2h1.4M238.9 2280.4h1.4M232.1 2266.4h1.4M254.5 2253.2h1.4M195.8 2280.3h1.4M231.5 2258.8h1.4M254.7 2245.8h1.4M227.3 2268.4h1.4M245.6 2242.7h1.4M233.2 2264.1h1.4M203 2234.1h1.4M260.1 2256.6h1.4M244.6 2256.7h1.4M245.3 2260.1h1.4M247.1 2266.7h1.4M235.5 2251.6h1.4M208.8 2248.1h1.4M256.7 2271.4h1.4M241.1 2244.3h1.4M221.3 2246.4h1.4M226.1 2291.2h1.4M224.3 2257.3h1.4M248.6 2277.3h1.4M235.5 2266.9h1.4M249 2236.2h1.4M243.3 2241.1h1.4M250.7 2220.9h1.4M228.8 2240.1h1.4M230.5 2253.6h1.4M237.9 2257.1h1.4M221.9 2265.2h1.4M264.9 2260.5h1.4M230.9 2256.8h1.4M214.4 2221.2h1.4M254.2 2260.1h1.4M250.1 2285.5h1.4M202.6 2249.3h1.4M230.5 2267.9h1.4M240.5 2248.7h1.4M247.3 2260.5h1.4M236.5 2268.9h1.4M216.7 2239.2h1.4M236.3 2248.2h1.4M253.9 2229.1h1.4M224.1 2245.7h1.4M225.3 2249.4h1.4M239.8 2262h1.4M221.3 2252.4h1.4M209.5 2264.4h1.4M238.4 2262.7h1.4M244.1 2257.2h1.4M248 2250.1h1.4M217.2 2237.2h1.4M233 2257.6h1.4M217.5 2259.6h1.4M240.3 2270.1h1.4M215.9 2276.5h1.4M257.1 2239.2h1.4M250.2 2263.8h1.4M231.9 2255.8h1.4M239.6 2273.7h1.4M233 2251.4h1.4M244.3 2275.2h1.4M253.4 2272.7h1.4M242 2276.4h1.4M255.2 2273.7h1.4M222.3 2270.5h1.4M236.3 2270h1.4M227.9 2257h1.4M247.6 2274.4h1.4M237.1 2270.7h1.4M259.7 2278.6h1.4M268 2224.8h1.4M260.8 2268.4h1.4M199.3 2265h1.4M225.1 2285.1h1.4M251.6 2244.4h1.4M255.8 2283.9h1.4M222.8 2270.3h1.4M249 2276.6h1.4M236 2253.3h1.4M249.3 2238.2h1.4M264.3 2236.3h1.4M195.5 2255.2h1.4M242.5 2251.8h1.4M236 2283.3h1.4M240.3 2250.4h1.4M210.3 2256.2h1.4M249.7 2250.4h1.4M236.4 2254.3h1.4M212.3 2282.3h1.4M172.6 2260.8h1.4M245.4 2246.8h1.4M199.9 2256.1h1.4M217.1 2289.5h1.4M219.4 2270.8h1.4M197.1 2289.7h1.4M213.8 2285.7h1.4M257.2 2269.8h1.4M263.4 2250.2h1.4M222.1 2263h1.4M236.5 2270.4h1.4M249.1 2254.3h1.4M228.8 2264.2h1.4M237.7 2270h1.4M202 2242.7h1.4M233.4 2235.7h1.4M252.9 2251.7h1.4M220.2 2259.6h1.4M187.8 2255.9h1.4M213.9 2264h1.4M266.4 2254.4h1.4M259.6 2261.3h1.4M259.4 2226.4h1.4M212.5 2273.6h1.4M245.2 2289.2h1.4M231 2263h1.4M235.3 2271.2h1.4M246.2 2278.3h1.4M239.1 2257.4h1.4M257.1 2276.5h1.4M230 2287.8h1.4M237.6 2252.1h1.4M208.6 2269.1h1.4M272.2 2238.8h1.4M228.7 2276.3h1.4M260.8 2264.4h1.4M218.2 2262.6h1.4M245.3 2283.4h1.4M231.9 2284.3h1.4M236.7 2239.9h1.4M218.4 2201.9h1.4M206.2 2181.9h1.4M184.2 2172.1h1.4M238.2 2195.2h1.4M244.1 2175.8h1.4M237.4 2192.6h1.4M201 2175.8h1.4M229 2190.6h1.4M241.1 2174.5h1.4M244.5 2178.3h1.4M213.2 2181.3h1.4M229.4 2213.5h1.4M225.2 2214.5h1.4M227.9 2194.3h1.4M234.9 2192.6h1.4M220 2168.1h1.4M236.2 2224h1.4M209.7 2217.6h1.4M208.1 2189.3h1.4M251.8 2188.1h1.4M213.2 2210.4h1.4M233.3 2177.9h1.4M231 2189.5h1.4M225.6 2186.9h1.4M228 2179.6h1.4M205.4 2204.9h1.4M258.5 2207h1.4M220.4 2203.7h1.4M236.7 2194.9h1.4M237.5 2186h1.4M239 2214.8h1.4M219.2 2213.2h1.4M215.3 2164.7h1.4M226.2 2204.1h1.4M191.7 2210.2h1.4M229.9 2209.8h1.4M264 2216.9h1.4M224.4 2164.8h1.4M217.5 2210.6h1.4M259.9 2209.8h1.4M223.1 2184.4h1.4M170.8 2138.5h1.4M246 2215.6h1.4M223.8 2211.8h1.4M232.4 2198.4h1.4M234.3 2222.7h1.4M214.6 2190.7h1.4M240.3 2167.4h1.4M212 2180.9h1.4M264.7 2202.5h1.4M213 2185.5h1.4M217.3 2168.8h1.4M218 2185.4h1.4M242.1 2192.9h1.4M232.2 2222h1.4M211.5 2169.3h1.4M202.2 2219.9h1.4M228.3 2206h1.4M234.1 2166.6h1.4M218.1 2183.6h1.4M250.5 2222h1.4M231.9 2198.6h1.4M199 2163.4h1.4M232.2 2207.1h1.4M217.2 2196.8h1.4M180.9 2171.2h1.4M247.6 2198.8h1.4M214.1 2179.6h1.4M225.3 2169.6h1.4M232.6 2190.3h1.4M234.2 2179.3h1.4M228.1 2212.6h1.4M220 2179.1h1.4M236.6 2193.5h1.4M221.9 2193.7h1.4M223.4 2189.2h1.4M217 2181.6h1.4M222.6 2222.2h1.4M212.9 2186.4h1.4M216.7 2204.1h1.4M225.9 2179.8h1.4M214.6 2172.9h1.4M207.2 2170.2h1.4M203.2 2195.9h1.4M212.4 2196.7h1.4M233.5 2205.5h1.4M184 2218.1h1.4M227.6 2211.9h1.4M234.9 2210.5h1.4M228.1 2226.2h1.4M217.7 2164.3h1.4M185.3 2171.1h1.4M224.9 2210.7h1.4M216.1 2198.8h1.4M213.8 2157.5h1.4M200.2 2191.3h1.4M221.8 2227.7h1.4M218.3 2191.5h1.4M196 2172h1.4M211.4 2168.2h1.4M225 2216.9h1.4M225.4 2227.1h1.4M226.5 2165.3h1.4M177.3 2166.4h1.4M245.2 2186.2h1.4M214.4 2189.7h1.4M183.4 2260.1h1.4M160.7 2261.4h1.4M167.1 2264h1.4M199.3 2267.5h1.4M137.5 2262.3h1.4M186.7 2201.1h1.4M179.8 2209.3h1.4M145.8 2246.4h1.4M178.7 2218.2h1.4M215.6 2261.1h1.4M182.3 2249.3h1.4" stroke="#4d4d4f" stroke-opacity="0.62" stroke-width="1.4" fill="none"/>
<path d="M229.7 2259.1h1.4M244.9 2260.2h1.4M225.9 2254.5h1.4M239.2 2268.8h1.4M206.5 2235h1.4M205.3 2263.8h1.4M232.5 2244.3h1.4M216.1 2263.6h1.4M206.3 2258.1h1.4M224 2262.6h1.4M246.4 2246.2h1.4M246.5 2275.1h1.4M271.8 2230h1.4M227.2 2263.1h1.4M208.9 2270.2h1.4M254.4 2262.2h1.4M226.3 2239.8h1.4M268 2281.1h1.4M236.3 2256.8h1.4M228.2 2287.1h1.4M257.8 2265.3h1.4M222.3 2230h1.4M234.7 2240.8h1.4M210.6 2255.3h1.4M257.6 2257.8h1.4M244.4 2282.3h1.4M222.6 2259h1.4M225.9 2236.3h1.4M240.6 2261.7h1.4M218.1 2255.4h1.4M182.6 2270.5h1.4M195.9 2258.1h1.4M228.7 2242.7h1.4M251.5 2236h1.4M253.7 2280.2h1.4M226.3 2277.1h1.4M220.4 2254.4h1.4M210.9 2309.1h1.4M228.8 2282.7h1.4M237.6 2232.6h1.4M296.6 2265.7h1.4M260.8 2263.4h1.4M244 2268.7h1.4M235.2 2242.3h1.4M220.8 2249.6h1.4M274.7 2278h1.4M211.4 2254.6h1.4M202.5 2253.2h1.4M224.4 2249.3h1.4M282.3 2271h1.4M226 2260.1h1.4M237.3 2245.6h1.4M252.7 2251.8h1.4M239.4 2281.1h1.4M244.9 2262.3h1.4M253.1 2242.2h1.4M239.5 2278.8h1.4M208 2238.7h1.4M200.2 2248.7h1.4M216.2 2276.8h1.4M183.6 2257.6h1.4M228.5 2267.2h1.4M227.3 2272.7h1.4M228.6 2258.4h1.4M260 2279.5h1.4M284.7 2257.1h1.4M226.3 2245.6h1.4M234 2260.9h1.4M237.1 2257.6h1.4M241.7 2266h1.4M199.9 2278.5h1.4M212.1 2239.7h1.4M171.5 2237.3h1.4M246.9 2273.6h1.4M231.1 2242.3h1.4M231.5 2261.1h1.4M258.1 2253.2h1.4M209.7 2261.5h1.4M262.8 2253.8h1.4M238.9 2253.7h1.4M235.1 2256.7h1.4M222.9 2256.2h1.4M236.5 2266.5h1.4M248 2277.3h1.4M231.4 2237.5h1.4M225.1 2266.2h1.4M207.7 2255.9h1.4M216.8 2273.9h1.4M204.9 2270.2h1.4M233.5 2275.4h1.4M237.1 2263.4h1.4M253.7 2251.1h1.4M286.7 2245.4h1.4M238.1 2273.7h1.4M227.2 2253.7h1.4M248.8 2259.5h1.4M236.5 2257.5h1.4M227.3 2269.1h1.4M230.3 2256.3h1.4M208 2259.2h1.4M219 2246.9h1.4M251.3 2258.7h1.4M256.6 2233.4h1.4M225.7 2228.1h1.4M251.2 2249.9h1.4M277.6 2274h1.4M223.9 2251.5h1.4M238.4 2252.9h1.4M216.1 2240.8h1.4M242.4 2260.9h1.4M212.6 2261.7h1.4M227.6 2274.8h1.4M229.1 2262.7h1.4M236.5 2256.9h1.4M269.5 2266.5h1.4M258 2270.9h1.4M253.1 2249.5h1.4M245.4 2249.9h1.4M214.4 2273.1h1.4M224.4 2255.7h1.4M236.3 2273.7h1.4M221.8 2287.2h1.4M206.2 2271.7h1.4M212 2251.7h1.4M227.8 2235.8h1.4M243.5 2272.8h1.4M228.2 2273.9h1.4M224 2249.6h1.4M244.4 2262.7h1.4M286.7 2277.7h1.4M239.3 2265.3h1.4M249.2 2261.8h1.4M219.5 2271.1h1.4M238.5 2271.6h1.4M221.6 2290.4h1.4M223.5 2269.3h1.4M233.4 2255.8h1.4M233.1 2248.4h1.4M227.8 2276.5h1.4M236.4 2245.9h1.4M222.4 2230.6h1.4M251.2 2266.9h1.4M237.7 2284.3h1.4M212 2273.2h1.4M214.1 2263.7h1.4M252.4 2274.6h1.4M236.1 2254.9h1.4M230.6 2235.7h1.4M219 2275.6h1.4M253 2275.6h1.4M243 2258.4h1.4M243.8 2261h1.4M264.2 2261.4h1.4M235.3 2252.5h1.4M257.2 2257.1h1.4M253.4 2270.2h1.4M243.6 2256.6h1.4M253.2 2247.2h1.4M243.5 2267.9h1.4M199.3 2256.1h1.4M229.8 2285.5h1.4M235 2247h1.4M222.3 2250.4h1.4M196 2282.9h1.4M249.1 2264.4h1.4M254.9 2252.1h1.4M224.3 2271.8h1.4M213.7 2285.7h1.4M248.5 2265.6h1.4M229.7 2298.1h1.4M257.6 2243.1h1.4M239.5 2265.1h1.4M234.8 2255h1.4M239.6 2247.8h1.4M266.4 2249.9h1.4M250.2 2258h1.4M230.2 2266.7h1.4M221.5 2281.9h1.4M230.2 2248.3h1.4M239.9 2235.7h1.4M226.4 2190.8h1.4M266.5 2217.4h1.4M217.3 2181.8h1.4M249.2 2215.9h1.4M232.8 2219.5h1.4M206.6 2203.1h1.4M227.7 2163.7h1.4M201.6 2196.4h1.4M238.5 2161.5h1.4M244.6 2181h1.4M227.9 2220.9h1.4M210.9 2184.9h1.4M240.5 2210.5h1.4M214.1 2214.9h1.4M232.7 2167.2h1.4M205.1 2194h1.4M202.6 2241.1h1.4M231.7 2202.5h1.4M221.2 2186h1.4M222.2 2215.2h1.4M244.8 2196.2h1.4M196.2 2172.4h1.4M203.5 2221.1h1.4M213 2186.2h1.4M203.2 2172.6h1.4M230.8 2220.5h1.4M233.7 2220.7h1.4M206.6 2218.7h1.4M219.4 2211.1h1.4M227.3 2183.1h1.4M232.8 2174.1h1.4M196.6 2180.7h1.4M254.2 2185.8h1.4M220.9 2199.2h1.4M240 2171.8h1.4M196.7 2169.8h1.4M207.1 2146.4h1.4M238.9 2209.5h1.4M209.1 2171.3h1.4M209.4 2207.4h1.4M188.1 2146.8h1.4M223.7 2177.9h1.4M238.7 2238h1.4M227 2184.5h1.4M250.4 2220.2h1.4M216.6 2188.4h1.4M189.3 2185.7h1.4M203.2 2163.1h1.4M222.1 2208.5h1.4M253.9 2176.5h1.4M263.2 2157.6h1.4M196.3 2174.1h1.4M214.8 2208h1.4M207.2 2203.4h1.4M237.9 2229.5h1.4M220.5 2207.6h1.4M230.2 2178.5h1.4M218.3 2191.7h1.4M202.3 2176h1.4M193 2216.8h1.4M208.8 2153.4h1.4M204.3 2193.9h1.4M223.6 2167.7h1.4M226 2177.5h1.4M192.7 2204.8h1.4M223 2192.3h1.4M244.1 2220.5h1.4M218.3 2181.6h1.4M245.4 2168.9h1.4M218.5 2214.1h1.4M237.4 2217.1h1.4M212.9 2211.2h1.4M222.1 2182.3h1.4M213.7 2166.4h1.4M236.5 2251.5h1.4M223.6 2179.5h1.4M221.9 2226.9h1.4M235.1 2203.7h1.4M245.1 2174h1.4M186.6 2188.7h1.4M231.4 2198.1h1.4M203.9 2209.1h1.4M233.2 2175.3h1.4M236.9 2212.2h1.4M212.4 2202.4h1.4M213.7 2153.8h1.4M240.4 2193.9h1.4M220.3 2186.5h1.4M232.7 2181.3h1.4M233.8 2244.5h1.4M258.5 2223.3h1.4M234.7 2209.7h1.4M186.4 2172.9h1.4M214.4 2180.6h1.4M216.2 2183.7h1.4M230.5 2156.8h1.4M225.4 2192.6h1.4M234.8 2197.9h1.4M238.4 2193.5h1.4M229.2 2172h1.4M217.1 2167.5h1.4M175.6 2160.5h1.4M224.3 2196.4h1.4M228.8 2203.6h1.4M211.8 2192.7h1.4M226.1 2178.6h1.4M196.9 2201.6h1.4M169.3 2240.4h1.4M139 2285.1h1.4M175.9 2267.4h1.4M228 2232.1h1.4M174.1 2293.3h1.4M194.6 2224.5h1.4M185.2 2254.5h1.4M153.4 2295.4h1.4M167.2 2246.5h1.4M141.6 2239h1.4M195.2 2245.4h1.4" stroke="#4d4d4f" stroke-opacity="0.62" stroke-width="1.4" fill="none"/>
<path d="M192.4 2263.9h1.4M237.2 2265.9h1.4M272.2 2287.4h1.4M221.5 2246.1h1.4M219.1 2263.8h1.4M244 2260.6h1.4M235.1 2241.7h1.4M255.3 2229.3h1.4M208.5 2259.6h1.4M240.1 2266.8h1.4M230.7 2307.2h1.4M226.4 2289.3h1.4M239.8 2235.2h1.4M219.9 2259h1.4M210.5 2270.8h1.4M199.9 2267.9h1.4M234.9 2256h1.4M222.6 2248.4h1.4M211.9 2255h1.4M262.3 2259.6h1.4M224.9 2254.7h1.4M248 2259.4h1.4M198.3 2259.9h1.4M207.1 2255.1h1.4M218 2289.8h1.4M251.6 2270.7h1.4M235.2 2260.9h1.4M248.5 2269.4h1.4M200.5 2242.6h1.4M213.6 2253.2h1.4M234.2 2251.6h1.4M253.4 2250.6h1.4M221.2 2240.7h1.4M234.3 2238.6h1.4M231.9 2262.2h1.4M239.4 2277.8h1.4M210.3 2256.2h1.4M231.3 2279.5h1.4M189.9 2272.1h1.4M237 2250.9h1.4M243.5 2259.8h1.4M249.5 2257.2h1.4M238.3 2243.8h1.4M214.2 2268.9h1.4M278 2267.8h1.4M207.7 2259.2h1.4M213.8 2265.5h1.4M245 2267.9h1.4M227.2 2242.1h1.4M229.8 2259.7h1.4M251.8 2272.9h1.4M201.7 2249.9h1.4M218.7 2272h1.4M239.1 2259.6h1.4M224.9 2241.6h1.4M259.3 2260.9h1.4M235.3 2238.3h1.4M237.5 2246.1h1.4M260.2 2247.4h1.4M236.5 2267.1h1.4M229.2 2271.3h1.4M260.9 2248.1h1.4M219.1 2244.4h1.4M242.3 2254.9h1.4M248.8 2257.4h1.4M243.4 2280.9h1.4M210.5 2252.7h1.4M203.5 2271h1.4M224.1 2245.7h1.4M239.2 2257.8h1.4M239.8 2261.6h1.4M231.4 2235.7h1.4M238.4 2263.7h1.4M265.7 2261h1.4M258.6 2295.6h1.4M237.1 2277h1.4M223.5 2281.9h1.4M249.9 2283.2h1.4M259.8 2264.2h1.4M221.4 2258.6h1.4M230 2257.2h1.4M245.5 2257.6h1.4M241.6 2236.1h1.4M257 2262.8h1.4M219.5 2251.8h1.4M238.5 2249h1.4M231 2257.9h1.4M203.5 2261.5h1.4M221.4 2272.3h1.4M240.3 2246.6h1.4M230.9 2258.8h1.4M237.5 2238.2h1.4M216.2 2274.7h1.4M211.6 2270.8h1.4M208.6 2293.9h1.4M257.3 2256.6h1.4M231.6 2285.5h1.4M240.6 2274.5h1.4M236.4 2231.3h1.4M261.1 2254.8h1.4M226.4 2279.9h1.4M221.2 2267h1.4M243.1 2237.9h1.4M231.6 2260h1.4M238.1 2243.5h1.4M241.2 2281.5h1.4M253 2264.1h1.4M228.8 2232.4h1.4M218.2 2281.3h1.4M237.8 2271.7h1.4M227.4 2262.4h1.4M224 2242.5h1.4M219 2257.9h1.4M205.1 2265.6h1.4M250.8 2244.6h1.4M242 2282.7h1.4M213.8 2267.4h1.4M240.1 2277.6h1.4M268.4 2241.1h1.4M215.9 2249.7h1.4M237.9 2244.1h1.4M242.5 2263.2h1.4M230.1 2247.5h1.4M249.2 2287.5h1.4M231.5 2237.9h1.4M245 2266.6h1.4M221.8 2255.1h1.4M244.9 2265.5h1.4M286.3 2281.5h1.4M222.1 2266.3h1.4M233.7 2254.5h1.4M239.6 2226.8h1.4M224.1 2255.7h1.4M229.7 2264.9h1.4M219.8 2279.8h1.4M240.6 2258.3h1.4M248.2 2260.3h1.4M258.3 2267.6h1.4M209.5 2267.1h1.4M238.8 2243.8h1.4M252 2250.3h1.4M265.2 2259.8h1.4M243.7 2264.1h1.4M221.8 2267h1.4M281.4 2264.9h1.4M199.9 2264.9h1.4M246.8 2268.9h1.4M259.7 2284.4h1.4M267.9 2273.8h1.4M208.4 2237.6h1.4M233.8 2260.1h1.4M239.6 2255.1h1.4M239.8 2250.5h1.4M214.2 2262.4h1.4M199.3 2259.7h1.4M223.5 2252.3h1.4M267.9 2246h1.4M248.1 2255.3h1.4M263.3 2274.1h1.4M246.2 2241.9h1.4M240.8 2269.8h1.4M239.7 2277.3h1.4M210 2263.7h1.4M206.2 2266.8h1.4M249.9 2262.7h1.4M220.7 2258.4h1.4M235.9 2267.4h1.4M241.5 2268.8h1.4M232 2237.4h1.4M201.9 2262.9h1.4M218.1 2271.4h1.4M243.3 2258.1h1.4M240.1 2241h1.4M231.4 2246.5h1.4M243.1 2258.3h1.4M219.2 2293.4h1.4M237.1 2280.3h1.4M268.1 2261h1.4M254.3 2269.9h1.4M241.9 2261.5h1.4M204.4 2210h1.4M199.7 2177.2h1.4M212.6 2228.5h1.4M187.2 2171.2h1.4M232 2211.4h1.4M196.9 2194.7h1.4M244 2242.8h1.4M208.5 2170.8h1.4M242.9 2217.1h1.4M218.1 2226.2h1.4M226.5 2201.3h1.4M212.5 2212.9h1.4M240.7 2222.6h1.4M230.5 2188.4h1.4M223 2182.7h1.4M202.7 2156.4h1.4M216.1 2167.1h1.4M249.5 2202.5h1.4M212 2180.7h1.4M203.4 2176.5h1.4M196 2219.4h1.4M214.3 2245.8h1.4M213.9 2197.7h1.4M207.9 2239.8h1.4M213.7 2167.1h1.4M222.6 2187.7h1.4M209.3 2222.2h1.4M221.4 2198.7h1.4M214.1 2206.2h1.4M209.6 2179.3h1.4M207.9 2165.1h1.4M211.2 2223.7h1.4M246.1 2228.5h1.4M208.5 2236.4h1.4M212 2168.5h1.4M241.4 2210.6h1.4M234.1 2179.9h1.4M214.6 2173.6h1.4M208.5 2181h1.4M223.9 2232.4h1.4M236.5 2186.8h1.4M223.6 2165.5h1.4M245.5 2165.9h1.4M202.3 2217.2h1.4M207.8 2185.6h1.4M232.5 2209.1h1.4M223.4 2217.5h1.4M194.7 2139.5h1.4M233.2 2197.3h1.4M194.1 2208.7h1.4M235.2 2190.7h1.4M220.2 2141.9h1.4M220.4 2198.7h1.4M198.6 2171.4h1.4M230.8 2218.4h1.4M248.4 2187.3h1.4M231.7 2240.7h1.4M211.9 2139.9h1.4M222.9 2179.8h1.4M237.3 2235.3h1.4M186.1 2144.8h1.4M228.1 2218.9h1.4M224.7 2140h1.4M232.3 2212.4h1.4M168.6 2154.6h1.4M204.5 2196.3h1.4M205.6 2166.4h1.4M205.2 2232.7h1.4M230.8 2216h1.4M195.9 2193.9h1.4M219 2218.9h1.4M236.8 2204h1.4M236.8 2235.5h1.4M232 2184.5h1.4M220.3 2174.5h1.4M189.9 2209.1h1.4M230.5 2171.8h1.4M204.5 2202.3h1.4M212.4 2222.3h1.4M238.3 2211.1h1.4M207 2173.7h1.4M240.8 2173h1.4M213.6 2197.1h1.4M231.9 2157.5h1.4M206.5 2186h1.4M233.2 2178h1.4M203.3 2193.6h1.4M234.9 2180.1h1.4M208.7 2182.5h1.4M214.2 2149.1h1.4M207.8 2183.1h1.4M199.1 2171.4h1.4M224.7 2189.7h1.4M220.5 2210.8h1.4M226 2164.9h1.4M215.5 2220.3h1.4M221.4 2262.1h1.4M230.5 2206.4h1.4M201 2164.5h1.4M256.9 2238.7h1.4M238.8 2222.4h1.4M227.4 2190.8h1.4M227.7 2220.9h1.4M209.5 2166.7h1.4M245.2 2201.8h1.4M211.4 2166.1h1.4M183.3 2229.1h1.4M146.9 2264.1h1.4M150.6 2279.7h1.4M180.1 2282.6h1.4M217.4 2251.8h1.4M165.9 2251.3h1.4M220.4 2292.7h1.4M200.7 2242.4h1.4M159.7 2233.3h1.4M166 2243.6h1.4M201.4 2233.3h1.4M175.9 2228h1.4" stroke="#4d4d4f" stroke-opacity="0.62" stroke-width="1.4" fill="none"/>
<rect x="110" y="2086.8" width="240.2" height="242.2" fill="none" stroke="#808285" stroke-width="1.3"/>
<path d="M110 2086.8V2329H350.2" fill="none" stroke="#58595b" stroke-width="1.5"/>
<path d="M112.9 2087.7V2236.6" stroke="#808285" stroke-width="1.4"/>
<path d="M112.2 2236.6H346.3V2087.7" fill="none" stroke="#58595b" stroke-width="2"/>
<path d="M109.3 2087.2H350.8" stroke="#636466" stroke-width="2"/>
<path d="M103 2110.1H110M103 2167.3H110M103 2233.8H110M103 2312.8H110" stroke="#231f20" stroke-width="2.4" fill="none"/>
<path d="M106.7 2150.1H110M106.7 2140H110M106.7 2132.9H110M105 2127.3H110M106.7 2122.8H110M106.7 2119H110M106.7 2115.6H110M106.7 2112.7H110M106.7 2213.8H110M106.7 2202.1H110M106.7 2193.8H110M105 2187.3H110M106.7 2182.1H110M106.7 2177.6H110M106.7 2173.7H110M106.7 2170.3H110M106.7 2092.9H110M106.7 2237H110M106.7 2239.3H110M106.7 2241.6H110M106.7 2244.1H110M106.7 2246.7H110M106.7 2249.2H110M105 2251.8H110M106.7 2254.9H110M106.7 2257.7H110M106.7 2260.5H110M106.7 2264.4H110M106.7 2282.4H110M106.7 2285.9H110M106.7 2289H110M106.7 2291.9H110M105 2295.3H110M106.7 2298.5H110M106.7 2301.6H110M106.7 2304H110M106.7 2306.5H110M106.7 2309H110" stroke="#231f20" stroke-width="1.5" fill="none"/>
<path d="M110 2267.4L106.5 2267.4L103.7 2268.4L105.8 2269.8L103.2 2271.8L104.8 2273.3L103 2274.8L105.4 2276L103.4 2277.8L107 2278.8L110 2278.8Z" fill="#231f20"/>
<path d="M110.9 2329V2335.4M156.3 2329V2335.4M201.6 2329V2335.4M247 2329V2335.4M292.3 2329V2335.4M337.7 2329V2335.4" stroke="#231f20" stroke-width="2" fill="none"/>
<path d="M120 2329V2332.6M129 2329V2332.6M138.1 2329V2332.6M147.2 2329V2332.6M165.3 2329V2332.6M174.4 2329V2332.6M183.5 2329V2332.6M192.5 2329V2332.6M210.7 2329V2332.6M219.8 2329V2332.6M228.8 2329V2332.6M237.9 2329V2332.6M256.1 2329V2332.6M265.1 2329V2332.6M274.2 2329V2332.6M283.3 2329V2332.6M301.4 2329V2332.6M310.5 2329V2332.6M319.6 2329V2332.6M328.6 2329V2332.6M346.8 2329V2332.6" stroke="#231f20" stroke-width="1.4" fill="none"/>
<text x="111.5" y="2346.9" font-size="10.5" text-anchor="middle" font-weight="normal" fill="#231f20" stroke="#231f20" stroke-width="0.75">0</text>
<text x="156.1" y="2346.9" font-size="10.5" text-anchor="middle" font-weight="normal" fill="#231f20" stroke="#231f20" stroke-width="0.75">50K</text>
<text x="201.3" y="2346.9" font-size="10.5" text-anchor="middle" font-weight="normal" fill="#231f20" stroke="#231f20" stroke-width="0.75">100K</text>
<text x="247.4" y="2346.9" font-size="10.5" text-anchor="middle" font-weight="normal" fill="#231f20" stroke="#231f20" stroke-width="0.75">150K</text>
<text x="293.4" y="2346.9" font-size="10.5" text-anchor="middle" font-weight="normal" fill="#231f20" stroke="#231f20" stroke-width="0.75">200K</text>
<text x="338.3" y="2346.9" font-size="10.5" text-anchor="middle" font-weight="normal" fill="#231f20" stroke="#231f20" stroke-width="0.75">250K</text>
<text x="98.5" y="2115.9" font-size="10.2" text-anchor="end" font-weight="normal" fill="#231f20" stroke="#231f20" stroke-width="0.75">10<tspan dy="-3.8" font-size="8.4">5</tspan></text>
<text x="98.5" y="2173.3" font-size="10.2" text-anchor="end" font-weight="normal" fill="#231f20" stroke="#231f20" stroke-width="0.75">10<tspan dy="-3.8" font-size="8.4">4</tspan></text>
<text x="98.5" y="2238" font-size="10.2" text-anchor="end" font-weight="normal" fill="#231f20" stroke="#231f20" stroke-width="0.75">10<tspan dy="-3.8" font-size="8.4">3</tspan></text>
<text x="98.5" y="2276.2" font-size="10.2" text-anchor="end" font-weight="normal" fill="#231f20" stroke="#231f20" stroke-width="0.75">0</text>
<text x="98.5" y="2319.8" font-size="10.2" text-anchor="end" font-weight="normal" fill="#231f20" stroke="#231f20" stroke-width="0.75">–10<tspan dy="-3.8" font-size="8.4">3</tspan></text>
<text x="338.3" y="2113.1" font-size="10.5" text-anchor="end" font-weight="normal" fill="#231f20" stroke="#231f20" stroke-width="0.75">40,0</text>
<text x="230.3" y="2072.6" font-size="20.7" text-anchor="middle" font-weight="bold" fill="#231f20">ctrl</text>
<path d="M620.1 2101V2106.3" stroke="#a7a9ac" stroke-width="1"/>
<path d="M520.1 2244.7h1.4M511.9 2260.4h1.4M534.4 2249.4h1.4M496.4 2267.4h1.4M528.8 2262.4h1.4M486.7 2254.8h1.4M513.9 2257.1h1.4M494.4 2247.1h1.4M556.2 2278.3h1.4M509.2 2293.2h1.4M513.8 2277.7h1.4M531.9 2238.2h1.4M505.4 2270.2h1.4M508.3 2257h1.4M507.3 2258.4h1.4M497.7 2267.2h1.4M500.4 2256.6h1.4M523 2271.8h1.4M578.7 2260h1.4M512.7 2254.8h1.4M477.5 2269.1h1.4M518.8 2248.4h1.4M520.7 2271.6h1.4M532.6 2263.8h1.4M514.6 2260.5h1.4M524.6 2254.9h1.4M487.2 2273.9h1.4M472.1 2250.5h1.4M525.4 2282.8h1.4M494.3 2279.4h1.4M529 2273.5h1.4M496.7 2270h1.4M549 2241.4h1.4M559.6 2275h1.4M509.4 2268.6h1.4M525 2252.1h1.4M500.2 2254.9h1.4M526.6 2252.3h1.4M531.4 2261.2h1.4M543.2 2283.4h1.4M508.2 2274.2h1.4M503.3 2238.4h1.4M462.3 2250.1h1.4M534.5 2265.2h1.4M503.5 2239.1h1.4M516.6 2262.6h1.4M511.4 2230h1.4M516 2277h1.4M526.9 2255.7h1.4M536.1 2251.7h1.4M520 2233.1h1.4M522.6 2282.4h1.4M528.2 2255h1.4M510.3 2255.5h1.4M513.1 2276.1h1.4M513.8 2291.9h1.4M525.2 2277h1.4M559.9 2259.6h1.4M532.6 2253.5h1.4M490.3 2228.2h1.4M506.1 2245h1.4M490.1 2245.4h1.4M503.6 2240.6h1.4M482.1 2236.5h1.4M488.1 2267.9h1.4M513 2270.4h1.4M519.6 2266.9h1.4M510 2254.1h1.4M497 2247.4h1.4M521.2 2257.7h1.4M507.4 2253.2h1.4M498.4 2236.3h1.4M506.6 2269.7h1.4M506.7 2244.9h1.4M507.7 2260.8h1.4M532.7 2260.4h1.4M520.9 2272.1h1.4M520.2 2287.1h1.4M509.9 2244h1.4M522.8 2267.5h1.4M492.9 2260.3h1.4M523.4 2274.7h1.4M516.6 2264.9h1.4M506.5 2281.5h1.4M522.8 2266.9h1.4M503.8 2284.6h1.4M505.7 2265.5h1.4M517.1 2254.5h1.4M516 2241.2h1.4M535.3 2237.3h1.4M504.8 2255.9h1.4M514.5 2234.5h1.4M521.5 2263.4h1.4M505.1 2250.5h1.4M510.2 2261.8h1.4M538.6 2246.7h1.4M508.6 2230h1.4M515.3 2287.8h1.4M490.3 2261.9h1.4M530.1 2278.6h1.4M495.4 2244.6h1.4M500 2255.1h1.4M511 2256.6h1.4M495.4 2270.4h1.4M483.2 2257.4h1.4M498.9 2258.6h1.4M511.9 2252.1h1.4M522.1 2258.1h1.4M520.7 2248.7h1.4M521 2256.4h1.4M538.3 2261.1h1.4M520.3 2253.3h1.4M524.1 2254.7h1.4M540 2266.1h1.4M537.5 2237.2h1.4M508 2281.7h1.4M521.8 2255.8h1.4M490.4 2267.1h1.4M520.8 2277.4h1.4M498.1 2268.7h1.4M498.4 2225h1.4M491.2 2288.2h1.4M500.1 2233.1h1.4M531 2243.4h1.4M513.5 2247.6h1.4M518.7 2244.1h1.4M540.5 2270.4h1.4M498.1 2276.6h1.4M504 2245.4h1.4M544.1 2267.8h1.4M518.3 2256.2h1.4M551.2 2259.3h1.4M524.9 2255h1.4M509.4 2245.4h1.4M499.4 2231.4h1.4M521.7 2252.4h1.4M521.8 2279.4h1.4M495.4 2284.7h1.4M523.6 2258.5h1.4M520.7 2233.8h1.4M504.9 2260.4h1.4M519.7 2247.9h1.4M518.7 2257.7h1.4M524.4 2240.4h1.4M531.2 2267.4h1.4M503.5 2253.1h1.4M515.8 2275.1h1.4M512.3 2240.4h1.4M510.5 2252.1h1.4M493.1 2239.9h1.4M492.3 2265.1h1.4M528.7 2266.5h1.4M494.8 2263.8h1.4M486.6 2269.4h1.4M509 2260.9h1.4M503.8 2288.5h1.4M534.1 2261.6h1.4M553.2 2276.4h1.4M529 2274.8h1.4M490.2 2284.9h1.4M482.8 2256.2h1.4M511.3 2264.6h1.4M516.6 2250.3h1.4M535.4 2255h1.4M534.9 2255.4h1.4M551.5 2257h1.4M522 2292.3h1.4M484.5 2269h1.4M492.8 2259.5h1.4M512.6 2254.9h1.4M509.5 2274h1.4M511.5 2251.1h1.4M539.8 2250.1h1.4M516.6 2241.7h1.4M517.9 2266.4h1.4M500.9 2262.2h1.4M520.7 2244.7h1.4M488.6 2274.1h1.4M498.4 2263.1h1.4M496 2224.4h1.4M512.1 2261.4h1.4M533.1 2247.4h1.4M518.9 2262.6h1.4M518.4 2266.6h1.4M519.9 2251.4h1.4M537.2 2254.7h1.4M525.6 2267.8h1.4M497.1 2246.3h1.4M517.6 2251.4h1.4M503.5 2281.3h1.4M515.5 2253.3h1.4M531.7 2250.5h1.4M508.9 2259.4h1.4M545.8 2250.7h1.4M533.4 2216.3h1.4M493.9 2208.5h1.4M491.6 2182.6h1.4M487.8 2214.1h1.4M511.5 2167.6h1.4M521.6 2199h1.4M502.1 2181.7h1.4M478.5 2174.6h1.4M475.5 2178.3h1.4M506.4 2183.5h1.4M487.6 2174.5h1.4M516 2213.3h1.4M521.6 2196.8h1.4M515.4 2193h1.4M476.8 2177.5h1.4M505 2220.3h1.4M502 2225.5h1.4M456.4 2167.3h1.4M528.5 2233.2h1.4M504 2203.6h1.4M505.7 2188.4h1.4M499 2183.7h1.4M491.3 2189.9h1.4M477.4 2185.8h1.4M494.3 2236h1.4M471.2 2166.9h1.4M510.6 2190.8h1.4M504.1 2206.7h1.4M506.9 2174.4h1.4M475.8 2186.1h1.4M503.6 2213.8h1.4M528.7 2212.9h1.4M511.9 2211.9h1.4M539.5 2221.2h1.4M483.2 2165.6h1.4M493.7 2209.8h1.4M471.7 2151.1h1.4M491.7 2207.7h1.4M520.6 2241.9h1.4M483.1 2148.8h1.4M482.3 2200.9h1.4M502.4 2217.2h1.4M498.1 2202.1h1.4M506.2 2211.5h1.4M503.5 2203.6h1.4M529.4 2205.6h1.4M532.5 2173.4h1.4M510.5 2214.6h1.4M521.7 2201h1.4M518.5 2218.9h1.4M487.4 2156.3h1.4M466.9 2157.6h1.4M477 2158.8h1.4M481.1 2149.4h1.4M510.4 2200h1.4M479.3 2212.9h1.4M491.3 2195.7h1.4M508.2 2220.3h1.4M494.8 2187.7h1.4M516.3 2230.5h1.4M501.4 2201.6h1.4M517.1 2209.5h1.4M527 2241h1.4M517.8 2182h1.4M495.5 2204.3h1.4M524.3 2203.8h1.4M469.3 2192.6h1.4M535.5 2172.7h1.4M473.8 2174.1h1.4M536.8 2186.9h1.4M482.3 2189.2h1.4M463.2 2161.6h1.4M512.4 2210.8h1.4M489.9 2226.1h1.4M500.8 2189.6h1.4M484.7 2228h1.4M476 2189.9h1.4M505.7 2163.9h1.4M508.7 2211.5h1.4M476.5 2165.8h1.4M480.1 2220.2h1.4M501.7 2192.2h1.4M505.6 2184.1h1.4M491.8 2245.4h1.4M467.6 2206.2h1.4M530.1 2209.1h1.4M487.3 2175.4h1.4M495.8 2187.7h1.4M524.8 2181.6h1.4M517.6 2244.7h1.4M505.6 2188.2h1.4M468.6 2196.6h1.4M505.2 2182.4h1.4M518.8 2195.7h1.4M513.1 2208.6h1.4M483.7 2191.1h1.4M490.4 2189.1h1.4M490.7 2168.3h1.4M502.2 2239.7h1.4M493 2176.8h1.4M450.4 2168.2h1.4M506.5 2195.3h1.4M524 2179.2h1.4M521.1 2193.9h1.4M506.5 2158.7h1.4M510.1 2195.2h1.4M535.8 2191.7h1.4M482.5 2175.8h1.4M498.3 2209.9h1.4M493.1 2159.4h1.4M502 2183.8h1.4M474.1 2181.9h1.4M508.8 2206.7h1.4M516.9 2209.1h1.4M508.3 2211h1.4M467.5 2174.2h1.4M502.4 2198.5h1.4M464.1 2147.9h1.4M502.7 2187.2h1.4M480.7 2179.3h1.4M526.8 2181h1.4M523.1 2221h1.4M517.1 2185h1.4M512.7 2210h1.4M514.6 2240.6h1.4M518.1 2202.5h1.4M517.6 2192.4h1.4M518.2 2219.5h1.4M512.2 2178.4h1.4M502 2183.2h1.4M510.7 2207.4h1.4M533.3 2179.6h1.4M428 2222.9h1.4M513.8 2194.1h1.4M498.5 2240.4h1.4M494.1 2207.8h1.4M442.8 2201.9h1.4M418.4 2199.6h1.4" stroke="#4d4d4f" stroke-opacity="0.62" stroke-width="1.4" fill="none"/>
<path d="M545.5 2258.7h1.4M512.5 2247.8h1.4M506 2252.1h1.4M515.7 2254.3h1.4M495.1 2283.5h1.4M503.9 2268.6h1.4M531.9 2258.4h1.4M514.3 2251.6h1.4M526.7 2239.2h1.4M537.5 2250.9h1.4M519.6 2249h1.4M483.8 2267.4h1.4M547.7 2236.7h1.4M517.7 2275.2h1.4M519.1 2279.1h1.4M545.8 2278.8h1.4M519.2 2255.2h1.4M487.7 2253.4h1.4M507.1 2250h1.4M540.7 2233.9h1.4M483.9 2267h1.4M518.8 2276.4h1.4M483.4 2259.9h1.4M537.3 2243.8h1.4M509.9 2240.4h1.4M534.9 2262.6h1.4M539.9 2258.6h1.4M508.8 2235.8h1.4M528.4 2253.4h1.4M530.1 2255.6h1.4M546.7 2274.1h1.4M485.2 2265.6h1.4M532.9 2251h1.4M547 2271.2h1.4M516.7 2256.9h1.4M520.3 2257.1h1.4M509.1 2276.5h1.4M511.7 2298.6h1.4M531.7 2250h1.4M502.8 2277.3h1.4M512 2255.1h1.4M545.4 2253.4h1.4M539.2 2234.4h1.4M520.1 2280.4h1.4M494.9 2232.6h1.4M551.6 2250.9h1.4M531.3 2248.1h1.4M501.8 2262.2h1.4M536.6 2248.7h1.4M502.6 2254.3h1.4M542 2268.6h1.4M492.5 2285.3h1.4M495.5 2256.3h1.4M540.5 2260.2h1.4M503.5 2243.6h1.4M491.8 2262.7h1.4M490.7 2272.5h1.4M497.9 2266.2h1.4M525.6 2267.9h1.4M508.8 2235.4h1.4M536.3 2256.5h1.4M560.5 2257.2h1.4M506.7 2259.3h1.4M528.9 2252.8h1.4M495.5 2263.6h1.4M519.8 2271.8h1.4M500.3 2272.3h1.4M516.8 2277.8h1.4M532.5 2263h1.4M495 2250.1h1.4M539.5 2252.4h1.4M504.3 2247h1.4M512.2 2267.2h1.4M539.1 2257.8h1.4M521.8 2255.5h1.4M507.9 2254.2h1.4M514 2252h1.4M498.5 2265.2h1.4M503.3 2270.4h1.4M532.6 2263.3h1.4M482 2229.6h1.4M508.6 2257.5h1.4M505.8 2247.6h1.4M509.8 2280.3h1.4M511.3 2290.4h1.4M529.7 2265.8h1.4M530.7 2248.2h1.4M494.9 2249.4h1.4M514 2240h1.4M501.1 2262.6h1.4M504.1 2262.6h1.4M540.1 2233.3h1.4M536.8 2242.5h1.4M537.2 2248.7h1.4M510.3 2265h1.4M543.7 2252.7h1.4M542.9 2248h1.4M544.2 2270h1.4M516.6 2252.3h1.4M490.7 2261.5h1.4M529.2 2286.7h1.4M519.4 2258.7h1.4M533.7 2259.5h1.4M532.3 2269.2h1.4M519 2272.2h1.4M516.2 2277.3h1.4M509.7 2226.5h1.4M516.5 2276.5h1.4M540.3 2238.1h1.4M475.8 2254.8h1.4M494.4 2264.3h1.4M518.2 2254.4h1.4M500.2 2261.9h1.4M493.9 2289.3h1.4M507.1 2251.7h1.4M525.3 2253.5h1.4M522.8 2255.1h1.4M508.1 2272.8h1.4M477 2260.9h1.4M499 2249.7h1.4M494.3 2241h1.4M527.4 2256.5h1.4M497.5 2259.1h1.4M529.5 2252h1.4M482.7 2258.8h1.4M502.8 2222.4h1.4M519 2267.8h1.4M534.6 2262.7h1.4M479.4 2261.3h1.4M501.1 2267.7h1.4M523.8 2280.7h1.4M540.2 2249.1h1.4M501.7 2282.1h1.4M491.9 2250.4h1.4M504 2272.1h1.4M519.1 2247.9h1.4M501.4 2276.8h1.4M503 2270.6h1.4M464.8 2261.7h1.4M509.8 2272.5h1.4M527.1 2248.4h1.4M514.6 2255h1.4M466.3 2226.9h1.4M524.1 2254.4h1.4M529.5 2248.7h1.4M505.1 2269.7h1.4M515.5 2273.5h1.4M487.5 2288.4h1.4M565.2 2242.2h1.4M500.8 2253.8h1.4M539.9 2272.4h1.4M503 2278.2h1.4M505.8 2251.4h1.4M528.6 2246.5h1.4M525.2 2251.6h1.4M556.4 2259.6h1.4M498.3 2265.1h1.4M521.4 2258.5h1.4M517.5 2270.5h1.4M524 2252.4h1.4M487.9 2262h1.4M508.1 2253.3h1.4M517.3 2252.8h1.4M487.9 2249.8h1.4M526.8 2257.4h1.4M523.7 2254h1.4M513.2 2256.3h1.4M480 2280.1h1.4M513.9 2275.9h1.4M502.3 2233.3h1.4M555.1 2284.8h1.4M555.2 2243h1.4M527.6 2253h1.4M498 2247.2h1.4M505 2266.2h1.4M515.2 2274.9h1.4M518.1 2253h1.4M506.2 2245h1.4M480 2277.7h1.4M502.4 2256.6h1.4M485.8 2286.2h1.4M513.7 2283.6h1.4M526.6 2255.7h1.4M492.2 2259.4h1.4M502.7 2265.8h1.4M535.4 2244.2h1.4M496.7 2248.1h1.4M527.8 2280h1.4M508.8 2271.8h1.4M502.7 2261h1.4M523.4 2260.2h1.4M540.4 2259.4h1.4M497.1 2268.8h1.4M483.7 2212.6h1.4M489.1 2161h1.4M486.2 2201h1.4M499.1 2187.5h1.4M510.7 2183.2h1.4M488.7 2192.3h1.4M503.6 2201.2h1.4M503.2 2193.3h1.4M465.9 2187.3h1.4M507.9 2215.5h1.4M510.8 2207.1h1.4M524.2 2187.5h1.4M552.1 2240.2h1.4M509.2 2197.6h1.4M476.7 2204.1h1.4M496.6 2191.8h1.4M489.4 2157.6h1.4M485 2211.1h1.4M509.8 2204.5h1.4M482.4 2161.4h1.4M491.7 2175.1h1.4M510.3 2185.4h1.4M520.9 2142.1h1.4M499.9 2207.4h1.4M503 2240.9h1.4M488.5 2164.3h1.4M509.7 2210.9h1.4M504.6 2191.8h1.4M503.8 2176.4h1.4M516.9 2250.9h1.4M501.9 2166.4h1.4M505.2 2221.5h1.4M493.5 2188.7h1.4M486.1 2214.1h1.4M524.7 2202h1.4M467.2 2154.8h1.4M503.2 2188h1.4M513.8 2209.4h1.4M498.2 2214.5h1.4M506 2179.2h1.4M484.4 2204.2h1.4M477.8 2167.3h1.4M480.3 2166.4h1.4M517 2189.7h1.4M508.6 2165.6h1.4M515.4 2162.2h1.4M507.9 2187.4h1.4M505.4 2184.8h1.4M497.8 2187.3h1.4M491.9 2166.8h1.4M515.4 2184.1h1.4M485.9 2193.4h1.4M524.7 2177.2h1.4M501.6 2189.7h1.4M448.7 2183.7h1.4M506 2167.4h1.4M537.7 2198.8h1.4M502.7 2184h1.4M480.8 2196.4h1.4M508.7 2161.5h1.4M473.6 2171.3h1.4M528.4 2202.8h1.4M480.6 2147.2h1.4M499.9 2171.2h1.4M498.4 2183.6h1.4M494.9 2188.2h1.4M497.1 2203.6h1.4M494.2 2241.7h1.4M492.2 2201.6h1.4M496.5 2182.5h1.4M493.3 2182.3h1.4M507.1 2167.7h1.4M492.5 2162.7h1.4M502.4 2225.8h1.4M523.6 2207.6h1.4M499.8 2217.7h1.4M492.7 2153.4h1.4M489.5 2195.1h1.4M496.4 2164.2h1.4M488.9 2157.8h1.4M510 2200.1h1.4M526.3 2240.3h1.4M539.9 2216.6h1.4M515.7 2177.3h1.4M529.7 2237.3h1.4M501.2 2198.8h1.4M520.8 2239.3h1.4M485.6 2204.1h1.4M512.7 2167.9h1.4M498.5 2210.4h1.4M533.1 2254.6h1.4M474.6 2183.8h1.4M505.6 2206.8h1.4M533.3 2216.1h1.4M502.8 2210.9h1.4M520.1 2222.4h1.4M508.8 2188.9h1.4M518 2221.4h1.4M500.7 2196.1h1.4M513.2 2193.8h1.4M525.1 2236.4h1.4M523.3 2208.8h1.4M488.2 2182.9h1.4M487.7 2220.1h1.4M512.5 2190.2h1.4M457.7 2180.5h1.4M490.4 2201.8h1.4M496.2 2180.6h1.4M510.4 2219.5h1.4M495.7 2178.1h1.4M538.9 2218.9h1.4M509.9 2197.3h1.4M487.5 2169.5h1.4M507.7 2230.1h1.4M482 2197.9h1.4M486.5 2219h1.4M512.1 2175.2h1.4M472.8 2171.3h1.4M482.1 2182.7h1.4M523.4 2204.8h1.4M498.1 2186.4h1.4M507.1 2220.3h1.4M483.7 2216.1h1.4M489.1 2198.2h1.4M498 2227.5h1.4M532.2 2228.5h1.4M478.2 2187.5h1.4M507.6 2201h1.4M486.1 2210.5h1.4M488.8 2175.3h1.4M490.3 2209.9h1.4M480.1 2173.5h1.4M496.8 2179.1h1.4M438 2240.7h1.4M465.9 2296.5h1.4M398.3 2273.5h1.4M487.6 2213.2h1.4M421 2110.8h1.4M424.6 2272.5h1.4" stroke="#4d4d4f" stroke-opacity="0.62" stroke-width="1.4" fill="none"/>
<path d="M509.4 2271.1h1.4M496.5 2248.2h1.4M526.4 2289.4h1.4M522.8 2239.5h1.4M529.2 2276.9h1.4M538.5 2229.7h1.4M490.1 2256h1.4M518.6 2235.7h1.4M473.8 2245.8h1.4M535.7 2277.8h1.4M491.9 2257.1h1.4M463.5 2287h1.4M494.2 2293.4h1.4M537.9 2260.7h1.4M516 2286.9h1.4M519.6 2245.5h1.4M486.7 2247.7h1.4M482.7 2250.4h1.4M491.2 2230.5h1.4M521.5 2279.6h1.4M540.7 2258.9h1.4M510.1 2256.9h1.4M500.9 2266.6h1.4M506 2243.8h1.4M512.1 2252.3h1.4M479.3 2256.4h1.4M521.7 2236.8h1.4M515.2 2263.8h1.4M515.5 2268.2h1.4M501.8 2317.4h1.4M517.4 2269.9h1.4M523.9 2235.1h1.4M519.4 2249h1.4M526.6 2261.5h1.4M488.4 2254.6h1.4M494.8 2245.4h1.4M493.9 2227.9h1.4M541 2268.4h1.4M500.8 2252.2h1.4M511.1 2276h1.4M513.7 2261.9h1.4M480.5 2224.6h1.4M508.2 2231.2h1.4M544.6 2275.4h1.4M547.6 2256.6h1.4M536.1 2264.3h1.4M505.7 2263.1h1.4M519.4 2260h1.4M487.6 2259h1.4M517.3 2256.9h1.4M498.3 2280.8h1.4M515.1 2227.9h1.4M478.3 2268.7h1.4M502 2245h1.4M531.4 2260.6h1.4M481.4 2255h1.4M528.8 2257.7h1.4M479.7 2283.7h1.4M550.1 2250.1h1.4M511 2266h1.4M518.6 2274.3h1.4M494.9 2255.7h1.4M514 2267.9h1.4M536.8 2264.3h1.4M537 2292.2h1.4M467 2253.6h1.4M534.7 2260.7h1.4M542 2252.4h1.4M519.8 2267h1.4M516.5 2265.7h1.4M518.4 2254.7h1.4M529.9 2242h1.4M529.6 2234.1h1.4M523.4 2285.7h1.4M537.3 2272.1h1.4M507.5 2234.5h1.4M514.9 2263h1.4M526.9 2260.8h1.4M540.8 2249.6h1.4M522.3 2273.2h1.4M499.2 2236.2h1.4M509.9 2255.6h1.4M504.7 2271.7h1.4M492.5 2249h1.4M515.4 2263.9h1.4M484.4 2265h1.4M518 2272.8h1.4M491.1 2274.4h1.4M454.7 2277.7h1.4M507.1 2246.6h1.4M509.9 2248h1.4M512.5 2264.6h1.4M512.8 2261.6h1.4M505.4 2255.3h1.4M516.4 2266.6h1.4M525.9 2261.8h1.4M499.8 2275.3h1.4M518.5 2270.8h1.4M518.5 2237.5h1.4M541.6 2265.6h1.4M494.4 2259.9h1.4M501.6 2290.7h1.4M510.2 2273.4h1.4M510.7 2259.2h1.4M516.4 2253.5h1.4M514 2251.8h1.4M485.4 2241.5h1.4M495.3 2276.2h1.4M493.8 2256.2h1.4M512.3 2297h1.4M493.1 2262.3h1.4M503.6 2282h1.4M523.9 2271.9h1.4M534.4 2271.5h1.4M534.9 2241.8h1.4M547.2 2239.5h1.4M498.9 2262.4h1.4M505.8 2249.3h1.4M524.8 2238.2h1.4M544.2 2245.2h1.4M544.1 2277.2h1.4M528 2264.8h1.4M507.3 2248.2h1.4M515.6 2242.6h1.4M512.7 2271.4h1.4M493.8 2278.3h1.4M522.3 2233.5h1.4M508.1 2253.4h1.4M505.6 2255.9h1.4M486.9 2274.7h1.4M505.3 2244.4h1.4M520.3 2249.6h1.4M519.6 2228.9h1.4M505.1 2259.6h1.4M489.2 2268.2h1.4M506.4 2243.8h1.4M475.4 2245.8h1.4M476.9 2260.7h1.4M528 2278.7h1.4M498.9 2267.4h1.4M564.9 2261.3h1.4M487.3 2236.1h1.4M508 2258h1.4M504.4 2256.9h1.4M508.4 2241.6h1.4M521.2 2270.4h1.4M522.6 2270h1.4M520.5 2265.7h1.4M512.4 2258.2h1.4M504.8 2271.2h1.4M493 2214.7h1.4M506.2 2260.6h1.4M532.9 2262.2h1.4M506.4 2259.8h1.4M551 2248.3h1.4M510.1 2242.9h1.4M538.2 2269.3h1.4M523.4 2277.3h1.4M535.4 2256.5h1.4M517.7 2255.3h1.4M511.5 2276h1.4M488.3 2273.9h1.4M500.5 2262.7h1.4M545.9 2246.8h1.4M485.1 2252.8h1.4M511.1 2263.8h1.4M501.6 2239.3h1.4M529 2254.6h1.4M500.2 2253.4h1.4M484 2248.9h1.4M520.7 2287.2h1.4M506.1 2255.1h1.4M491.6 2262.6h1.4M530.9 2266h1.4M502.7 2239.1h1.4M483.2 2255.8h1.4M493.3 2275.9h1.4M497.7 2248h1.4M528.7 2279.9h1.4M519.1 2251.3h1.4M493.5 2263.1h1.4M508.6 2274.8h1.4M509.9 2273.6h1.4M535.5 2272.7h1.4M539.3 2259.9h1.4M517.1 2243.2h1.4M505.8 2236.9h1.4M505.8 2254.9h1.4M517.9 2258h1.4M495.2 2250.3h1.4M488.9 2224.6h1.4M500 2267.6h1.4M533.4 2251.3h1.4M512.2 2143.4h1.4M508.7 2203.9h1.4M504.8 2186.7h1.4M515.9 2212.7h1.4M488.6 2182.2h1.4M524.5 2200.6h1.4M491.8 2191h1.4M508.7 2208.5h1.4M488 2206.6h1.4M512.2 2216.5h1.4M486.4 2178.8h1.4M526.7 2219.3h1.4M535.3 2245.7h1.4M505.7 2169.9h1.4M524 2197.8h1.4M509.5 2150.1h1.4M534.5 2229.5h1.4M531 2231.2h1.4M508.2 2185.5h1.4M478.7 2175.7h1.4M501.7 2176.1h1.4M501.3 2193.3h1.4M497.2 2181.7h1.4M479.6 2197.1h1.4M494.3 2173.2h1.4M486.9 2212.4h1.4M508.8 2211.3h1.4M485.1 2181.9h1.4M508 2206.6h1.4M476.2 2170.7h1.4M531.4 2202.3h1.4M483 2197.1h1.4M505.5 2195h1.4M474.9 2202.3h1.4M535.6 2228.7h1.4M489.5 2171.1h1.4M498.2 2193.7h1.4M483.3 2168.1h1.4M497.3 2189.8h1.4M499.9 2184.9h1.4M512.8 2224.1h1.4M493.2 2161.9h1.4M493.5 2173.4h1.4M512.4 2232.9h1.4M508 2202.3h1.4M514.8 2211.4h1.4M507.5 2184.5h1.4M502.2 2207h1.4M510.6 2172.2h1.4M495.3 2179.6h1.4M537.4 2202.5h1.4M487.4 2205.9h1.4M478.8 2189.4h1.4M476.9 2172.2h1.4M520.7 2214.9h1.4M517.3 2161.3h1.4M513.9 2183h1.4M478.1 2179.4h1.4M514.8 2194.2h1.4M493.7 2184.4h1.4M522.7 2175.9h1.4M513.9 2170.4h1.4M512.8 2225.2h1.4M516.7 2195.6h1.4M478.6 2176.5h1.4M515.5 2195.3h1.4M481.3 2166.5h1.4M513.7 2198.9h1.4M509.7 2236.6h1.4M485 2213.3h1.4M526.3 2201.1h1.4M482 2229.2h1.4M531.7 2186.2h1.4M488.4 2167.4h1.4M499.6 2184.4h1.4M525.3 2210.4h1.4M486.9 2188.9h1.4M502.3 2179.1h1.4M511.9 2214.1h1.4M506.7 2222.7h1.4M521.7 2214h1.4M506.7 2215.6h1.4M536.4 2194h1.4M516.5 2189.5h1.4M472.7 2203.1h1.4M517.2 2235h1.4M489.6 2222.1h1.4M508.2 2182.5h1.4M524.3 2230.5h1.4M480.5 2172.8h1.4M519 2182h1.4M498.2 2179.4h1.4M491.4 2194.7h1.4M505.2 2200h1.4M512.9 2202.4h1.4M512.9 2213.7h1.4M515 2222.4h1.4M508 2180.5h1.4M504.5 2165.5h1.4M520.9 2244.8h1.4M530.5 2188.6h1.4M495.7 2164.1h1.4M494.5 2177.8h1.4M527.3 2194.1h1.4M504.1 2171.4h1.4M506.2 2208h1.4M510.1 2197.8h1.4M502.6 2210.6h1.4M499.2 2213.7h1.4M524.1 2186.5h1.4M489.5 2193.1h1.4M494.4 2215.9h1.4M541.5 2184.1h1.4M520.1 2195.9h1.4M493.1 2197.2h1.4M501.3 2221.9h1.4M494.1 2218.9h1.4M469.5 2160.9h1.4M510.5 2171h1.4M502.4 2213.8h1.4M517.3 2186.4h1.4M472 2234.1h1.4M525.8 2248.9h1.4M495.8 2216.6h1.4M520.1 2219.1h1.4M501.1 2217.2h1.4M515.2 2169.9h1.4M499.6 2203.4h1.4M496.8 2207.1h1.4M525.6 2200.5h1.4M453.9 2166.5h1.4M493.8 2190.5h1.4M431.4 2210.7h1.4M461.5 2202.6h1.4M433.1 2270.6h1.4M457.8 2213.2h1.4M471.4 2197h1.4M417.5 2300.9h1.4" stroke="#4d4d4f" stroke-opacity="0.62" stroke-width="1.4" fill="none"/>
<rect x="384" y="2085.9" width="242.3" height="243.1" fill="none" stroke="#a0a2a5" stroke-width="1.1"/>
<path d="M386.7 2086.7V2235.3" fill="none" stroke="#939598" stroke-width="1.3"/>
<path d="M623 2086.7V2235.3" fill="none" stroke="#58595b" stroke-width="1.7"/>
<path d="M383.4 2086.3H626.8" stroke="#939598" stroke-width="1.5"/>
<path d="M386.7 2235.3H623" stroke="#636466" stroke-width="1.6"/>
<path d="M377 2108.9H384M377 2166.4H384M377 2233.1H384M377 2312.8H384" stroke="#58595b" stroke-width="2.4" fill="none"/>
<path d="M380.7 2149.1H384M380.7 2139H384M380.7 2131.8H384M379 2126.2H384M380.7 2121.7H384M380.7 2117.8H384M380.7 2114.5H384M380.7 2111.5H384M380.7 2213H384M380.7 2201.3H384M380.7 2192.9H384M379 2186.5H384M380.7 2181.2H384M380.7 2176.7H384M380.7 2172.9H384M380.7 2169.5H384M380.7 2091.6H384M380.7 2236.4H384M380.7 2238.8H384M380.7 2241.2H384M380.7 2243.7H384M380.7 2246.5H384M380.7 2249.1H384M379 2251.6H384M380.7 2254.8H384M380.7 2257.8H384M380.7 2260.7H384M380.7 2264.7H384M380.7 2282.9H384M380.7 2286.3H384M380.7 2289.4H384M380.7 2292.2H384M379 2295.6H384M380.7 2298.7H384M380.7 2301.8H384M380.7 2304.2H384M380.7 2306.6H384M380.7 2309H384" stroke="#77787b" stroke-width="1.5" fill="none"/>
<path d="M384 2268L380.5 2268L377.7 2269L379.8 2270.4L377.2 2272.4L378.8 2273.9L377 2275.4L379.4 2276.6L377.4 2278.4L381 2279.4L384 2279.4Z" fill="#58595b"/>
<path d="M384.6 2329V2335.4M430.4 2329V2335.4M476.2 2329V2335.4M522 2329V2335.4M567.8 2329V2335.4M613.6 2329V2335.4" stroke="#77787b" stroke-width="2" fill="none"/>
<path d="M393.8 2329V2332.6M402.9 2329V2332.6M412.1 2329V2332.6M421.2 2329V2332.6M439.6 2329V2332.6M448.7 2329V2332.6M457.9 2329V2332.6M467 2329V2332.6M485.4 2329V2332.6M494.5 2329V2332.6M503.7 2329V2332.6M512.8 2329V2332.6M531.2 2329V2332.6M540.3 2329V2332.6M549.5 2329V2332.6M558.6 2329V2332.6M577 2329V2332.6M586.1 2329V2332.6M595.3 2329V2332.6M604.4 2329V2332.6M622.8 2329V2332.6" stroke="#77787b" stroke-width="1.4" fill="none"/>
<text x="385.2" y="2347.1" font-size="10.5" text-anchor="middle" font-weight="normal" fill="#231f20" stroke="#231f20" stroke-width="0.75">0</text>
<text x="430.3" y="2347.1" font-size="10.5" text-anchor="middle" font-weight="normal" fill="#231f20" stroke="#231f20" stroke-width="0.75">50K</text>
<text x="476.5" y="2347.1" font-size="10.5" text-anchor="middle" font-weight="normal" fill="#231f20" stroke="#231f20" stroke-width="0.75">100K</text>
<text x="522.1" y="2347.1" font-size="10.5" text-anchor="middle" font-weight="normal" fill="#231f20" stroke="#231f20" stroke-width="0.75">150K</text>
<text x="568.8" y="2347.1" font-size="10.5" text-anchor="middle" font-weight="normal" fill="#231f20" stroke="#231f20" stroke-width="0.75">200K</text>
<text x="614.2" y="2347.1" font-size="10.5" text-anchor="middle" font-weight="normal" fill="#231f20" stroke="#231f20" stroke-width="0.75">250K</text>
<text x="374.2" y="2114.7" font-size="10.2" text-anchor="end" font-weight="normal" fill="#231f20" stroke="#231f20" stroke-width="0.75">10<tspan dy="-3.8" font-size="8.4">5</tspan></text>
<text x="374.2" y="2172.4" font-size="10.2" text-anchor="end" font-weight="normal" fill="#231f20" stroke="#231f20" stroke-width="0.75">10<tspan dy="-3.8" font-size="8.4">4</tspan></text>
<text x="374.2" y="2237.3" font-size="10.2" text-anchor="end" font-weight="normal" fill="#231f20" stroke="#231f20" stroke-width="0.75">10<tspan dy="-3.8" font-size="8.4">3</tspan></text>
<text x="374.2" y="2276.8" font-size="10.2" text-anchor="end" font-weight="normal" fill="#231f20" stroke="#231f20" stroke-width="0.75">0</text>
<text x="374.2" y="2319.8" font-size="10.2" text-anchor="end" font-weight="normal" fill="#231f20" stroke="#231f20" stroke-width="0.75">–10<tspan dy="-3.8" font-size="8.4">3</tspan></text>
<text x="605.2" y="2115.2" font-size="16.6" text-anchor="end" font-weight="bold" fill="#231f20" stroke="#231f20" stroke-width="0.3">41%</text>
<text x="504.7" y="2073" font-size="20.7" text-anchor="middle" font-weight="bold" fill="#231f20">LR 1:1</text>
<rect x="872" y="2305" width="37" height="58.2" fill="#ffffff" stroke="#414042" stroke-width="2.8"/>
<rect x="931.1" y="2302.1" width="36.1" height="61.1" fill="#e1e2e3" stroke="#414042" stroke-width="2.8"/>
<rect x="988.6" y="2305.8" width="36.3" height="57.4" fill="#bdbec0" stroke="#414042" stroke-width="2.8"/>
<path d="M851.8 2071.9V2363.2M839.9 2363.2H1046.1M839.9 2073.3H851.8M839.9 2131H851.8M839.9 2188.7H851.8M839.9 2247H851.8M839.9 2305H851.8M890.5 2363.2V2374.9M948.8 2363.2V2374.9M1006.5 2363.2V2374.9M890.5 2162.8V2145.8H1006.5V2206.3" stroke="#414042" stroke-width="2.8" fill="none"/>
<path d="M1047.4 2363.2H1052" stroke="#231f20" stroke-width="2.8"/>
<g fill="#fff" stroke="#414042" stroke-width="2.9"><circle cx="890.5" cy="2180.2" r="7.5"/><circle cx="890.5" cy="2247.5" r="7.5"/><circle cx="878.5" cy="2290.2" r="7.5"/><circle cx="891" cy="2302.4" r="7.5"/><circle cx="891" cy="2319.5" r="7.5"/><circle cx="878.5" cy="2342.8" r="7.5"/><circle cx="891" cy="2346.2" r="7.5"/><circle cx="903" cy="2354.1" r="7.5"/><circle cx="878.5" cy="2359" r="7.5"/><circle cx="949" cy="2216.8" r="7.5"/><circle cx="949" cy="2235.3" r="7.5"/><circle cx="936.8" cy="2269.7" r="7.5"/><circle cx="961" cy="2282.2" r="7.5"/><circle cx="949" cy="2316.3" r="7.5"/><circle cx="961" cy="2332.8" r="7.5"/><circle cx="936.8" cy="2344.2" r="7.5"/><circle cx="961" cy="2354.7" r="7.5"/><circle cx="936.8" cy="2360.4" r="7.5"/><circle cx="1007" cy="2223.9" r="7.5"/><circle cx="1007" cy="2244.7" r="7.5"/><circle cx="1000.5" cy="2281.6" r="7.5"/><circle cx="1013" cy="2274.8" r="7.5"/><circle cx="994.8" cy="2325.7" r="7.5"/><circle cx="1019" cy="2336.5" r="7.5"/><circle cx="1006.5" cy="2347.9" r="7.5"/><circle cx="1019" cy="2351.9" r="7.5"/><circle cx="994.8" cy="2358.4" r="7.5"/></g>
<text x="828.7" y="2081" font-size="20.7" text-anchor="end" font-weight="bold" fill="#231f20">100</text>
<text x="828.7" y="2138.7" font-size="20.7" text-anchor="end" font-weight="bold" fill="#231f20">80</text>
<text x="828.7" y="2196.4" font-size="20.7" text-anchor="end" font-weight="bold" fill="#231f20">60</text>
<text x="828.7" y="2254.7" font-size="20.7" text-anchor="end" font-weight="bold" fill="#231f20">40</text>
<text x="828.7" y="2312.7" font-size="20.7" text-anchor="end" font-weight="bold" fill="#231f20">20</text>
<text x="828.7" y="2370.9" font-size="20.7" text-anchor="end" font-weight="bold" fill="#231f20">0</text>
<text x="953" y="2131.8" font-size="20.7" text-anchor="middle" font-weight="bold" fill="#231f20">ns</text>
<text x="739.2" y="2220.4" font-size="20.7" text-anchor="middle" font-weight="bold" fill="#231f20" transform="rotate(-90 739.2 2220.4)">PD-L1 expressing cells</text>
<text x="765.3" y="2217.6" font-size="20.7" text-anchor="middle" font-weight="bold" fill="#231f20" transform="rotate(-90 765.3 2217.6)">[% of monocytes]</text>
<text x="901.2" y="2397.9" font-size="20.7" text-anchor="end" font-weight="bold" fill="#231f20" transform="rotate(-45 901.2 2397.9)">ctrl</text>
<text x="958.3" y="2395.5" font-size="20.7" text-anchor="end" font-weight="bold" fill="#231f20" transform="rotate(-45 958.3 2395.5)">LR MOI 1:0:1</text>
<text x="1017.7" y="2396.2" font-size="20.7" text-anchor="end" font-weight="bold" fill="#231f20" transform="rotate(-45 1017.7 2396.2)">LR MOI 1:1</text>
</svg>
</body></html>
